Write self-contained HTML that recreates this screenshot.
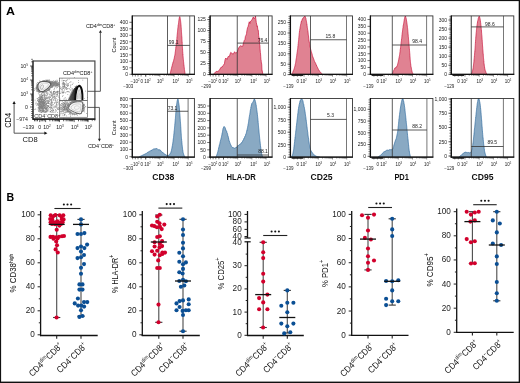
<!DOCTYPE html>
<html><head><meta charset="utf-8"><style>html,body{margin:0;padding:0;background:#fff;overflow:hidden}svg{display:block}text{font-family:"Liberation Sans",sans-serif}</style></head>
<body><svg width="520" height="383" viewBox="0 0 520 383" font-family="Liberation Sans, sans-serif">
<defs><filter id="gf" x="0" y="0" width="1" height="1"><feOffset dx="0" dy="0"/></filter></defs><g filter="url(#gf)"><rect x="0" y="0" width="520" height="383" fill="#fff"/>
<text transform="translate(6.0,14.6) scale(1.13,1)" font-size="11" font-weight="bold" fill="#000">A</text>
<text x="6.60" y="200.60" font-size="10.6" text-anchor="start" font-weight="bold" fill="#000" >B</text>
<path d="M170.00,74.30 L170.00,74.30 L170.08,73.97 L170.18,73.56 L170.30,73.10 L170.42,72.58 L170.56,72.12 L170.71,71.51 L170.87,70.74 L171.03,69.98 L171.20,69.44 L171.37,68.67 L171.54,68.27 L171.71,67.20 L171.88,66.65 L172.04,66.08 L172.20,65.70 L172.36,64.77 L172.50,64.03 L172.67,63.77 L172.83,63.05 L173.00,62.19 L173.16,62.16 L173.32,61.68 L173.48,61.01 L173.64,60.55 L173.80,59.54 L173.96,59.31 L174.11,58.86 L174.26,58.07 L174.41,57.25 L174.56,56.24 L174.70,55.75 L174.79,55.39 L174.87,55.12 L174.96,54.62 L175.05,53.67 L175.13,53.41 L175.22,52.33 L175.30,52.16 L175.38,51.34 L175.47,50.29 L175.55,50.22 L175.63,49.32 L175.71,49.02 L175.79,48.25 L175.87,47.07 L175.94,46.82 L176.02,46.48 L176.09,45.35 L176.16,44.79 L176.23,44.62 L176.30,43.47 L176.37,43.18 L176.44,42.35 L176.50,42.37 L176.58,41.55 L176.65,40.58 L176.72,39.62 L176.79,39.15 L176.85,38.64 L176.91,38.34 L176.97,37.04 L177.03,36.76 L177.09,36.26 L177.14,35.51 L177.20,35.11 L177.25,34.29 L177.31,34.02 L177.36,33.14 L177.42,32.53 L177.48,31.83 L177.54,31.36 L177.60,30.61 L177.67,30.10 L177.75,29.21 L177.82,28.46 L177.90,27.79 L177.98,27.47 L178.06,26.84 L178.13,26.05 L178.21,25.10 L178.29,25.00 L178.37,24.49 L178.44,23.93 L178.52,23.30 L178.59,22.79 L178.66,22.29 L178.73,21.49 L178.80,20.91 L178.94,20.17 L179.08,18.89 L179.21,18.48 L179.33,17.81 L179.45,17.29 L179.57,16.70 L179.70,16.86 L179.83,16.69 L179.96,16.94 L180.09,17.65 L180.22,18.63 L180.35,19.41 L180.48,20.24 L180.60,20.67 L180.65,21.55 L180.70,21.92 L180.75,22.54 L180.80,23.23 L180.85,23.29 L180.90,24.24 L180.95,24.33 L181.00,25.01 L181.05,26.09 L181.10,26.36 L181.15,27.41 L181.20,27.51 L181.25,28.24 L181.30,29.39 L181.35,29.59 L181.40,30.76 L181.44,31.56 L181.48,31.82 L181.51,32.51 L181.55,32.58 L181.59,33.68 L181.63,34.28 L181.67,34.89 L181.71,35.38 L181.75,36.02 L181.80,37.17 L181.84,37.08 L181.88,37.73 L181.92,39.15 L181.96,39.19 L182.00,39.80 L182.04,40.53 L182.08,41.64 L182.12,42.39 L182.15,42.28 L182.19,43.21 L182.23,43.55 L182.26,44.25 L182.30,44.78 L182.34,45.80 L182.38,46.23 L182.42,46.74 L182.46,47.62 L182.50,47.86 L182.53,48.51 L182.56,49.80 L182.60,49.75 L182.63,50.45 L182.67,51.32 L182.70,51.97 L182.74,52.60 L182.77,52.57 L182.81,53.54 L182.86,54.36 L182.90,54.23 L182.95,55.32 L183.00,56.08 L183.05,56.27 L183.11,56.82 L183.16,57.73 L183.23,58.24 L183.29,58.68 L183.35,59.57 L183.42,60.18 L183.49,60.97 L183.55,61.58 L183.62,62.08 L183.69,62.76 L183.76,63.78 L183.83,63.94 L183.89,64.80 L183.96,64.95 L184.02,66.11 L184.08,66.34 L184.14,66.64 L184.20,67.32 L184.30,68.12 L184.39,69.44 L184.49,69.81 L184.59,70.52 L184.68,71.25 L184.77,72.09 L184.85,72.53 L184.93,73.07 L185.00,73.54 L185.05,73.96 L185.10,74.30 L185.10,74.30 Z" fill="#e08292" stroke="none"/>
<path d="M170.00,74.30 L170.08,73.97 L170.18,73.56 L170.30,73.10 L170.42,72.58 L170.56,72.12 L170.71,71.51 L170.87,70.74 L171.03,69.98 L171.20,69.44 L171.37,68.67 L171.54,68.27 L171.71,67.20 L171.88,66.65 L172.04,66.08 L172.20,65.70 L172.36,64.77 L172.50,64.03 L172.67,63.77 L172.83,63.05 L173.00,62.19 L173.16,62.16 L173.32,61.68 L173.48,61.01 L173.64,60.55 L173.80,59.54 L173.96,59.31 L174.11,58.86 L174.26,58.07 L174.41,57.25 L174.56,56.24 L174.70,55.75 L174.79,55.39 L174.87,55.12 L174.96,54.62 L175.05,53.67 L175.13,53.41 L175.22,52.33 L175.30,52.16 L175.38,51.34 L175.47,50.29 L175.55,50.22 L175.63,49.32 L175.71,49.02 L175.79,48.25 L175.87,47.07 L175.94,46.82 L176.02,46.48 L176.09,45.35 L176.16,44.79 L176.23,44.62 L176.30,43.47 L176.37,43.18 L176.44,42.35 L176.50,42.37 L176.58,41.55 L176.65,40.58 L176.72,39.62 L176.79,39.15 L176.85,38.64 L176.91,38.34 L176.97,37.04 L177.03,36.76 L177.09,36.26 L177.14,35.51 L177.20,35.11 L177.25,34.29 L177.31,34.02 L177.36,33.14 L177.42,32.53 L177.48,31.83 L177.54,31.36 L177.60,30.61 L177.67,30.10 L177.75,29.21 L177.82,28.46 L177.90,27.79 L177.98,27.47 L178.06,26.84 L178.13,26.05 L178.21,25.10 L178.29,25.00 L178.37,24.49 L178.44,23.93 L178.52,23.30 L178.59,22.79 L178.66,22.29 L178.73,21.49 L178.80,20.91 L178.94,20.17 L179.08,18.89 L179.21,18.48 L179.33,17.81 L179.45,17.29 L179.57,16.70 L179.70,16.86 L179.83,16.69 L179.96,16.94 L180.09,17.65 L180.22,18.63 L180.35,19.41 L180.48,20.24 L180.60,20.67 L180.65,21.55 L180.70,21.92 L180.75,22.54 L180.80,23.23 L180.85,23.29 L180.90,24.24 L180.95,24.33 L181.00,25.01 L181.05,26.09 L181.10,26.36 L181.15,27.41 L181.20,27.51 L181.25,28.24 L181.30,29.39 L181.35,29.59 L181.40,30.76 L181.44,31.56 L181.48,31.82 L181.51,32.51 L181.55,32.58 L181.59,33.68 L181.63,34.28 L181.67,34.89 L181.71,35.38 L181.75,36.02 L181.80,37.17 L181.84,37.08 L181.88,37.73 L181.92,39.15 L181.96,39.19 L182.00,39.80 L182.04,40.53 L182.08,41.64 L182.12,42.39 L182.15,42.28 L182.19,43.21 L182.23,43.55 L182.26,44.25 L182.30,44.78 L182.34,45.80 L182.38,46.23 L182.42,46.74 L182.46,47.62 L182.50,47.86 L182.53,48.51 L182.56,49.80 L182.60,49.75 L182.63,50.45 L182.67,51.32 L182.70,51.97 L182.74,52.60 L182.77,52.57 L182.81,53.54 L182.86,54.36 L182.90,54.23 L182.95,55.32 L183.00,56.08 L183.05,56.27 L183.11,56.82 L183.16,57.73 L183.23,58.24 L183.29,58.68 L183.35,59.57 L183.42,60.18 L183.49,60.97 L183.55,61.58 L183.62,62.08 L183.69,62.76 L183.76,63.78 L183.83,63.94 L183.89,64.80 L183.96,64.95 L184.02,66.11 L184.08,66.34 L184.14,66.64 L184.20,67.32 L184.30,68.12 L184.39,69.44 L184.49,69.81 L184.59,70.52 L184.68,71.25 L184.77,72.09 L184.85,72.53 L184.93,73.07 L185.00,73.54 L185.05,73.96 L185.10,74.30" fill="none" stroke="#c8143c" stroke-width="0.7" stroke-linejoin="round"/>
<line x1="167.50" y1="15.90" x2="167.50" y2="74.30" stroke="#333" stroke-width="0.8" />
<line x1="189.75" y1="15.90" x2="189.75" y2="74.30" stroke="#555" stroke-width="0.8" />
<line x1="167.50" y1="45.40" x2="189.75" y2="45.40" stroke="#333" stroke-width="0.8" />
<text x="173.70" y="43.50" font-size="5.0" text-anchor="middle" fill="#222" >99.1</text>
<line x1="129.40" y1="74.30" x2="132.30" y2="74.30" stroke="#333" stroke-width="0.7" />
<text x="128.00" y="76.10" font-size="5.0" text-anchor="end" fill="#1a1a1a" >0</text>
<line x1="129.40" y1="67.80" x2="132.30" y2="67.80" stroke="#333" stroke-width="0.7" />
<text x="128.00" y="69.60" font-size="5.0" text-anchor="end" fill="#1a1a1a" >50</text>
<line x1="129.40" y1="61.30" x2="132.30" y2="61.30" stroke="#333" stroke-width="0.7" />
<text x="128.00" y="63.10" font-size="5.0" text-anchor="end" fill="#1a1a1a" >100</text>
<line x1="129.40" y1="54.80" x2="132.30" y2="54.80" stroke="#333" stroke-width="0.7" />
<text x="128.00" y="56.60" font-size="5.0" text-anchor="end" fill="#1a1a1a" >150</text>
<line x1="129.40" y1="48.30" x2="132.30" y2="48.30" stroke="#333" stroke-width="0.7" />
<text x="128.00" y="50.10" font-size="5.0" text-anchor="end" fill="#1a1a1a" >200</text>
<line x1="129.40" y1="41.80" x2="132.30" y2="41.80" stroke="#333" stroke-width="0.7" />
<text x="128.00" y="43.60" font-size="5.0" text-anchor="end" fill="#1a1a1a" >250</text>
<line x1="129.40" y1="35.30" x2="132.30" y2="35.30" stroke="#333" stroke-width="0.7" />
<text x="128.00" y="37.10" font-size="5.0" text-anchor="end" fill="#1a1a1a" >300</text>
<line x1="129.40" y1="28.80" x2="132.30" y2="28.80" stroke="#333" stroke-width="0.7" />
<text x="128.00" y="30.60" font-size="5.0" text-anchor="end" fill="#1a1a1a" >350</text>
<line x1="129.40" y1="22.30" x2="132.30" y2="22.30" stroke="#333" stroke-width="0.7" />
<text x="128.00" y="24.10" font-size="5.0" text-anchor="end" fill="#1a1a1a" >400</text>
<line x1="145.70" y1="74.30" x2="145.70" y2="76.70" stroke="#333" stroke-width="0.55" />
<line x1="149.97" y1="74.30" x2="149.97" y2="75.80" stroke="#333" stroke-width="0.55" />
<line x1="152.48" y1="74.30" x2="152.48" y2="75.80" stroke="#333" stroke-width="0.55" />
<line x1="154.25" y1="74.30" x2="154.25" y2="75.80" stroke="#333" stroke-width="0.55" />
<line x1="155.63" y1="74.30" x2="155.63" y2="75.80" stroke="#333" stroke-width="0.55" />
<line x1="156.75" y1="74.30" x2="156.75" y2="75.80" stroke="#333" stroke-width="0.55" />
<line x1="157.70" y1="74.30" x2="157.70" y2="75.80" stroke="#333" stroke-width="0.55" />
<line x1="158.52" y1="74.30" x2="158.52" y2="75.80" stroke="#333" stroke-width="0.55" />
<line x1="159.25" y1="74.30" x2="159.25" y2="75.80" stroke="#333" stroke-width="0.55" />
<line x1="159.90" y1="74.30" x2="159.90" y2="76.70" stroke="#333" stroke-width="0.55" />
<line x1="164.17" y1="74.30" x2="164.17" y2="75.80" stroke="#333" stroke-width="0.55" />
<line x1="166.68" y1="74.30" x2="166.68" y2="75.80" stroke="#333" stroke-width="0.55" />
<line x1="168.45" y1="74.30" x2="168.45" y2="75.80" stroke="#333" stroke-width="0.55" />
<line x1="169.83" y1="74.30" x2="169.83" y2="75.80" stroke="#333" stroke-width="0.55" />
<line x1="170.95" y1="74.30" x2="170.95" y2="75.80" stroke="#333" stroke-width="0.55" />
<line x1="171.90" y1="74.30" x2="171.90" y2="75.80" stroke="#333" stroke-width="0.55" />
<line x1="172.72" y1="74.30" x2="172.72" y2="75.80" stroke="#333" stroke-width="0.55" />
<line x1="173.45" y1="74.30" x2="173.45" y2="75.80" stroke="#333" stroke-width="0.55" />
<line x1="174.10" y1="74.30" x2="174.10" y2="76.70" stroke="#333" stroke-width="0.55" />
<line x1="178.37" y1="74.30" x2="178.37" y2="75.80" stroke="#333" stroke-width="0.55" />
<line x1="180.88" y1="74.30" x2="180.88" y2="75.80" stroke="#333" stroke-width="0.55" />
<line x1="182.65" y1="74.30" x2="182.65" y2="75.80" stroke="#333" stroke-width="0.55" />
<line x1="184.03" y1="74.30" x2="184.03" y2="75.80" stroke="#333" stroke-width="0.55" />
<line x1="185.15" y1="74.30" x2="185.15" y2="75.80" stroke="#333" stroke-width="0.55" />
<line x1="186.10" y1="74.30" x2="186.10" y2="75.80" stroke="#333" stroke-width="0.55" />
<line x1="186.92" y1="74.30" x2="186.92" y2="75.80" stroke="#333" stroke-width="0.55" />
<line x1="187.65" y1="74.30" x2="187.65" y2="75.80" stroke="#333" stroke-width="0.55" />
<line x1="188.30" y1="74.30" x2="188.30" y2="76.70" stroke="#333" stroke-width="0.55" />
<line x1="132.60" y1="74.30" x2="132.60" y2="76.50" stroke="#222" stroke-width="0.6" />
<line x1="135.30" y1="74.30" x2="135.30" y2="76.50" stroke="#222" stroke-width="0.6" />
<line x1="138.00" y1="74.30" x2="138.00" y2="76.50" stroke="#222" stroke-width="0.6" />
<line x1="141.10" y1="74.30" x2="141.10" y2="76.50" stroke="#222" stroke-width="0.6" />
<line x1="145.70" y1="74.30" x2="145.70" y2="76.50" stroke="#222" stroke-width="0.6" />
<text x="130.40" y="83.20" font-size="4.5" fill="#222">&#8722;10<tspan font-size="2.70" dy="-2.02">2</tspan></text>
<text x="140.60" y="83.20" font-size="4.5" fill="#222">0</text>
<text x="144.20" y="83.20" font-size="4.5" fill="#222">10<tspan font-size="2.70" dy="-2.02">2</tspan></text>
<text x="156.90" y="83.20" font-size="4.5" fill="#222">10<tspan font-size="2.70" dy="-2.02">3</tspan></text>
<text x="172.40" y="83.20" font-size="4.5" fill="#222">10<tspan font-size="2.70" dy="-2.02">4</tspan></text>
<text x="185.90" y="83.20" font-size="4.5" fill="#222">10<tspan font-size="2.70" dy="-2.02">5</tspan></text>
<text x="133.30" y="87.60" font-size="4.5" text-anchor="end" fill="#222" >&#8722;303</text>
<rect x="132.30" y="15.90" width="62.10" height="58.40" fill="none" stroke="#333" stroke-width="0.9"/>
<line x1="132.30" y1="15.45" x2="132.30" y2="74.90" stroke="#111" stroke-width="1.3" />
<line x1="131.70" y1="74.30" x2="194.85" y2="74.30" stroke="#111" stroke-width="1.3" />
<text transform="translate(116.20,45.10) rotate(-90)" font-size="5.6" text-anchor="middle" fill="#111">Count</text>
<path d="M213.30,74.30 L213.30,74.30 L214.47,73.34 L216.14,71.39 L217.80,71.46 L219.30,70.36 L220.80,67.50 L222.20,66.98 L222.97,65.56 L223.70,64.89 L224.41,63.87 L225.10,59.58 L225.80,58.01 L227.00,59.48 L228.20,56.41 L229.30,56.55 L230.71,52.39 L232.00,53.48 L233.30,54.19 L234.60,51.72 L235.89,53.39 L237.30,51.81 L238.99,47.20 L240.80,45.60 L241.74,46.36 L242.71,46.38 L243.62,42.46 L244.40,40.17 L244.98,39.48 L245.41,36.43 L245.79,35.66 L246.20,34.85 L246.55,33.57 L246.88,30.88 L247.22,29.18 L247.59,27.49 L248.00,26.94 L248.59,24.50 L249.24,21.75 L249.92,23.51 L250.60,21.13 L252.01,19.84 L253.30,16.94 L254.24,18.76 L255.00,17.84 L255.44,16.05 L255.84,18.87 L256.30,22.69 L256.63,24.01 L257.00,26.35 L257.38,25.85 L257.76,29.20 L258.10,30.48 L258.29,30.33 L258.48,32.86 L258.65,35.50 L258.83,36.88 L258.99,37.11 L259.16,39.10 L259.33,38.59 L259.50,41.17 L259.64,44.86 L259.78,44.88 L259.92,45.54 L260.06,48.71 L260.21,51.01 L260.35,52.58 L260.49,53.05 L260.63,54.93 L260.76,56.76 L260.90,59.31 L261.07,60.07 L261.24,61.33 L261.42,63.45 L261.59,63.29 L261.75,64.92 L261.91,69.01 L262.06,71.04 L262.20,70.83 L262.68,73.22 L263.00,74.30 L263.00,74.30 Z" fill="#e08292" stroke="none"/>
<path d="M213.30,74.30 L214.47,73.34 L216.14,71.39 L217.80,71.46 L219.30,70.36 L220.80,67.50 L222.20,66.98 L222.97,65.56 L223.70,64.89 L224.41,63.87 L225.10,59.58 L225.80,58.01 L227.00,59.48 L228.20,56.41 L229.30,56.55 L230.71,52.39 L232.00,53.48 L233.30,54.19 L234.60,51.72 L235.89,53.39 L237.30,51.81 L238.99,47.20 L240.80,45.60 L241.74,46.36 L242.71,46.38 L243.62,42.46 L244.40,40.17 L244.98,39.48 L245.41,36.43 L245.79,35.66 L246.20,34.85 L246.55,33.57 L246.88,30.88 L247.22,29.18 L247.59,27.49 L248.00,26.94 L248.59,24.50 L249.24,21.75 L249.92,23.51 L250.60,21.13 L252.01,19.84 L253.30,16.94 L254.24,18.76 L255.00,17.84 L255.44,16.05 L255.84,18.87 L256.30,22.69 L256.63,24.01 L257.00,26.35 L257.38,25.85 L257.76,29.20 L258.10,30.48 L258.29,30.33 L258.48,32.86 L258.65,35.50 L258.83,36.88 L258.99,37.11 L259.16,39.10 L259.33,38.59 L259.50,41.17 L259.64,44.86 L259.78,44.88 L259.92,45.54 L260.06,48.71 L260.21,51.01 L260.35,52.58 L260.49,53.05 L260.63,54.93 L260.76,56.76 L260.90,59.31 L261.07,60.07 L261.24,61.33 L261.42,63.45 L261.59,63.29 L261.75,64.92 L261.91,69.01 L262.06,71.04 L262.20,70.83 L262.68,73.22 L263.00,74.30" fill="none" stroke="#c8143c" stroke-width="0.7" stroke-linejoin="round"/>
<line x1="237.25" y1="15.90" x2="237.25" y2="74.30" stroke="#333" stroke-width="0.8" />
<line x1="268.50" y1="15.90" x2="268.50" y2="74.30" stroke="#555" stroke-width="0.8" />
<line x1="237.25" y1="43.10" x2="268.50" y2="43.10" stroke="#333" stroke-width="0.8" />
<text x="262.50" y="41.60" font-size="5.0" text-anchor="middle" fill="#222" >76.4</text>
<line x1="207.20" y1="74.60" x2="210.10" y2="74.60" stroke="#333" stroke-width="0.7" />
<text x="205.80" y="76.40" font-size="5.0" text-anchor="end" fill="#1a1a1a" >0</text>
<line x1="207.20" y1="63.60" x2="210.10" y2="63.60" stroke="#333" stroke-width="0.7" />
<text x="205.80" y="65.40" font-size="5.0" text-anchor="end" fill="#1a1a1a" >25</text>
<line x1="207.20" y1="52.60" x2="210.10" y2="52.60" stroke="#333" stroke-width="0.7" />
<text x="205.80" y="54.40" font-size="5.0" text-anchor="end" fill="#1a1a1a" >50</text>
<line x1="207.20" y1="41.60" x2="210.10" y2="41.60" stroke="#333" stroke-width="0.7" />
<text x="205.80" y="43.40" font-size="5.0" text-anchor="end" fill="#1a1a1a" >75</text>
<line x1="207.20" y1="30.60" x2="210.10" y2="30.60" stroke="#333" stroke-width="0.7" />
<text x="205.80" y="32.40" font-size="5.0" text-anchor="end" fill="#1a1a1a" >100</text>
<line x1="207.20" y1="19.60" x2="210.10" y2="19.60" stroke="#333" stroke-width="0.7" />
<text x="205.80" y="21.40" font-size="5.0" text-anchor="end" fill="#1a1a1a" >125</text>
<line x1="208.10" y1="74.60" x2="210.10" y2="74.60" stroke="#333" stroke-width="0.55" />
<line x1="208.10" y1="72.40" x2="210.10" y2="72.40" stroke="#333" stroke-width="0.55" />
<line x1="208.10" y1="70.20" x2="210.10" y2="70.20" stroke="#333" stroke-width="0.55" />
<line x1="208.10" y1="68.00" x2="210.10" y2="68.00" stroke="#333" stroke-width="0.55" />
<line x1="208.10" y1="65.80" x2="210.10" y2="65.80" stroke="#333" stroke-width="0.55" />
<line x1="208.10" y1="63.60" x2="210.10" y2="63.60" stroke="#333" stroke-width="0.55" />
<line x1="208.10" y1="61.40" x2="210.10" y2="61.40" stroke="#333" stroke-width="0.55" />
<line x1="208.10" y1="59.20" x2="210.10" y2="59.20" stroke="#333" stroke-width="0.55" />
<line x1="208.10" y1="57.00" x2="210.10" y2="57.00" stroke="#333" stroke-width="0.55" />
<line x1="208.10" y1="54.80" x2="210.10" y2="54.80" stroke="#333" stroke-width="0.55" />
<line x1="208.10" y1="52.60" x2="210.10" y2="52.60" stroke="#333" stroke-width="0.55" />
<line x1="208.10" y1="50.40" x2="210.10" y2="50.40" stroke="#333" stroke-width="0.55" />
<line x1="208.10" y1="48.20" x2="210.10" y2="48.20" stroke="#333" stroke-width="0.55" />
<line x1="208.10" y1="46.00" x2="210.10" y2="46.00" stroke="#333" stroke-width="0.55" />
<line x1="208.10" y1="43.80" x2="210.10" y2="43.80" stroke="#333" stroke-width="0.55" />
<line x1="208.10" y1="41.60" x2="210.10" y2="41.60" stroke="#333" stroke-width="0.55" />
<line x1="208.10" y1="39.40" x2="210.10" y2="39.40" stroke="#333" stroke-width="0.55" />
<line x1="208.10" y1="37.20" x2="210.10" y2="37.20" stroke="#333" stroke-width="0.55" />
<line x1="208.10" y1="35.00" x2="210.10" y2="35.00" stroke="#333" stroke-width="0.55" />
<line x1="208.10" y1="32.80" x2="210.10" y2="32.80" stroke="#333" stroke-width="0.55" />
<line x1="208.10" y1="30.60" x2="210.10" y2="30.60" stroke="#333" stroke-width="0.55" />
<line x1="208.10" y1="28.40" x2="210.10" y2="28.40" stroke="#333" stroke-width="0.55" />
<line x1="208.10" y1="26.20" x2="210.10" y2="26.20" stroke="#333" stroke-width="0.55" />
<line x1="208.10" y1="24.00" x2="210.10" y2="24.00" stroke="#333" stroke-width="0.55" />
<line x1="208.10" y1="21.80" x2="210.10" y2="21.80" stroke="#333" stroke-width="0.55" />
<line x1="208.10" y1="19.60" x2="210.10" y2="19.60" stroke="#333" stroke-width="0.55" />
<line x1="208.10" y1="17.40" x2="210.10" y2="17.40" stroke="#333" stroke-width="0.55" />
<line x1="223.50" y1="74.30" x2="223.50" y2="76.70" stroke="#333" stroke-width="0.55" />
<line x1="227.77" y1="74.30" x2="227.77" y2="75.80" stroke="#333" stroke-width="0.55" />
<line x1="230.28" y1="74.30" x2="230.28" y2="75.80" stroke="#333" stroke-width="0.55" />
<line x1="232.05" y1="74.30" x2="232.05" y2="75.80" stroke="#333" stroke-width="0.55" />
<line x1="233.43" y1="74.30" x2="233.43" y2="75.80" stroke="#333" stroke-width="0.55" />
<line x1="234.55" y1="74.30" x2="234.55" y2="75.80" stroke="#333" stroke-width="0.55" />
<line x1="235.50" y1="74.30" x2="235.50" y2="75.80" stroke="#333" stroke-width="0.55" />
<line x1="236.32" y1="74.30" x2="236.32" y2="75.80" stroke="#333" stroke-width="0.55" />
<line x1="237.05" y1="74.30" x2="237.05" y2="75.80" stroke="#333" stroke-width="0.55" />
<line x1="237.70" y1="74.30" x2="237.70" y2="76.70" stroke="#333" stroke-width="0.55" />
<line x1="241.97" y1="74.30" x2="241.97" y2="75.80" stroke="#333" stroke-width="0.55" />
<line x1="244.48" y1="74.30" x2="244.48" y2="75.80" stroke="#333" stroke-width="0.55" />
<line x1="246.25" y1="74.30" x2="246.25" y2="75.80" stroke="#333" stroke-width="0.55" />
<line x1="247.63" y1="74.30" x2="247.63" y2="75.80" stroke="#333" stroke-width="0.55" />
<line x1="248.75" y1="74.30" x2="248.75" y2="75.80" stroke="#333" stroke-width="0.55" />
<line x1="249.70" y1="74.30" x2="249.70" y2="75.80" stroke="#333" stroke-width="0.55" />
<line x1="250.52" y1="74.30" x2="250.52" y2="75.80" stroke="#333" stroke-width="0.55" />
<line x1="251.25" y1="74.30" x2="251.25" y2="75.80" stroke="#333" stroke-width="0.55" />
<line x1="251.90" y1="74.30" x2="251.90" y2="76.70" stroke="#333" stroke-width="0.55" />
<line x1="256.17" y1="74.30" x2="256.17" y2="75.80" stroke="#333" stroke-width="0.55" />
<line x1="258.68" y1="74.30" x2="258.68" y2="75.80" stroke="#333" stroke-width="0.55" />
<line x1="260.45" y1="74.30" x2="260.45" y2="75.80" stroke="#333" stroke-width="0.55" />
<line x1="261.83" y1="74.30" x2="261.83" y2="75.80" stroke="#333" stroke-width="0.55" />
<line x1="262.95" y1="74.30" x2="262.95" y2="75.80" stroke="#333" stroke-width="0.55" />
<line x1="263.90" y1="74.30" x2="263.90" y2="75.80" stroke="#333" stroke-width="0.55" />
<line x1="264.72" y1="74.30" x2="264.72" y2="75.80" stroke="#333" stroke-width="0.55" />
<line x1="265.45" y1="74.30" x2="265.45" y2="75.80" stroke="#333" stroke-width="0.55" />
<line x1="266.10" y1="74.30" x2="266.10" y2="76.70" stroke="#333" stroke-width="0.55" />
<line x1="210.40" y1="74.30" x2="210.40" y2="76.50" stroke="#222" stroke-width="0.6" />
<line x1="213.10" y1="74.30" x2="213.10" y2="76.50" stroke="#222" stroke-width="0.6" />
<line x1="215.80" y1="74.30" x2="215.80" y2="76.50" stroke="#222" stroke-width="0.6" />
<line x1="218.90" y1="74.30" x2="218.90" y2="76.50" stroke="#222" stroke-width="0.6" />
<line x1="223.50" y1="74.30" x2="223.50" y2="76.50" stroke="#222" stroke-width="0.6" />
<text x="208.20" y="83.20" font-size="4.5" fill="#222">&#8722;10<tspan font-size="2.70" dy="-2.02">2</tspan></text>
<text x="218.40" y="83.20" font-size="4.5" fill="#222">0</text>
<text x="222.00" y="83.20" font-size="4.5" fill="#222">10<tspan font-size="2.70" dy="-2.02">2</tspan></text>
<text x="234.70" y="83.20" font-size="4.5" fill="#222">10<tspan font-size="2.70" dy="-2.02">3</tspan></text>
<text x="250.20" y="83.20" font-size="4.5" fill="#222">10<tspan font-size="2.70" dy="-2.02">4</tspan></text>
<text x="263.70" y="83.20" font-size="4.5" fill="#222">10<tspan font-size="2.70" dy="-2.02">5</tspan></text>
<text x="211.10" y="87.60" font-size="4.5" text-anchor="end" fill="#222" >&#8722;299</text>
<rect x="210.10" y="15.90" width="62.00" height="58.40" fill="none" stroke="#333" stroke-width="0.9"/>
<line x1="210.10" y1="15.45" x2="210.10" y2="74.90" stroke="#111" stroke-width="1.3" />
<line x1="209.50" y1="74.30" x2="272.55" y2="74.30" stroke="#111" stroke-width="1.3" />
<path d="M291.90,74.30 L291.90,74.30 L292.02,73.98 L292.17,73.62 L292.34,73.22 L292.54,72.77 L292.75,72.41 L292.97,71.92 L293.21,71.03 L293.45,70.40 L293.70,70.16 L293.95,69.44 L294.20,68.70 L294.44,67.65 L294.67,67.09 L294.89,66.26 L295.10,65.36 L295.20,64.57 L295.30,64.31 L295.39,63.78 L295.49,63.53 L295.59,63.22 L295.69,62.63 L295.79,61.75 L295.88,61.09 L295.98,60.36 L296.07,59.58 L296.17,58.97 L296.26,58.70 L296.36,57.96 L296.45,57.38 L296.54,57.15 L296.64,56.22 L296.73,55.60 L296.82,54.70 L296.90,53.89 L296.99,53.49 L297.08,52.69 L297.16,52.36 L297.25,52.11 L297.33,51.23 L297.41,50.21 L297.49,50.17 L297.57,49.48 L297.65,48.84 L297.73,48.40 L297.80,47.71 L297.88,47.08 L297.96,46.08 L298.04,45.92 L298.12,45.25 L298.19,43.95 L298.26,43.76 L298.33,43.07 L298.39,42.21 L298.46,41.61 L298.52,40.92 L298.58,40.62 L298.65,39.63 L298.71,39.26 L298.77,38.24 L298.83,38.04 L298.88,37.43 L298.94,36.47 L299.00,35.95 L299.06,35.64 L299.12,34.90 L299.18,34.14 L299.24,33.37 L299.31,32.91 L299.37,32.68 L299.43,31.73 L299.50,31.83 L299.61,30.52 L299.72,30.27 L299.83,29.05 L299.94,28.85 L300.06,27.96 L300.17,27.14 L300.28,26.51 L300.39,26.00 L300.51,25.35 L300.62,24.56 L300.73,23.94 L300.85,23.66 L300.96,23.50 L301.07,22.78 L301.19,21.89 L301.30,22.06 L301.60,21.01 L301.90,20.41 L302.20,19.26 L302.50,19.24 L302.80,18.27 L303.10,18.32 L303.57,17.36 L304.06,16.74 L304.51,16.86 L304.90,16.09 L305.27,16.65 L305.54,17.55 L305.80,18.00 L305.92,18.43 L306.02,19.47 L306.12,19.65 L306.23,20.50 L306.34,20.65 L306.46,21.70 L306.60,22.44 L306.68,23.33 L306.76,23.38 L306.84,24.63 L306.93,24.47 L307.02,25.63 L307.12,25.69 L307.21,26.52 L307.31,27.62 L307.41,27.77 L307.51,28.47 L307.61,29.56 L307.70,30.01 L307.80,30.44 L307.90,31.89 L307.98,31.80 L308.06,32.31 L308.14,33.17 L308.21,34.02 L308.29,34.76 L308.37,34.90 L308.45,35.73 L308.53,36.14 L308.61,37.13 L308.69,38.04 L308.77,38.67 L308.86,39.45 L308.94,39.97 L309.03,40.69 L309.12,41.18 L309.21,41.59 L309.30,41.98 L309.41,42.98 L309.51,43.34 L309.62,43.79 L309.73,44.68 L309.84,45.63 L309.95,45.63 L310.07,46.59 L310.18,47.03 L310.30,47.70 L310.43,47.98 L310.55,49.21 L310.68,49.21 L310.82,50.06 L310.96,50.47 L311.10,50.71 L311.26,51.75 L311.43,52.02 L311.60,52.55 L311.78,53.13 L311.97,53.83 L312.15,54.36 L312.34,55.38 L312.54,55.85 L312.73,56.80 L312.93,57.32 L313.12,57.92 L313.32,57.85 L313.51,58.54 L313.70,58.90 L313.94,59.81 L314.18,60.45 L314.43,61.19 L314.67,61.69 L314.92,61.90 L315.17,62.58 L315.41,63.21 L315.66,63.33 L315.91,63.88 L316.15,64.70 L316.40,64.99 L316.70,66.12 L316.98,66.36 L317.27,66.87 L317.56,67.55 L317.85,68.19 L318.14,68.78 L318.45,69.56 L318.76,70.07 L319.10,70.51 L319.52,71.22 L320.00,71.63 L320.51,72.38 L321.02,72.78 L321.51,73.25 L321.95,73.67 L322.32,74.03 L322.60,74.30 L322.60,74.30 Z" fill="#e08292" stroke="none"/>
<path d="M291.90,74.30 L292.02,73.98 L292.17,73.62 L292.34,73.22 L292.54,72.77 L292.75,72.41 L292.97,71.92 L293.21,71.03 L293.45,70.40 L293.70,70.16 L293.95,69.44 L294.20,68.70 L294.44,67.65 L294.67,67.09 L294.89,66.26 L295.10,65.36 L295.20,64.57 L295.30,64.31 L295.39,63.78 L295.49,63.53 L295.59,63.22 L295.69,62.63 L295.79,61.75 L295.88,61.09 L295.98,60.36 L296.07,59.58 L296.17,58.97 L296.26,58.70 L296.36,57.96 L296.45,57.38 L296.54,57.15 L296.64,56.22 L296.73,55.60 L296.82,54.70 L296.90,53.89 L296.99,53.49 L297.08,52.69 L297.16,52.36 L297.25,52.11 L297.33,51.23 L297.41,50.21 L297.49,50.17 L297.57,49.48 L297.65,48.84 L297.73,48.40 L297.80,47.71 L297.88,47.08 L297.96,46.08 L298.04,45.92 L298.12,45.25 L298.19,43.95 L298.26,43.76 L298.33,43.07 L298.39,42.21 L298.46,41.61 L298.52,40.92 L298.58,40.62 L298.65,39.63 L298.71,39.26 L298.77,38.24 L298.83,38.04 L298.88,37.43 L298.94,36.47 L299.00,35.95 L299.06,35.64 L299.12,34.90 L299.18,34.14 L299.24,33.37 L299.31,32.91 L299.37,32.68 L299.43,31.73 L299.50,31.83 L299.61,30.52 L299.72,30.27 L299.83,29.05 L299.94,28.85 L300.06,27.96 L300.17,27.14 L300.28,26.51 L300.39,26.00 L300.51,25.35 L300.62,24.56 L300.73,23.94 L300.85,23.66 L300.96,23.50 L301.07,22.78 L301.19,21.89 L301.30,22.06 L301.60,21.01 L301.90,20.41 L302.20,19.26 L302.50,19.24 L302.80,18.27 L303.10,18.32 L303.57,17.36 L304.06,16.74 L304.51,16.86 L304.90,16.09 L305.27,16.65 L305.54,17.55 L305.80,18.00 L305.92,18.43 L306.02,19.47 L306.12,19.65 L306.23,20.50 L306.34,20.65 L306.46,21.70 L306.60,22.44 L306.68,23.33 L306.76,23.38 L306.84,24.63 L306.93,24.47 L307.02,25.63 L307.12,25.69 L307.21,26.52 L307.31,27.62 L307.41,27.77 L307.51,28.47 L307.61,29.56 L307.70,30.01 L307.80,30.44 L307.90,31.89 L307.98,31.80 L308.06,32.31 L308.14,33.17 L308.21,34.02 L308.29,34.76 L308.37,34.90 L308.45,35.73 L308.53,36.14 L308.61,37.13 L308.69,38.04 L308.77,38.67 L308.86,39.45 L308.94,39.97 L309.03,40.69 L309.12,41.18 L309.21,41.59 L309.30,41.98 L309.41,42.98 L309.51,43.34 L309.62,43.79 L309.73,44.68 L309.84,45.63 L309.95,45.63 L310.07,46.59 L310.18,47.03 L310.30,47.70 L310.43,47.98 L310.55,49.21 L310.68,49.21 L310.82,50.06 L310.96,50.47 L311.10,50.71 L311.26,51.75 L311.43,52.02 L311.60,52.55 L311.78,53.13 L311.97,53.83 L312.15,54.36 L312.34,55.38 L312.54,55.85 L312.73,56.80 L312.93,57.32 L313.12,57.92 L313.32,57.85 L313.51,58.54 L313.70,58.90 L313.94,59.81 L314.18,60.45 L314.43,61.19 L314.67,61.69 L314.92,61.90 L315.17,62.58 L315.41,63.21 L315.66,63.33 L315.91,63.88 L316.15,64.70 L316.40,64.99 L316.70,66.12 L316.98,66.36 L317.27,66.87 L317.56,67.55 L317.85,68.19 L318.14,68.78 L318.45,69.56 L318.76,70.07 L319.10,70.51 L319.52,71.22 L320.00,71.63 L320.51,72.38 L321.02,72.78 L321.51,73.25 L321.95,73.67 L322.32,74.03 L322.60,74.30" fill="none" stroke="#c8143c" stroke-width="0.7" stroke-linejoin="round"/>
<line x1="310.50" y1="15.90" x2="310.50" y2="74.30" stroke="#333" stroke-width="0.8" />
<line x1="346.50" y1="15.90" x2="346.50" y2="74.30" stroke="#555" stroke-width="0.8" />
<line x1="310.50" y1="39.75" x2="346.50" y2="39.75" stroke="#333" stroke-width="0.8" />
<text x="330.40" y="38.10" font-size="5.0" text-anchor="middle" fill="#222" >15.8</text>
<line x1="287.50" y1="74.60" x2="290.40" y2="74.60" stroke="#333" stroke-width="0.7" />
<text x="286.10" y="76.40" font-size="5.0" text-anchor="end" fill="#1a1a1a" >0</text>
<line x1="287.50" y1="64.20" x2="290.40" y2="64.20" stroke="#333" stroke-width="0.7" />
<text x="286.10" y="66.00" font-size="5.0" text-anchor="end" fill="#1a1a1a" >50</text>
<line x1="287.50" y1="53.80" x2="290.40" y2="53.80" stroke="#333" stroke-width="0.7" />
<text x="286.10" y="55.60" font-size="5.0" text-anchor="end" fill="#1a1a1a" >100</text>
<line x1="287.50" y1="43.40" x2="290.40" y2="43.40" stroke="#333" stroke-width="0.7" />
<text x="286.10" y="45.20" font-size="5.0" text-anchor="end" fill="#1a1a1a" >150</text>
<line x1="287.50" y1="33.00" x2="290.40" y2="33.00" stroke="#333" stroke-width="0.7" />
<text x="286.10" y="34.80" font-size="5.0" text-anchor="end" fill="#1a1a1a" >200</text>
<line x1="287.50" y1="22.60" x2="290.40" y2="22.60" stroke="#333" stroke-width="0.7" />
<text x="286.10" y="24.40" font-size="5.0" text-anchor="end" fill="#1a1a1a" >250</text>
<line x1="288.40" y1="74.60" x2="290.40" y2="74.60" stroke="#333" stroke-width="0.55" />
<line x1="288.40" y1="72.52" x2="290.40" y2="72.52" stroke="#333" stroke-width="0.55" />
<line x1="288.40" y1="70.44" x2="290.40" y2="70.44" stroke="#333" stroke-width="0.55" />
<line x1="288.40" y1="68.36" x2="290.40" y2="68.36" stroke="#333" stroke-width="0.55" />
<line x1="288.40" y1="66.28" x2="290.40" y2="66.28" stroke="#333" stroke-width="0.55" />
<line x1="288.40" y1="64.20" x2="290.40" y2="64.20" stroke="#333" stroke-width="0.55" />
<line x1="288.40" y1="62.12" x2="290.40" y2="62.12" stroke="#333" stroke-width="0.55" />
<line x1="288.40" y1="60.04" x2="290.40" y2="60.04" stroke="#333" stroke-width="0.55" />
<line x1="288.40" y1="57.96" x2="290.40" y2="57.96" stroke="#333" stroke-width="0.55" />
<line x1="288.40" y1="55.88" x2="290.40" y2="55.88" stroke="#333" stroke-width="0.55" />
<line x1="288.40" y1="53.80" x2="290.40" y2="53.80" stroke="#333" stroke-width="0.55" />
<line x1="288.40" y1="51.72" x2="290.40" y2="51.72" stroke="#333" stroke-width="0.55" />
<line x1="288.40" y1="49.64" x2="290.40" y2="49.64" stroke="#333" stroke-width="0.55" />
<line x1="288.40" y1="47.56" x2="290.40" y2="47.56" stroke="#333" stroke-width="0.55" />
<line x1="288.40" y1="45.48" x2="290.40" y2="45.48" stroke="#333" stroke-width="0.55" />
<line x1="288.40" y1="43.40" x2="290.40" y2="43.40" stroke="#333" stroke-width="0.55" />
<line x1="288.40" y1="41.32" x2="290.40" y2="41.32" stroke="#333" stroke-width="0.55" />
<line x1="288.40" y1="39.24" x2="290.40" y2="39.24" stroke="#333" stroke-width="0.55" />
<line x1="288.40" y1="37.16" x2="290.40" y2="37.16" stroke="#333" stroke-width="0.55" />
<line x1="288.40" y1="35.08" x2="290.40" y2="35.08" stroke="#333" stroke-width="0.55" />
<line x1="288.40" y1="33.00" x2="290.40" y2="33.00" stroke="#333" stroke-width="0.55" />
<line x1="288.40" y1="30.92" x2="290.40" y2="30.92" stroke="#333" stroke-width="0.55" />
<line x1="288.40" y1="28.84" x2="290.40" y2="28.84" stroke="#333" stroke-width="0.55" />
<line x1="288.40" y1="26.76" x2="290.40" y2="26.76" stroke="#333" stroke-width="0.55" />
<line x1="288.40" y1="24.68" x2="290.40" y2="24.68" stroke="#333" stroke-width="0.55" />
<line x1="288.40" y1="22.60" x2="290.40" y2="22.60" stroke="#333" stroke-width="0.55" />
<line x1="288.40" y1="20.52" x2="290.40" y2="20.52" stroke="#333" stroke-width="0.55" />
<line x1="288.40" y1="18.44" x2="290.40" y2="18.44" stroke="#333" stroke-width="0.55" />
<line x1="288.40" y1="16.36" x2="290.40" y2="16.36" stroke="#333" stroke-width="0.55" />
<line x1="304.10" y1="74.30" x2="304.10" y2="76.70" stroke="#333" stroke-width="0.55" />
<line x1="308.37" y1="74.30" x2="308.37" y2="75.80" stroke="#333" stroke-width="0.55" />
<line x1="310.88" y1="74.30" x2="310.88" y2="75.80" stroke="#333" stroke-width="0.55" />
<line x1="312.65" y1="74.30" x2="312.65" y2="75.80" stroke="#333" stroke-width="0.55" />
<line x1="314.03" y1="74.30" x2="314.03" y2="75.80" stroke="#333" stroke-width="0.55" />
<line x1="315.15" y1="74.30" x2="315.15" y2="75.80" stroke="#333" stroke-width="0.55" />
<line x1="316.10" y1="74.30" x2="316.10" y2="75.80" stroke="#333" stroke-width="0.55" />
<line x1="316.92" y1="74.30" x2="316.92" y2="75.80" stroke="#333" stroke-width="0.55" />
<line x1="317.65" y1="74.30" x2="317.65" y2="75.80" stroke="#333" stroke-width="0.55" />
<line x1="318.30" y1="74.30" x2="318.30" y2="76.70" stroke="#333" stroke-width="0.55" />
<line x1="322.57" y1="74.30" x2="322.57" y2="75.80" stroke="#333" stroke-width="0.55" />
<line x1="325.08" y1="74.30" x2="325.08" y2="75.80" stroke="#333" stroke-width="0.55" />
<line x1="326.85" y1="74.30" x2="326.85" y2="75.80" stroke="#333" stroke-width="0.55" />
<line x1="328.23" y1="74.30" x2="328.23" y2="75.80" stroke="#333" stroke-width="0.55" />
<line x1="329.35" y1="74.30" x2="329.35" y2="75.80" stroke="#333" stroke-width="0.55" />
<line x1="330.30" y1="74.30" x2="330.30" y2="75.80" stroke="#333" stroke-width="0.55" />
<line x1="331.12" y1="74.30" x2="331.12" y2="75.80" stroke="#333" stroke-width="0.55" />
<line x1="331.85" y1="74.30" x2="331.85" y2="75.80" stroke="#333" stroke-width="0.55" />
<line x1="332.50" y1="74.30" x2="332.50" y2="76.70" stroke="#333" stroke-width="0.55" />
<line x1="336.77" y1="74.30" x2="336.77" y2="75.80" stroke="#333" stroke-width="0.55" />
<line x1="339.28" y1="74.30" x2="339.28" y2="75.80" stroke="#333" stroke-width="0.55" />
<line x1="341.05" y1="74.30" x2="341.05" y2="75.80" stroke="#333" stroke-width="0.55" />
<line x1="342.43" y1="74.30" x2="342.43" y2="75.80" stroke="#333" stroke-width="0.55" />
<line x1="343.55" y1="74.30" x2="343.55" y2="75.80" stroke="#333" stroke-width="0.55" />
<line x1="344.50" y1="74.30" x2="344.50" y2="75.80" stroke="#333" stroke-width="0.55" />
<line x1="345.32" y1="74.30" x2="345.32" y2="75.80" stroke="#333" stroke-width="0.55" />
<line x1="346.05" y1="74.30" x2="346.05" y2="75.80" stroke="#333" stroke-width="0.55" />
<line x1="346.70" y1="74.30" x2="346.70" y2="76.70" stroke="#333" stroke-width="0.55" />
<rect x="291.60" y="74.30" width="11.6" height="1.6" fill="#111"/>
<line x1="293.90" y1="74.30" x2="293.90" y2="76.60" stroke="#222" stroke-width="0.6" />
<line x1="297.40" y1="74.30" x2="297.40" y2="76.60" stroke="#222" stroke-width="0.6" />
<line x1="300.90" y1="74.30" x2="300.90" y2="76.60" stroke="#222" stroke-width="0.6" />
<text x="296.40" y="83.20" font-size="4.5" fill="#222">0</text>
<text x="300.20" y="83.20" font-size="4.5" fill="#222">10<tspan font-size="2.70" dy="-2.02">2</tspan></text>
<text x="315.60" y="83.20" font-size="4.5" fill="#222">10<tspan font-size="2.70" dy="-2.02">3</tspan></text>
<text x="329.80" y="83.20" font-size="4.5" fill="#222">10<tspan font-size="2.70" dy="-2.02">4</tspan></text>
<text x="343.90" y="83.20" font-size="4.5" fill="#222">10<tspan font-size="2.70" dy="-2.02">5</tspan></text>
<text x="293.40" y="87.60" font-size="4.5" text-anchor="end" fill="#222" >&#8722;139</text>
<rect x="290.40" y="15.90" width="62.10" height="58.40" fill="none" stroke="#333" stroke-width="0.9"/>
<line x1="290.40" y1="15.45" x2="290.40" y2="74.90" stroke="#111" stroke-width="1.3" />
<line x1="289.80" y1="74.30" x2="352.95" y2="74.30" stroke="#111" stroke-width="1.3" />
<path d="M392.00,74.30 L392.00,74.30 L392.15,73.96 L392.35,73.52 L392.59,72.99 L392.85,72.40 L393.13,71.68 L393.43,71.14 L393.73,70.41 L394.03,69.92 L394.32,69.38 L394.60,68.48 L394.98,67.87 L395.38,68.13 L395.77,67.35 L396.17,66.99 L396.55,67.16 L396.93,66.14 L397.30,65.57 L397.44,64.87 L397.58,64.56 L397.71,63.69 L397.85,63.58 L397.98,63.24 L398.11,62.41 L398.25,62.02 L398.38,61.37 L398.51,60.27 L398.63,60.20 L398.76,59.42 L398.89,58.53 L399.01,57.65 L399.13,57.64 L399.25,56.65 L399.37,56.16 L399.49,55.59 L399.60,54.77 L399.69,54.39 L399.77,53.41 L399.86,53.16 L399.94,52.29 L400.02,52.09 L400.11,51.45 L400.18,50.21 L400.26,49.63 L400.34,49.07 L400.42,49.04 L400.49,47.99 L400.57,47.50 L400.64,46.60 L400.72,46.13 L400.79,45.39 L400.87,44.72 L400.94,44.26 L401.02,43.62 L401.09,43.24 L401.17,42.42 L401.25,41.99 L401.32,41.31 L401.40,40.79 L401.48,39.92 L401.56,38.88 L401.63,38.80 L401.71,38.25 L401.79,37.56 L401.86,36.64 L401.94,36.11 L402.01,35.06 L402.09,34.90 L402.17,34.05 L402.24,33.17 L402.32,32.36 L402.40,32.35 L402.47,31.83 L402.55,30.48 L402.63,30.44 L402.71,29.52 L402.79,28.71 L402.87,28.24 L402.95,28.05 L403.03,27.57 L403.12,26.37 L403.20,26.29 L403.32,25.07 L403.45,24.82 L403.58,23.70 L403.71,23.33 L403.84,22.60 L403.98,21.42 L404.11,21.05 L404.25,19.76 L404.39,18.88 L404.52,18.66 L404.66,17.63 L404.79,17.25 L404.92,17.00 L405.05,16.83 L405.18,16.24 L405.30,16.03 L405.45,16.71 L405.60,16.44 L405.74,17.27 L405.89,17.66 L406.03,17.80 L406.17,18.51 L406.31,19.29 L406.45,20.18 L406.59,20.97 L406.72,21.81 L406.85,22.75 L406.98,23.89 L407.10,24.41 L407.17,24.84 L407.24,25.59 L407.30,25.74 L407.37,26.34 L407.43,27.46 L407.50,27.68 L407.56,28.30 L407.62,28.49 L407.69,29.44 L407.75,30.21 L407.81,30.40 L407.87,31.53 L407.93,32.20 L407.99,32.40 L408.04,33.52 L408.10,34.05 L408.16,34.88 L408.22,35.28 L408.27,36.22 L408.33,36.89 L408.39,36.96 L408.44,37.63 L408.50,38.74 L408.56,39.59 L408.61,39.65 L408.67,40.44 L408.72,41.19 L408.78,41.61 L408.83,42.28 L408.89,42.88 L408.94,43.57 L409.00,44.40 L409.05,44.80 L409.10,45.50 L409.16,46.45 L409.21,46.49 L409.26,47.55 L409.31,48.31 L409.36,48.58 L409.41,49.12 L409.46,50.19 L409.51,50.33 L409.56,50.87 L409.61,51.64 L409.65,52.41 L409.70,52.48 L409.76,53.38 L409.82,54.10 L409.87,55.20 L409.92,55.57 L409.97,56.57 L410.02,56.68 L410.07,57.46 L410.11,58.34 L410.16,59.16 L410.21,59.42 L410.26,59.84 L410.31,60.35 L410.36,61.27 L410.42,61.57 L410.47,62.63 L410.53,63.22 L410.60,63.25 L410.69,64.04 L410.79,65.18 L410.89,65.75 L411.00,66.58 L411.11,66.89 L411.22,67.37 L411.33,68.14 L411.45,69.14 L411.56,69.36 L411.67,69.98 L411.79,70.54 L411.89,71.03 L412.00,71.47 L412.29,72.44 L412.59,73.13 L412.88,73.63 L413.12,74.00 L413.30,74.30 L413.30,74.30 Z" fill="#e08292" stroke="none"/>
<path d="M392.00,74.30 L392.15,73.96 L392.35,73.52 L392.59,72.99 L392.85,72.40 L393.13,71.68 L393.43,71.14 L393.73,70.41 L394.03,69.92 L394.32,69.38 L394.60,68.48 L394.98,67.87 L395.38,68.13 L395.77,67.35 L396.17,66.99 L396.55,67.16 L396.93,66.14 L397.30,65.57 L397.44,64.87 L397.58,64.56 L397.71,63.69 L397.85,63.58 L397.98,63.24 L398.11,62.41 L398.25,62.02 L398.38,61.37 L398.51,60.27 L398.63,60.20 L398.76,59.42 L398.89,58.53 L399.01,57.65 L399.13,57.64 L399.25,56.65 L399.37,56.16 L399.49,55.59 L399.60,54.77 L399.69,54.39 L399.77,53.41 L399.86,53.16 L399.94,52.29 L400.02,52.09 L400.11,51.45 L400.18,50.21 L400.26,49.63 L400.34,49.07 L400.42,49.04 L400.49,47.99 L400.57,47.50 L400.64,46.60 L400.72,46.13 L400.79,45.39 L400.87,44.72 L400.94,44.26 L401.02,43.62 L401.09,43.24 L401.17,42.42 L401.25,41.99 L401.32,41.31 L401.40,40.79 L401.48,39.92 L401.56,38.88 L401.63,38.80 L401.71,38.25 L401.79,37.56 L401.86,36.64 L401.94,36.11 L402.01,35.06 L402.09,34.90 L402.17,34.05 L402.24,33.17 L402.32,32.36 L402.40,32.35 L402.47,31.83 L402.55,30.48 L402.63,30.44 L402.71,29.52 L402.79,28.71 L402.87,28.24 L402.95,28.05 L403.03,27.57 L403.12,26.37 L403.20,26.29 L403.32,25.07 L403.45,24.82 L403.58,23.70 L403.71,23.33 L403.84,22.60 L403.98,21.42 L404.11,21.05 L404.25,19.76 L404.39,18.88 L404.52,18.66 L404.66,17.63 L404.79,17.25 L404.92,17.00 L405.05,16.83 L405.18,16.24 L405.30,16.03 L405.45,16.71 L405.60,16.44 L405.74,17.27 L405.89,17.66 L406.03,17.80 L406.17,18.51 L406.31,19.29 L406.45,20.18 L406.59,20.97 L406.72,21.81 L406.85,22.75 L406.98,23.89 L407.10,24.41 L407.17,24.84 L407.24,25.59 L407.30,25.74 L407.37,26.34 L407.43,27.46 L407.50,27.68 L407.56,28.30 L407.62,28.49 L407.69,29.44 L407.75,30.21 L407.81,30.40 L407.87,31.53 L407.93,32.20 L407.99,32.40 L408.04,33.52 L408.10,34.05 L408.16,34.88 L408.22,35.28 L408.27,36.22 L408.33,36.89 L408.39,36.96 L408.44,37.63 L408.50,38.74 L408.56,39.59 L408.61,39.65 L408.67,40.44 L408.72,41.19 L408.78,41.61 L408.83,42.28 L408.89,42.88 L408.94,43.57 L409.00,44.40 L409.05,44.80 L409.10,45.50 L409.16,46.45 L409.21,46.49 L409.26,47.55 L409.31,48.31 L409.36,48.58 L409.41,49.12 L409.46,50.19 L409.51,50.33 L409.56,50.87 L409.61,51.64 L409.65,52.41 L409.70,52.48 L409.76,53.38 L409.82,54.10 L409.87,55.20 L409.92,55.57 L409.97,56.57 L410.02,56.68 L410.07,57.46 L410.11,58.34 L410.16,59.16 L410.21,59.42 L410.26,59.84 L410.31,60.35 L410.36,61.27 L410.42,61.57 L410.47,62.63 L410.53,63.22 L410.60,63.25 L410.69,64.04 L410.79,65.18 L410.89,65.75 L411.00,66.58 L411.11,66.89 L411.22,67.37 L411.33,68.14 L411.45,69.14 L411.56,69.36 L411.67,69.98 L411.79,70.54 L411.89,71.03 L412.00,71.47 L412.29,72.44 L412.59,73.13 L412.88,73.63 L413.12,74.00 L413.30,74.30" fill="none" stroke="#c8143c" stroke-width="0.7" stroke-linejoin="round"/>
<line x1="392.30" y1="15.90" x2="392.30" y2="74.30" stroke="#333" stroke-width="0.8" />
<line x1="426.60" y1="15.90" x2="426.60" y2="74.30" stroke="#555" stroke-width="0.8" />
<line x1="392.30" y1="45.00" x2="426.60" y2="45.00" stroke="#333" stroke-width="0.8" />
<text x="417.20" y="42.90" font-size="5.0" text-anchor="middle" fill="#222" >98.4</text>
<line x1="367.50" y1="74.30" x2="370.40" y2="74.30" stroke="#333" stroke-width="0.7" />
<text x="366.10" y="76.10" font-size="5.0" text-anchor="end" fill="#1a1a1a" >0</text>
<line x1="367.50" y1="67.45" x2="370.40" y2="67.45" stroke="#333" stroke-width="0.7" />
<text x="366.10" y="69.25" font-size="5.0" text-anchor="end" fill="#1a1a1a" >50</text>
<line x1="367.50" y1="60.60" x2="370.40" y2="60.60" stroke="#333" stroke-width="0.7" />
<text x="366.10" y="62.40" font-size="5.0" text-anchor="end" fill="#1a1a1a" >100</text>
<line x1="367.50" y1="53.75" x2="370.40" y2="53.75" stroke="#333" stroke-width="0.7" />
<text x="366.10" y="55.55" font-size="5.0" text-anchor="end" fill="#1a1a1a" >150</text>
<line x1="367.50" y1="46.90" x2="370.40" y2="46.90" stroke="#333" stroke-width="0.7" />
<text x="366.10" y="48.70" font-size="5.0" text-anchor="end" fill="#1a1a1a" >200</text>
<line x1="367.50" y1="40.05" x2="370.40" y2="40.05" stroke="#333" stroke-width="0.7" />
<text x="366.10" y="41.85" font-size="5.0" text-anchor="end" fill="#1a1a1a" >250</text>
<line x1="367.50" y1="33.20" x2="370.40" y2="33.20" stroke="#333" stroke-width="0.7" />
<text x="366.10" y="35.00" font-size="5.0" text-anchor="end" fill="#1a1a1a" >300</text>
<line x1="367.50" y1="26.35" x2="370.40" y2="26.35" stroke="#333" stroke-width="0.7" />
<text x="366.10" y="28.15" font-size="5.0" text-anchor="end" fill="#1a1a1a" >350</text>
<line x1="367.50" y1="19.50" x2="370.40" y2="19.50" stroke="#333" stroke-width="0.7" />
<text x="366.10" y="21.30" font-size="5.0" text-anchor="end" fill="#1a1a1a" >400</text>
<line x1="384.10" y1="74.30" x2="384.10" y2="76.70" stroke="#333" stroke-width="0.55" />
<line x1="388.37" y1="74.30" x2="388.37" y2="75.80" stroke="#333" stroke-width="0.55" />
<line x1="390.88" y1="74.30" x2="390.88" y2="75.80" stroke="#333" stroke-width="0.55" />
<line x1="392.65" y1="74.30" x2="392.65" y2="75.80" stroke="#333" stroke-width="0.55" />
<line x1="394.03" y1="74.30" x2="394.03" y2="75.80" stroke="#333" stroke-width="0.55" />
<line x1="395.15" y1="74.30" x2="395.15" y2="75.80" stroke="#333" stroke-width="0.55" />
<line x1="396.10" y1="74.30" x2="396.10" y2="75.80" stroke="#333" stroke-width="0.55" />
<line x1="396.92" y1="74.30" x2="396.92" y2="75.80" stroke="#333" stroke-width="0.55" />
<line x1="397.65" y1="74.30" x2="397.65" y2="75.80" stroke="#333" stroke-width="0.55" />
<line x1="398.30" y1="74.30" x2="398.30" y2="76.70" stroke="#333" stroke-width="0.55" />
<line x1="402.57" y1="74.30" x2="402.57" y2="75.80" stroke="#333" stroke-width="0.55" />
<line x1="405.08" y1="74.30" x2="405.08" y2="75.80" stroke="#333" stroke-width="0.55" />
<line x1="406.85" y1="74.30" x2="406.85" y2="75.80" stroke="#333" stroke-width="0.55" />
<line x1="408.23" y1="74.30" x2="408.23" y2="75.80" stroke="#333" stroke-width="0.55" />
<line x1="409.35" y1="74.30" x2="409.35" y2="75.80" stroke="#333" stroke-width="0.55" />
<line x1="410.30" y1="74.30" x2="410.30" y2="75.80" stroke="#333" stroke-width="0.55" />
<line x1="411.12" y1="74.30" x2="411.12" y2="75.80" stroke="#333" stroke-width="0.55" />
<line x1="411.85" y1="74.30" x2="411.85" y2="75.80" stroke="#333" stroke-width="0.55" />
<line x1="412.50" y1="74.30" x2="412.50" y2="76.70" stroke="#333" stroke-width="0.55" />
<line x1="416.77" y1="74.30" x2="416.77" y2="75.80" stroke="#333" stroke-width="0.55" />
<line x1="419.28" y1="74.30" x2="419.28" y2="75.80" stroke="#333" stroke-width="0.55" />
<line x1="421.05" y1="74.30" x2="421.05" y2="75.80" stroke="#333" stroke-width="0.55" />
<line x1="422.43" y1="74.30" x2="422.43" y2="75.80" stroke="#333" stroke-width="0.55" />
<line x1="423.55" y1="74.30" x2="423.55" y2="75.80" stroke="#333" stroke-width="0.55" />
<line x1="424.50" y1="74.30" x2="424.50" y2="75.80" stroke="#333" stroke-width="0.55" />
<line x1="425.32" y1="74.30" x2="425.32" y2="75.80" stroke="#333" stroke-width="0.55" />
<line x1="426.05" y1="74.30" x2="426.05" y2="75.80" stroke="#333" stroke-width="0.55" />
<line x1="426.70" y1="74.30" x2="426.70" y2="76.70" stroke="#333" stroke-width="0.55" />
<rect x="371.60" y="74.30" width="11.6" height="1.6" fill="#111"/>
<line x1="373.90" y1="74.30" x2="373.90" y2="76.60" stroke="#222" stroke-width="0.6" />
<line x1="377.40" y1="74.30" x2="377.40" y2="76.60" stroke="#222" stroke-width="0.6" />
<line x1="380.90" y1="74.30" x2="380.90" y2="76.60" stroke="#222" stroke-width="0.6" />
<text x="376.40" y="83.20" font-size="4.5" fill="#222">0</text>
<text x="380.20" y="83.20" font-size="4.5" fill="#222">10<tspan font-size="2.70" dy="-2.02">2</tspan></text>
<text x="395.60" y="83.20" font-size="4.5" fill="#222">10<tspan font-size="2.70" dy="-2.02">3</tspan></text>
<text x="409.80" y="83.20" font-size="4.5" fill="#222">10<tspan font-size="2.70" dy="-2.02">4</tspan></text>
<text x="423.90" y="83.20" font-size="4.5" fill="#222">10<tspan font-size="2.70" dy="-2.02">5</tspan></text>
<text x="373.40" y="87.60" font-size="4.5" text-anchor="end" fill="#222" >&#8722;139</text>
<rect x="370.40" y="15.90" width="62.50" height="58.40" fill="none" stroke="#333" stroke-width="0.9"/>
<line x1="370.40" y1="15.45" x2="370.40" y2="74.90" stroke="#111" stroke-width="1.3" />
<line x1="369.80" y1="74.30" x2="433.35" y2="74.30" stroke="#111" stroke-width="1.3" />
<path d="M471.20,74.30 L471.20,74.30 L471.32,73.99 L471.48,73.65 L471.67,73.26 L471.88,72.81 L472.11,72.19 L472.34,71.47 L472.57,70.79 L472.79,69.70 L473.00,68.48 L473.07,68.29 L473.14,68.25 L473.20,67.68 L473.27,67.15 L473.34,66.18 L473.41,65.89 L473.48,65.11 L473.54,64.45 L473.61,63.79 L473.68,63.26 L473.75,63.20 L473.81,62.48 L473.88,61.81 L473.95,61.14 L474.01,59.99 L474.08,59.40 L474.15,58.98 L474.21,58.38 L474.27,57.79 L474.34,57.13 L474.40,55.81 L474.46,55.54 L474.52,54.92 L474.58,54.12 L474.64,53.20 L474.70,52.78 L474.75,51.89 L474.80,51.97 L474.85,51.31 L474.90,50.44 L474.95,49.62 L474.99,49.49 L475.04,48.59 L475.08,48.20 L475.13,47.53 L475.17,46.62 L475.22,45.90 L475.26,45.41 L475.30,44.63 L475.35,43.77 L475.39,43.25 L475.43,43.02 L475.48,41.77 L475.52,41.14 L475.56,40.98 L475.60,40.08 L475.65,39.67 L475.69,39.02 L475.73,38.32 L475.77,38.26 L475.82,37.04 L475.86,36.65 L475.91,35.93 L475.95,35.73 L476.00,34.92 L476.07,34.24 L476.13,33.82 L476.20,32.75 L476.27,32.23 L476.33,31.81 L476.40,30.48 L476.47,29.77 L476.53,29.25 L476.60,29.03 L476.67,28.28 L476.74,27.36 L476.81,26.83 L476.88,26.12 L476.95,25.77 L477.02,24.88 L477.09,24.86 L477.17,24.50 L477.24,24.03 L477.32,23.36 L477.40,23.07 L477.57,21.38 L477.74,20.68 L477.92,20.34 L478.11,19.36 L478.30,18.31 L478.49,18.07 L478.68,17.27 L478.86,17.01 L479.03,16.33 L479.20,16.15 L479.36,16.45 L479.51,16.47 L479.66,17.08 L479.80,18.09 L479.94,18.25 L480.07,18.74 L480.21,19.60 L480.34,20.58 L480.47,21.99 L480.60,22.59 L480.66,23.01 L480.73,23.35 L480.79,24.56 L480.85,24.64 L480.91,25.01 L480.97,25.45 L481.03,26.02 L481.09,26.70 L481.15,27.71 L481.21,27.91 L481.26,28.45 L481.32,29.46 L481.38,29.92 L481.44,31.20 L481.50,31.18 L481.56,32.21 L481.62,33.11 L481.68,33.55 L481.74,34.74 L481.80,35.08 L481.84,35.42 L481.89,36.10 L481.93,36.36 L481.97,37.24 L482.02,37.68 L482.06,38.79 L482.10,39.35 L482.15,39.69 L482.19,39.94 L482.24,40.75 L482.28,41.38 L482.33,41.99 L482.37,42.65 L482.42,43.81 L482.46,43.88 L482.50,44.45 L482.55,45.80 L482.60,46.16 L482.64,47.14 L482.69,47.31 L482.73,48.35 L482.78,48.78 L482.82,49.51 L482.87,50.09 L482.91,50.49 L482.96,50.76 L483.01,51.44 L483.05,52.54 L483.10,53.12 L483.16,53.83 L483.22,54.06 L483.27,55.01 L483.33,55.82 L483.39,56.38 L483.45,57.20 L483.51,57.66 L483.56,58.43 L483.62,59.13 L483.68,59.45 L483.74,60.63 L483.80,61.30 L483.86,61.22 L483.92,62.56 L483.98,63.15 L484.04,63.51 L484.10,63.58 L484.17,64.82 L484.23,64.75 L484.30,65.94 L484.36,66.20 L484.43,66.19 L484.50,66.73 L484.67,68.08 L484.85,68.90 L485.04,69.79 L485.23,70.57 L485.43,70.85 L485.63,71.36 L485.81,72.18 L485.99,72.51 L486.15,72.92 L486.30,73.30 L486.86,74.19 L487.20,74.30 L487.20,74.30 Z" fill="#e08292" stroke="none"/>
<path d="M471.20,74.30 L471.32,73.99 L471.48,73.65 L471.67,73.26 L471.88,72.81 L472.11,72.19 L472.34,71.47 L472.57,70.79 L472.79,69.70 L473.00,68.48 L473.07,68.29 L473.14,68.25 L473.20,67.68 L473.27,67.15 L473.34,66.18 L473.41,65.89 L473.48,65.11 L473.54,64.45 L473.61,63.79 L473.68,63.26 L473.75,63.20 L473.81,62.48 L473.88,61.81 L473.95,61.14 L474.01,59.99 L474.08,59.40 L474.15,58.98 L474.21,58.38 L474.27,57.79 L474.34,57.13 L474.40,55.81 L474.46,55.54 L474.52,54.92 L474.58,54.12 L474.64,53.20 L474.70,52.78 L474.75,51.89 L474.80,51.97 L474.85,51.31 L474.90,50.44 L474.95,49.62 L474.99,49.49 L475.04,48.59 L475.08,48.20 L475.13,47.53 L475.17,46.62 L475.22,45.90 L475.26,45.41 L475.30,44.63 L475.35,43.77 L475.39,43.25 L475.43,43.02 L475.48,41.77 L475.52,41.14 L475.56,40.98 L475.60,40.08 L475.65,39.67 L475.69,39.02 L475.73,38.32 L475.77,38.26 L475.82,37.04 L475.86,36.65 L475.91,35.93 L475.95,35.73 L476.00,34.92 L476.07,34.24 L476.13,33.82 L476.20,32.75 L476.27,32.23 L476.33,31.81 L476.40,30.48 L476.47,29.77 L476.53,29.25 L476.60,29.03 L476.67,28.28 L476.74,27.36 L476.81,26.83 L476.88,26.12 L476.95,25.77 L477.02,24.88 L477.09,24.86 L477.17,24.50 L477.24,24.03 L477.32,23.36 L477.40,23.07 L477.57,21.38 L477.74,20.68 L477.92,20.34 L478.11,19.36 L478.30,18.31 L478.49,18.07 L478.68,17.27 L478.86,17.01 L479.03,16.33 L479.20,16.15 L479.36,16.45 L479.51,16.47 L479.66,17.08 L479.80,18.09 L479.94,18.25 L480.07,18.74 L480.21,19.60 L480.34,20.58 L480.47,21.99 L480.60,22.59 L480.66,23.01 L480.73,23.35 L480.79,24.56 L480.85,24.64 L480.91,25.01 L480.97,25.45 L481.03,26.02 L481.09,26.70 L481.15,27.71 L481.21,27.91 L481.26,28.45 L481.32,29.46 L481.38,29.92 L481.44,31.20 L481.50,31.18 L481.56,32.21 L481.62,33.11 L481.68,33.55 L481.74,34.74 L481.80,35.08 L481.84,35.42 L481.89,36.10 L481.93,36.36 L481.97,37.24 L482.02,37.68 L482.06,38.79 L482.10,39.35 L482.15,39.69 L482.19,39.94 L482.24,40.75 L482.28,41.38 L482.33,41.99 L482.37,42.65 L482.42,43.81 L482.46,43.88 L482.50,44.45 L482.55,45.80 L482.60,46.16 L482.64,47.14 L482.69,47.31 L482.73,48.35 L482.78,48.78 L482.82,49.51 L482.87,50.09 L482.91,50.49 L482.96,50.76 L483.01,51.44 L483.05,52.54 L483.10,53.12 L483.16,53.83 L483.22,54.06 L483.27,55.01 L483.33,55.82 L483.39,56.38 L483.45,57.20 L483.51,57.66 L483.56,58.43 L483.62,59.13 L483.68,59.45 L483.74,60.63 L483.80,61.30 L483.86,61.22 L483.92,62.56 L483.98,63.15 L484.04,63.51 L484.10,63.58 L484.17,64.82 L484.23,64.75 L484.30,65.94 L484.36,66.20 L484.43,66.19 L484.50,66.73 L484.67,68.08 L484.85,68.90 L485.04,69.79 L485.23,70.57 L485.43,70.85 L485.63,71.36 L485.81,72.18 L485.99,72.51 L486.15,72.92 L486.30,73.30 L486.86,74.19 L487.20,74.30" fill="none" stroke="#c8143c" stroke-width="0.7" stroke-linejoin="round"/>
<line x1="471.25" y1="15.90" x2="471.25" y2="74.30" stroke="#333" stroke-width="0.8" />
<line x1="503.50" y1="15.90" x2="503.50" y2="74.30" stroke="#555" stroke-width="0.8" />
<line x1="471.25" y1="26.90" x2="503.50" y2="26.90" stroke="#333" stroke-width="0.8" />
<text x="489.90" y="25.60" font-size="5.0" text-anchor="middle" fill="#222" >98.6</text>
<line x1="448.40" y1="74.30" x2="451.30" y2="74.30" stroke="#333" stroke-width="0.7" />
<text x="447.00" y="76.10" font-size="5.0" text-anchor="end" fill="#1a1a1a" >0</text>
<line x1="448.40" y1="65.25" x2="451.30" y2="65.25" stroke="#333" stroke-width="0.7" />
<text x="447.00" y="67.05" font-size="5.0" text-anchor="end" fill="#1a1a1a" >50</text>
<line x1="448.40" y1="56.20" x2="451.30" y2="56.20" stroke="#333" stroke-width="0.7" />
<text x="447.00" y="58.00" font-size="5.0" text-anchor="end" fill="#1a1a1a" >100</text>
<line x1="448.40" y1="47.15" x2="451.30" y2="47.15" stroke="#333" stroke-width="0.7" />
<text x="447.00" y="48.95" font-size="5.0" text-anchor="end" fill="#1a1a1a" >150</text>
<line x1="448.40" y1="38.10" x2="451.30" y2="38.10" stroke="#333" stroke-width="0.7" />
<text x="447.00" y="39.90" font-size="5.0" text-anchor="end" fill="#1a1a1a" >200</text>
<line x1="448.40" y1="29.05" x2="451.30" y2="29.05" stroke="#333" stroke-width="0.7" />
<text x="447.00" y="30.85" font-size="5.0" text-anchor="end" fill="#1a1a1a" >250</text>
<line x1="448.40" y1="20.00" x2="451.30" y2="20.00" stroke="#333" stroke-width="0.7" />
<text x="447.00" y="21.80" font-size="5.0" text-anchor="end" fill="#1a1a1a" >300</text>
<line x1="449.30" y1="74.30" x2="451.30" y2="74.30" stroke="#333" stroke-width="0.55" />
<line x1="449.30" y1="72.49" x2="451.30" y2="72.49" stroke="#333" stroke-width="0.55" />
<line x1="449.30" y1="70.68" x2="451.30" y2="70.68" stroke="#333" stroke-width="0.55" />
<line x1="449.30" y1="68.87" x2="451.30" y2="68.87" stroke="#333" stroke-width="0.55" />
<line x1="449.30" y1="67.06" x2="451.30" y2="67.06" stroke="#333" stroke-width="0.55" />
<line x1="449.30" y1="65.25" x2="451.30" y2="65.25" stroke="#333" stroke-width="0.55" />
<line x1="449.30" y1="63.44" x2="451.30" y2="63.44" stroke="#333" stroke-width="0.55" />
<line x1="449.30" y1="61.63" x2="451.30" y2="61.63" stroke="#333" stroke-width="0.55" />
<line x1="449.30" y1="59.82" x2="451.30" y2="59.82" stroke="#333" stroke-width="0.55" />
<line x1="449.30" y1="58.01" x2="451.30" y2="58.01" stroke="#333" stroke-width="0.55" />
<line x1="449.30" y1="56.20" x2="451.30" y2="56.20" stroke="#333" stroke-width="0.55" />
<line x1="449.30" y1="54.39" x2="451.30" y2="54.39" stroke="#333" stroke-width="0.55" />
<line x1="449.30" y1="52.58" x2="451.30" y2="52.58" stroke="#333" stroke-width="0.55" />
<line x1="449.30" y1="50.77" x2="451.30" y2="50.77" stroke="#333" stroke-width="0.55" />
<line x1="449.30" y1="48.96" x2="451.30" y2="48.96" stroke="#333" stroke-width="0.55" />
<line x1="449.30" y1="47.15" x2="451.30" y2="47.15" stroke="#333" stroke-width="0.55" />
<line x1="449.30" y1="45.34" x2="451.30" y2="45.34" stroke="#333" stroke-width="0.55" />
<line x1="449.30" y1="43.53" x2="451.30" y2="43.53" stroke="#333" stroke-width="0.55" />
<line x1="449.30" y1="41.72" x2="451.30" y2="41.72" stroke="#333" stroke-width="0.55" />
<line x1="449.30" y1="39.91" x2="451.30" y2="39.91" stroke="#333" stroke-width="0.55" />
<line x1="449.30" y1="38.10" x2="451.30" y2="38.10" stroke="#333" stroke-width="0.55" />
<line x1="449.30" y1="36.29" x2="451.30" y2="36.29" stroke="#333" stroke-width="0.55" />
<line x1="449.30" y1="34.48" x2="451.30" y2="34.48" stroke="#333" stroke-width="0.55" />
<line x1="449.30" y1="32.67" x2="451.30" y2="32.67" stroke="#333" stroke-width="0.55" />
<line x1="449.30" y1="30.86" x2="451.30" y2="30.86" stroke="#333" stroke-width="0.55" />
<line x1="449.30" y1="29.05" x2="451.30" y2="29.05" stroke="#333" stroke-width="0.55" />
<line x1="449.30" y1="27.24" x2="451.30" y2="27.24" stroke="#333" stroke-width="0.55" />
<line x1="449.30" y1="25.43" x2="451.30" y2="25.43" stroke="#333" stroke-width="0.55" />
<line x1="449.30" y1="23.62" x2="451.30" y2="23.62" stroke="#333" stroke-width="0.55" />
<line x1="449.30" y1="21.81" x2="451.30" y2="21.81" stroke="#333" stroke-width="0.55" />
<line x1="449.30" y1="20.00" x2="451.30" y2="20.00" stroke="#333" stroke-width="0.55" />
<line x1="449.30" y1="18.19" x2="451.30" y2="18.19" stroke="#333" stroke-width="0.55" />
<line x1="449.30" y1="16.38" x2="451.30" y2="16.38" stroke="#333" stroke-width="0.55" />
<line x1="465.00" y1="74.30" x2="465.00" y2="76.70" stroke="#333" stroke-width="0.55" />
<line x1="469.27" y1="74.30" x2="469.27" y2="75.80" stroke="#333" stroke-width="0.55" />
<line x1="471.78" y1="74.30" x2="471.78" y2="75.80" stroke="#333" stroke-width="0.55" />
<line x1="473.55" y1="74.30" x2="473.55" y2="75.80" stroke="#333" stroke-width="0.55" />
<line x1="474.93" y1="74.30" x2="474.93" y2="75.80" stroke="#333" stroke-width="0.55" />
<line x1="476.05" y1="74.30" x2="476.05" y2="75.80" stroke="#333" stroke-width="0.55" />
<line x1="477.00" y1="74.30" x2="477.00" y2="75.80" stroke="#333" stroke-width="0.55" />
<line x1="477.82" y1="74.30" x2="477.82" y2="75.80" stroke="#333" stroke-width="0.55" />
<line x1="478.55" y1="74.30" x2="478.55" y2="75.80" stroke="#333" stroke-width="0.55" />
<line x1="479.20" y1="74.30" x2="479.20" y2="76.70" stroke="#333" stroke-width="0.55" />
<line x1="483.47" y1="74.30" x2="483.47" y2="75.80" stroke="#333" stroke-width="0.55" />
<line x1="485.98" y1="74.30" x2="485.98" y2="75.80" stroke="#333" stroke-width="0.55" />
<line x1="487.75" y1="74.30" x2="487.75" y2="75.80" stroke="#333" stroke-width="0.55" />
<line x1="489.13" y1="74.30" x2="489.13" y2="75.80" stroke="#333" stroke-width="0.55" />
<line x1="490.25" y1="74.30" x2="490.25" y2="75.80" stroke="#333" stroke-width="0.55" />
<line x1="491.20" y1="74.30" x2="491.20" y2="75.80" stroke="#333" stroke-width="0.55" />
<line x1="492.02" y1="74.30" x2="492.02" y2="75.80" stroke="#333" stroke-width="0.55" />
<line x1="492.75" y1="74.30" x2="492.75" y2="75.80" stroke="#333" stroke-width="0.55" />
<line x1="493.40" y1="74.30" x2="493.40" y2="76.70" stroke="#333" stroke-width="0.55" />
<line x1="497.67" y1="74.30" x2="497.67" y2="75.80" stroke="#333" stroke-width="0.55" />
<line x1="500.18" y1="74.30" x2="500.18" y2="75.80" stroke="#333" stroke-width="0.55" />
<line x1="501.95" y1="74.30" x2="501.95" y2="75.80" stroke="#333" stroke-width="0.55" />
<line x1="503.33" y1="74.30" x2="503.33" y2="75.80" stroke="#333" stroke-width="0.55" />
<line x1="504.45" y1="74.30" x2="504.45" y2="75.80" stroke="#333" stroke-width="0.55" />
<line x1="505.40" y1="74.30" x2="505.40" y2="75.80" stroke="#333" stroke-width="0.55" />
<line x1="506.22" y1="74.30" x2="506.22" y2="75.80" stroke="#333" stroke-width="0.55" />
<line x1="506.95" y1="74.30" x2="506.95" y2="75.80" stroke="#333" stroke-width="0.55" />
<line x1="507.60" y1="74.30" x2="507.60" y2="76.70" stroke="#333" stroke-width="0.55" />
<rect x="452.50" y="74.30" width="11.6" height="1.6" fill="#111"/>
<line x1="454.80" y1="74.30" x2="454.80" y2="76.60" stroke="#222" stroke-width="0.6" />
<line x1="458.30" y1="74.30" x2="458.30" y2="76.60" stroke="#222" stroke-width="0.6" />
<line x1="461.80" y1="74.30" x2="461.80" y2="76.60" stroke="#222" stroke-width="0.6" />
<text x="457.30" y="83.20" font-size="4.5" fill="#222">0</text>
<text x="461.10" y="83.20" font-size="4.5" fill="#222">10<tspan font-size="2.70" dy="-2.02">2</tspan></text>
<text x="476.50" y="83.20" font-size="4.5" fill="#222">10<tspan font-size="2.70" dy="-2.02">3</tspan></text>
<text x="490.70" y="83.20" font-size="4.5" fill="#222">10<tspan font-size="2.70" dy="-2.02">4</tspan></text>
<text x="504.80" y="83.20" font-size="4.5" fill="#222">10<tspan font-size="2.70" dy="-2.02">5</tspan></text>
<text x="454.30" y="87.60" font-size="4.5" text-anchor="end" fill="#222" >&#8722;129</text>
<rect x="451.30" y="15.90" width="62.50" height="58.40" fill="none" stroke="#333" stroke-width="0.9"/>
<line x1="451.30" y1="15.45" x2="451.30" y2="74.90" stroke="#111" stroke-width="1.3" />
<line x1="450.70" y1="74.30" x2="514.25" y2="74.30" stroke="#111" stroke-width="1.3" />
<path d="M138.70,157.10 L138.70,157.10 L139.08,156.92 L139.60,156.66 L140.22,156.36 L140.90,156.04 L141.57,155.71 L142.20,155.40 L142.80,155.11 L143.40,154.84 L144.00,154.50 L144.60,154.26 L145.20,153.79 L145.80,153.75 L146.39,153.43 L146.97,153.00 L147.55,152.36 L148.13,152.22 L148.71,151.73 L149.30,151.31 L149.91,151.51 L150.53,151.18 L151.16,150.06 L151.77,150.37 L152.36,149.85 L152.90,149.41 L153.62,148.99 L154.26,149.03 L154.87,148.66 L155.50,148.75 L156.17,148.75 L156.85,148.44 L157.53,149.15 L158.20,149.59 L158.72,149.84 L159.24,149.86 L159.76,149.76 L160.28,150.11 L160.80,150.61 L161.33,151.67 L161.87,151.66 L162.42,152.20 L162.96,152.99 L163.50,153.10 L164.05,153.64 L164.62,154.00 L165.18,154.25 L165.72,154.76 L166.20,155.10 L166.87,155.29 L167.44,155.41 L168.00,155.40 L168.57,155.33 L169.13,155.11 L169.70,154.38 L169.92,154.04 L170.14,153.73 L170.37,153.11 L170.59,152.85 L170.82,152.50 L171.05,151.75 L171.27,150.91 L171.50,150.28 L171.61,149.27 L171.71,149.13 L171.82,148.49 L171.92,148.16 L172.03,147.24 L172.14,147.22 L172.24,146.11 L172.35,145.57 L172.45,145.47 L172.56,144.94 L172.66,143.87 L172.77,143.16 L172.88,142.31 L172.98,141.60 L173.09,141.11 L173.19,139.96 L173.30,139.10 L173.36,138.86 L173.43,138.11 L173.49,137.96 L173.55,137.54 L173.62,136.93 L173.68,136.11 L173.75,135.40 L173.81,134.86 L173.88,133.89 L173.94,133.82 L174.01,132.88 L174.07,132.22 L174.14,131.38 L174.21,131.01 L174.27,130.46 L174.33,129.65 L174.40,129.37 L174.46,128.55 L174.52,127.55 L174.59,127.12 L174.65,126.78 L174.71,125.82 L174.77,125.25 L174.83,124.20 L174.88,123.92 L174.94,123.30 L174.99,122.66 L175.05,122.10 L175.10,121.67 L175.16,120.94 L175.23,120.21 L175.28,119.26 L175.34,118.79 L175.40,118.54 L175.45,117.42 L175.50,116.45 L175.55,115.76 L175.60,115.53 L175.65,114.50 L175.70,113.89 L175.75,113.27 L175.80,112.93 L175.84,112.75 L175.89,111.74 L175.94,111.13 L175.99,110.54 L176.04,110.02 L176.09,109.43 L176.14,109.11 L176.19,108.72 L176.24,108.05 L176.30,107.34 L176.40,106.65 L176.50,105.99 L176.61,104.52 L176.72,103.74 L176.82,103.24 L176.93,102.52 L177.04,101.77 L177.15,101.08 L177.26,100.71 L177.37,99.95 L177.48,99.84 L177.59,99.70 L177.70,99.15 L177.83,99.49 L177.96,99.53 L178.08,99.97 L178.21,99.72 L178.34,100.96 L178.47,101.49 L178.60,102.40 L178.73,103.24 L178.85,103.58 L178.98,104.84 L179.10,105.41 L179.15,106.22 L179.20,106.95 L179.26,106.85 L179.31,107.49 L179.36,107.80 L179.41,108.44 L179.46,109.02 L179.51,109.51 L179.56,110.83 L179.61,111.35 L179.66,111.64 L179.71,112.50 L179.76,113.10 L179.81,113.61 L179.86,114.19 L179.91,115.05 L179.96,115.63 L180.01,116.07 L180.06,116.83 L180.11,117.71 L180.16,118.38 L180.21,118.72 L180.26,119.71 L180.30,120.59 L180.35,121.25 L180.40,121.72 L180.44,121.84 L180.49,122.72 L180.53,123.06 L180.57,123.65 L180.61,124.43 L180.65,125.22 L180.69,126.09 L180.73,126.62 L180.77,126.99 L180.81,127.96 L180.85,128.46 L180.89,129.11 L180.93,129.56 L180.97,130.35 L181.01,130.91 L181.05,131.87 L181.09,132.31 L181.13,132.92 L181.18,133.57 L181.22,134.20 L181.26,134.98 L181.30,135.61 L181.34,136.28 L181.38,136.55 L181.43,137.44 L181.47,138.15 L181.51,138.72 L181.56,139.05 L181.60,139.05 L181.67,140.43 L181.73,141.16 L181.80,141.24 L181.87,142.21 L181.93,142.92 L182.00,143.96 L182.07,144.54 L182.14,144.95 L182.21,145.54 L182.28,146.17 L182.35,146.73 L182.42,147.90 L182.49,148.61 L182.57,148.61 L182.64,149.58 L182.71,150.27 L182.78,150.17 L182.86,150.96 L182.93,151.32 L183.00,152.14 L183.22,153.10 L183.44,153.55 L183.68,154.37 L183.91,155.14 L184.13,155.51 L184.33,155.92 L184.50,156.30 L184.94,156.98 L185.20,157.10 L185.20,157.10 Z" fill="#89a9c3" stroke="none"/>
<path d="M138.70,157.10 L139.08,156.92 L139.60,156.66 L140.22,156.36 L140.90,156.04 L141.57,155.71 L142.20,155.40 L142.80,155.11 L143.40,154.84 L144.00,154.50 L144.60,154.26 L145.20,153.79 L145.80,153.75 L146.39,153.43 L146.97,153.00 L147.55,152.36 L148.13,152.22 L148.71,151.73 L149.30,151.31 L149.91,151.51 L150.53,151.18 L151.16,150.06 L151.77,150.37 L152.36,149.85 L152.90,149.41 L153.62,148.99 L154.26,149.03 L154.87,148.66 L155.50,148.75 L156.17,148.75 L156.85,148.44 L157.53,149.15 L158.20,149.59 L158.72,149.84 L159.24,149.86 L159.76,149.76 L160.28,150.11 L160.80,150.61 L161.33,151.67 L161.87,151.66 L162.42,152.20 L162.96,152.99 L163.50,153.10 L164.05,153.64 L164.62,154.00 L165.18,154.25 L165.72,154.76 L166.20,155.10 L166.87,155.29 L167.44,155.41 L168.00,155.40 L168.57,155.33 L169.13,155.11 L169.70,154.38 L169.92,154.04 L170.14,153.73 L170.37,153.11 L170.59,152.85 L170.82,152.50 L171.05,151.75 L171.27,150.91 L171.50,150.28 L171.61,149.27 L171.71,149.13 L171.82,148.49 L171.92,148.16 L172.03,147.24 L172.14,147.22 L172.24,146.11 L172.35,145.57 L172.45,145.47 L172.56,144.94 L172.66,143.87 L172.77,143.16 L172.88,142.31 L172.98,141.60 L173.09,141.11 L173.19,139.96 L173.30,139.10 L173.36,138.86 L173.43,138.11 L173.49,137.96 L173.55,137.54 L173.62,136.93 L173.68,136.11 L173.75,135.40 L173.81,134.86 L173.88,133.89 L173.94,133.82 L174.01,132.88 L174.07,132.22 L174.14,131.38 L174.21,131.01 L174.27,130.46 L174.33,129.65 L174.40,129.37 L174.46,128.55 L174.52,127.55 L174.59,127.12 L174.65,126.78 L174.71,125.82 L174.77,125.25 L174.83,124.20 L174.88,123.92 L174.94,123.30 L174.99,122.66 L175.05,122.10 L175.10,121.67 L175.16,120.94 L175.23,120.21 L175.28,119.26 L175.34,118.79 L175.40,118.54 L175.45,117.42 L175.50,116.45 L175.55,115.76 L175.60,115.53 L175.65,114.50 L175.70,113.89 L175.75,113.27 L175.80,112.93 L175.84,112.75 L175.89,111.74 L175.94,111.13 L175.99,110.54 L176.04,110.02 L176.09,109.43 L176.14,109.11 L176.19,108.72 L176.24,108.05 L176.30,107.34 L176.40,106.65 L176.50,105.99 L176.61,104.52 L176.72,103.74 L176.82,103.24 L176.93,102.52 L177.04,101.77 L177.15,101.08 L177.26,100.71 L177.37,99.95 L177.48,99.84 L177.59,99.70 L177.70,99.15 L177.83,99.49 L177.96,99.53 L178.08,99.97 L178.21,99.72 L178.34,100.96 L178.47,101.49 L178.60,102.40 L178.73,103.24 L178.85,103.58 L178.98,104.84 L179.10,105.41 L179.15,106.22 L179.20,106.95 L179.26,106.85 L179.31,107.49 L179.36,107.80 L179.41,108.44 L179.46,109.02 L179.51,109.51 L179.56,110.83 L179.61,111.35 L179.66,111.64 L179.71,112.50 L179.76,113.10 L179.81,113.61 L179.86,114.19 L179.91,115.05 L179.96,115.63 L180.01,116.07 L180.06,116.83 L180.11,117.71 L180.16,118.38 L180.21,118.72 L180.26,119.71 L180.30,120.59 L180.35,121.25 L180.40,121.72 L180.44,121.84 L180.49,122.72 L180.53,123.06 L180.57,123.65 L180.61,124.43 L180.65,125.22 L180.69,126.09 L180.73,126.62 L180.77,126.99 L180.81,127.96 L180.85,128.46 L180.89,129.11 L180.93,129.56 L180.97,130.35 L181.01,130.91 L181.05,131.87 L181.09,132.31 L181.13,132.92 L181.18,133.57 L181.22,134.20 L181.26,134.98 L181.30,135.61 L181.34,136.28 L181.38,136.55 L181.43,137.44 L181.47,138.15 L181.51,138.72 L181.56,139.05 L181.60,139.05 L181.67,140.43 L181.73,141.16 L181.80,141.24 L181.87,142.21 L181.93,142.92 L182.00,143.96 L182.07,144.54 L182.14,144.95 L182.21,145.54 L182.28,146.17 L182.35,146.73 L182.42,147.90 L182.49,148.61 L182.57,148.61 L182.64,149.58 L182.71,150.27 L182.78,150.17 L182.86,150.96 L182.93,151.32 L183.00,152.14 L183.22,153.10 L183.44,153.55 L183.68,154.37 L183.91,155.14 L184.13,155.51 L184.33,155.92 L184.50,156.30 L184.94,156.98 L185.20,157.10" fill="none" stroke="#2f6a9e" stroke-width="0.7" stroke-linejoin="round"/>
<line x1="167.50" y1="98.50" x2="167.50" y2="157.10" stroke="#333" stroke-width="0.8" />
<line x1="188.10" y1="98.50" x2="188.10" y2="157.10" stroke="#555" stroke-width="0.8" />
<line x1="167.50" y1="111.25" x2="188.10" y2="111.25" stroke="#333" stroke-width="0.8" />
<text x="172.50" y="110.40" font-size="5.0" text-anchor="middle" fill="#222" >73.1</text>
<line x1="129.40" y1="156.70" x2="132.30" y2="156.70" stroke="#333" stroke-width="0.7" />
<text x="128.00" y="158.50" font-size="5.0" text-anchor="end" fill="#1a1a1a" >0</text>
<line x1="129.40" y1="149.45" x2="132.30" y2="149.45" stroke="#333" stroke-width="0.7" />
<text x="128.00" y="151.25" font-size="5.0" text-anchor="end" fill="#1a1a1a" >100</text>
<line x1="129.40" y1="142.20" x2="132.30" y2="142.20" stroke="#333" stroke-width="0.7" />
<text x="128.00" y="144.00" font-size="5.0" text-anchor="end" fill="#1a1a1a" >200</text>
<line x1="129.40" y1="134.95" x2="132.30" y2="134.95" stroke="#333" stroke-width="0.7" />
<text x="128.00" y="136.75" font-size="5.0" text-anchor="end" fill="#1a1a1a" >300</text>
<line x1="129.40" y1="127.70" x2="132.30" y2="127.70" stroke="#333" stroke-width="0.7" />
<text x="128.00" y="129.50" font-size="5.0" text-anchor="end" fill="#1a1a1a" >400</text>
<line x1="129.40" y1="120.45" x2="132.30" y2="120.45" stroke="#333" stroke-width="0.7" />
<text x="128.00" y="122.25" font-size="5.0" text-anchor="end" fill="#1a1a1a" >500</text>
<line x1="129.40" y1="113.20" x2="132.30" y2="113.20" stroke="#333" stroke-width="0.7" />
<text x="128.00" y="115.00" font-size="5.0" text-anchor="end" fill="#1a1a1a" >600</text>
<line x1="129.40" y1="105.95" x2="132.30" y2="105.95" stroke="#333" stroke-width="0.7" />
<text x="128.00" y="107.75" font-size="5.0" text-anchor="end" fill="#1a1a1a" >700</text>
<line x1="129.40" y1="98.70" x2="132.30" y2="98.70" stroke="#333" stroke-width="0.7" />
<text x="128.00" y="100.50" font-size="5.0" text-anchor="end" fill="#1a1a1a" >800</text>
<line x1="145.70" y1="157.10" x2="145.70" y2="159.50" stroke="#333" stroke-width="0.55" />
<line x1="149.97" y1="157.10" x2="149.97" y2="158.60" stroke="#333" stroke-width="0.55" />
<line x1="152.48" y1="157.10" x2="152.48" y2="158.60" stroke="#333" stroke-width="0.55" />
<line x1="154.25" y1="157.10" x2="154.25" y2="158.60" stroke="#333" stroke-width="0.55" />
<line x1="155.63" y1="157.10" x2="155.63" y2="158.60" stroke="#333" stroke-width="0.55" />
<line x1="156.75" y1="157.10" x2="156.75" y2="158.60" stroke="#333" stroke-width="0.55" />
<line x1="157.70" y1="157.10" x2="157.70" y2="158.60" stroke="#333" stroke-width="0.55" />
<line x1="158.52" y1="157.10" x2="158.52" y2="158.60" stroke="#333" stroke-width="0.55" />
<line x1="159.25" y1="157.10" x2="159.25" y2="158.60" stroke="#333" stroke-width="0.55" />
<line x1="159.90" y1="157.10" x2="159.90" y2="159.50" stroke="#333" stroke-width="0.55" />
<line x1="164.17" y1="157.10" x2="164.17" y2="158.60" stroke="#333" stroke-width="0.55" />
<line x1="166.68" y1="157.10" x2="166.68" y2="158.60" stroke="#333" stroke-width="0.55" />
<line x1="168.45" y1="157.10" x2="168.45" y2="158.60" stroke="#333" stroke-width="0.55" />
<line x1="169.83" y1="157.10" x2="169.83" y2="158.60" stroke="#333" stroke-width="0.55" />
<line x1="170.95" y1="157.10" x2="170.95" y2="158.60" stroke="#333" stroke-width="0.55" />
<line x1="171.90" y1="157.10" x2="171.90" y2="158.60" stroke="#333" stroke-width="0.55" />
<line x1="172.72" y1="157.10" x2="172.72" y2="158.60" stroke="#333" stroke-width="0.55" />
<line x1="173.45" y1="157.10" x2="173.45" y2="158.60" stroke="#333" stroke-width="0.55" />
<line x1="174.10" y1="157.10" x2="174.10" y2="159.50" stroke="#333" stroke-width="0.55" />
<line x1="178.37" y1="157.10" x2="178.37" y2="158.60" stroke="#333" stroke-width="0.55" />
<line x1="180.88" y1="157.10" x2="180.88" y2="158.60" stroke="#333" stroke-width="0.55" />
<line x1="182.65" y1="157.10" x2="182.65" y2="158.60" stroke="#333" stroke-width="0.55" />
<line x1="184.03" y1="157.10" x2="184.03" y2="158.60" stroke="#333" stroke-width="0.55" />
<line x1="185.15" y1="157.10" x2="185.15" y2="158.60" stroke="#333" stroke-width="0.55" />
<line x1="186.10" y1="157.10" x2="186.10" y2="158.60" stroke="#333" stroke-width="0.55" />
<line x1="186.92" y1="157.10" x2="186.92" y2="158.60" stroke="#333" stroke-width="0.55" />
<line x1="187.65" y1="157.10" x2="187.65" y2="158.60" stroke="#333" stroke-width="0.55" />
<line x1="188.30" y1="157.10" x2="188.30" y2="159.50" stroke="#333" stroke-width="0.55" />
<line x1="132.60" y1="157.10" x2="132.60" y2="159.30" stroke="#222" stroke-width="0.6" />
<line x1="135.30" y1="157.10" x2="135.30" y2="159.30" stroke="#222" stroke-width="0.6" />
<line x1="138.00" y1="157.10" x2="138.00" y2="159.30" stroke="#222" stroke-width="0.6" />
<line x1="141.10" y1="157.10" x2="141.10" y2="159.30" stroke="#222" stroke-width="0.6" />
<line x1="145.70" y1="157.10" x2="145.70" y2="159.30" stroke="#222" stroke-width="0.6" />
<text x="130.40" y="166.00" font-size="4.5" fill="#222">&#8722;10<tspan font-size="2.70" dy="-2.02">2</tspan></text>
<text x="140.60" y="166.00" font-size="4.5" fill="#222">0</text>
<text x="144.20" y="166.00" font-size="4.5" fill="#222">10<tspan font-size="2.70" dy="-2.02">2</tspan></text>
<text x="156.90" y="166.00" font-size="4.5" fill="#222">10<tspan font-size="2.70" dy="-2.02">3</tspan></text>
<text x="172.40" y="166.00" font-size="4.5" fill="#222">10<tspan font-size="2.70" dy="-2.02">4</tspan></text>
<text x="185.90" y="166.00" font-size="4.5" fill="#222">10<tspan font-size="2.70" dy="-2.02">5</tspan></text>
<text x="133.30" y="170.40" font-size="4.5" text-anchor="end" fill="#222" >&#8722;303</text>
<rect x="132.30" y="98.50" width="62.10" height="58.60" fill="none" stroke="#333" stroke-width="0.9"/>
<line x1="132.30" y1="98.05" x2="132.30" y2="157.70" stroke="#111" stroke-width="1.3" />
<line x1="131.70" y1="157.10" x2="194.85" y2="157.10" stroke="#111" stroke-width="1.3" />
<text transform="translate(116.20,127.80) rotate(-90)" font-size="5.6" text-anchor="middle" fill="#111">Count</text>
<path d="M216.00,157.10 L216.00,157.10 L216.12,156.75 L216.28,156.31 L216.47,155.79 L216.68,155.21 L216.91,154.55 L217.14,153.92 L217.37,153.42 L217.59,152.48 L217.80,151.81 L217.94,151.34 L218.09,150.47 L218.23,150.16 L218.37,149.67 L218.51,149.20 L218.65,148.04 L218.79,147.59 L218.93,146.81 L219.07,146.76 L219.21,146.06 L219.36,144.93 L219.50,145.09 L219.65,144.49 L219.79,143.66 L219.94,143.06 L220.09,142.13 L220.24,141.44 L220.39,141.29 L220.54,140.33 L220.70,139.85 L220.85,139.30 L221.00,138.51 L221.15,138.23 L221.30,137.55 L221.42,137.32 L221.54,136.47 L221.67,135.94 L221.80,135.18 L221.92,134.64 L222.05,133.81 L222.17,132.99 L222.30,132.90 L222.42,132.25 L222.54,131.50 L222.66,130.80 L222.78,129.93 L222.89,129.34 L223.00,128.93 L223.10,128.36 L223.44,127.79 L223.72,126.83 L223.99,126.88 L224.30,126.51 L224.58,127.22 L224.87,127.64 L225.17,127.65 L225.48,128.59 L225.80,129.93 L226.00,130.05 L226.21,130.94 L226.42,130.98 L226.63,131.25 L226.85,132.26 L227.06,132.98 L227.28,133.22 L227.50,133.77 L227.65,134.48 L227.79,135.54 L227.94,135.96 L228.09,136.07 L228.24,136.81 L228.39,137.34 L228.54,137.95 L228.70,139.17 L228.85,139.30 L229.00,140.19 L229.15,140.65 L229.30,140.95 L229.56,142.18 L229.81,142.43 L230.07,143.51 L230.33,143.71 L230.59,144.53 L230.84,144.89 L231.10,145.42 L231.53,146.71 L231.95,147.16 L232.39,147.21 L232.90,148.01 L233.49,147.71 L234.14,147.99 L234.82,148.35 L235.50,148.01 L236.04,147.27 L236.58,147.53 L237.12,146.37 L237.66,145.87 L238.20,145.82 L238.72,145.11 L239.24,144.81 L239.76,144.34 L240.28,143.99 L240.80,143.87 L241.13,143.18 L241.47,143.01 L241.81,142.32 L242.14,141.84 L242.48,141.66 L242.82,140.67 L243.16,140.11 L243.50,139.69 L243.75,138.66 L244.00,138.13 L244.26,138.21 L244.52,137.61 L244.78,136.60 L245.03,135.99 L245.28,135.85 L245.53,135.42 L245.76,134.22 L245.99,134.20 L246.20,133.51 L246.37,132.73 L246.53,132.03 L246.68,131.22 L246.82,130.59 L246.96,130.75 L247.10,129.57 L247.23,129.34 L247.36,128.36 L247.48,128.18 L247.61,127.34 L247.74,126.43 L247.87,125.65 L248.00,125.38 L248.10,124.33 L248.19,123.91 L248.29,123.61 L248.38,123.27 L248.48,122.49 L248.57,121.62 L248.66,121.52 L248.76,120.34 L248.85,119.57 L248.94,119.15 L249.04,118.67 L249.13,117.74 L249.22,117.22 L249.32,116.76 L249.41,116.31 L249.51,115.37 L249.60,114.96 L249.70,114.81 L249.81,114.24 L249.92,113.32 L250.03,112.69 L250.14,111.93 L250.26,110.90 L250.37,110.15 L250.48,109.47 L250.59,109.53 L250.71,108.73 L250.82,108.32 L250.93,106.96 L251.05,106.88 L251.16,106.21 L251.27,105.90 L251.39,105.09 L251.50,105.20 L251.81,103.49 L252.12,103.14 L252.44,102.73 L252.74,102.40 L253.03,101.84 L253.30,101.36 L253.64,100.60 L253.93,99.84 L254.20,98.81 L254.50,99.05 L254.66,99.46 L254.83,99.80 L255.01,99.93 L255.18,100.83 L255.36,101.58 L255.54,102.14 L255.72,103.06 L255.90,103.81 L255.99,104.44 L256.07,104.97 L256.16,105.08 L256.25,106.08 L256.34,106.94 L256.43,107.45 L256.53,107.95 L256.62,108.32 L256.71,109.25 L256.80,109.79 L256.89,110.35 L256.98,111.34 L257.07,111.42 L257.15,112.64 L257.24,112.76 L257.32,113.90 L257.40,114.48 L257.47,114.87 L257.53,115.83 L257.60,116.27 L257.66,116.97 L257.72,117.83 L257.78,117.92 L257.84,118.35 L257.90,119.21 L257.96,120.14 L258.02,120.40 L258.08,121.01 L258.13,122.24 L258.19,122.68 L258.25,123.15 L258.31,124.15 L258.36,124.34 L258.42,125.24 L258.48,125.50 L258.54,126.32 L258.60,127.24 L258.66,127.95 L258.72,128.55 L258.78,128.77 L258.84,129.55 L258.89,129.96 L258.95,130.44 L259.01,131.34 L259.07,132.24 L259.12,132.87 L259.18,133.38 L259.24,134.19 L259.30,134.27 L259.36,134.80 L259.42,135.64 L259.48,136.12 L259.54,136.69 L259.60,137.47 L259.67,138.26 L259.73,138.78 L259.80,139.25 L259.87,140.30 L259.94,141.06 L260.01,141.29 L260.08,141.65 L260.16,142.29 L260.23,143.64 L260.31,143.66 L260.38,144.87 L260.46,145.43 L260.54,145.89 L260.62,146.94 L260.69,146.97 L260.77,147.69 L260.85,148.57 L260.93,148.82 L261.00,150.04 L261.08,150.11 L261.15,150.56 L261.23,150.99 L261.30,151.89 L261.47,152.70 L261.64,153.62 L261.83,154.35 L262.01,155.02 L262.18,155.50 L262.34,155.99 L262.48,156.41 L262.61,156.78 L262.70,157.10 L262.70,157.10 Z" fill="#89a9c3" stroke="none"/>
<path d="M216.00,157.10 L216.12,156.75 L216.28,156.31 L216.47,155.79 L216.68,155.21 L216.91,154.55 L217.14,153.92 L217.37,153.42 L217.59,152.48 L217.80,151.81 L217.94,151.34 L218.09,150.47 L218.23,150.16 L218.37,149.67 L218.51,149.20 L218.65,148.04 L218.79,147.59 L218.93,146.81 L219.07,146.76 L219.21,146.06 L219.36,144.93 L219.50,145.09 L219.65,144.49 L219.79,143.66 L219.94,143.06 L220.09,142.13 L220.24,141.44 L220.39,141.29 L220.54,140.33 L220.70,139.85 L220.85,139.30 L221.00,138.51 L221.15,138.23 L221.30,137.55 L221.42,137.32 L221.54,136.47 L221.67,135.94 L221.80,135.18 L221.92,134.64 L222.05,133.81 L222.17,132.99 L222.30,132.90 L222.42,132.25 L222.54,131.50 L222.66,130.80 L222.78,129.93 L222.89,129.34 L223.00,128.93 L223.10,128.36 L223.44,127.79 L223.72,126.83 L223.99,126.88 L224.30,126.51 L224.58,127.22 L224.87,127.64 L225.17,127.65 L225.48,128.59 L225.80,129.93 L226.00,130.05 L226.21,130.94 L226.42,130.98 L226.63,131.25 L226.85,132.26 L227.06,132.98 L227.28,133.22 L227.50,133.77 L227.65,134.48 L227.79,135.54 L227.94,135.96 L228.09,136.07 L228.24,136.81 L228.39,137.34 L228.54,137.95 L228.70,139.17 L228.85,139.30 L229.00,140.19 L229.15,140.65 L229.30,140.95 L229.56,142.18 L229.81,142.43 L230.07,143.51 L230.33,143.71 L230.59,144.53 L230.84,144.89 L231.10,145.42 L231.53,146.71 L231.95,147.16 L232.39,147.21 L232.90,148.01 L233.49,147.71 L234.14,147.99 L234.82,148.35 L235.50,148.01 L236.04,147.27 L236.58,147.53 L237.12,146.37 L237.66,145.87 L238.20,145.82 L238.72,145.11 L239.24,144.81 L239.76,144.34 L240.28,143.99 L240.80,143.87 L241.13,143.18 L241.47,143.01 L241.81,142.32 L242.14,141.84 L242.48,141.66 L242.82,140.67 L243.16,140.11 L243.50,139.69 L243.75,138.66 L244.00,138.13 L244.26,138.21 L244.52,137.61 L244.78,136.60 L245.03,135.99 L245.28,135.85 L245.53,135.42 L245.76,134.22 L245.99,134.20 L246.20,133.51 L246.37,132.73 L246.53,132.03 L246.68,131.22 L246.82,130.59 L246.96,130.75 L247.10,129.57 L247.23,129.34 L247.36,128.36 L247.48,128.18 L247.61,127.34 L247.74,126.43 L247.87,125.65 L248.00,125.38 L248.10,124.33 L248.19,123.91 L248.29,123.61 L248.38,123.27 L248.48,122.49 L248.57,121.62 L248.66,121.52 L248.76,120.34 L248.85,119.57 L248.94,119.15 L249.04,118.67 L249.13,117.74 L249.22,117.22 L249.32,116.76 L249.41,116.31 L249.51,115.37 L249.60,114.96 L249.70,114.81 L249.81,114.24 L249.92,113.32 L250.03,112.69 L250.14,111.93 L250.26,110.90 L250.37,110.15 L250.48,109.47 L250.59,109.53 L250.71,108.73 L250.82,108.32 L250.93,106.96 L251.05,106.88 L251.16,106.21 L251.27,105.90 L251.39,105.09 L251.50,105.20 L251.81,103.49 L252.12,103.14 L252.44,102.73 L252.74,102.40 L253.03,101.84 L253.30,101.36 L253.64,100.60 L253.93,99.84 L254.20,98.81 L254.50,99.05 L254.66,99.46 L254.83,99.80 L255.01,99.93 L255.18,100.83 L255.36,101.58 L255.54,102.14 L255.72,103.06 L255.90,103.81 L255.99,104.44 L256.07,104.97 L256.16,105.08 L256.25,106.08 L256.34,106.94 L256.43,107.45 L256.53,107.95 L256.62,108.32 L256.71,109.25 L256.80,109.79 L256.89,110.35 L256.98,111.34 L257.07,111.42 L257.15,112.64 L257.24,112.76 L257.32,113.90 L257.40,114.48 L257.47,114.87 L257.53,115.83 L257.60,116.27 L257.66,116.97 L257.72,117.83 L257.78,117.92 L257.84,118.35 L257.90,119.21 L257.96,120.14 L258.02,120.40 L258.08,121.01 L258.13,122.24 L258.19,122.68 L258.25,123.15 L258.31,124.15 L258.36,124.34 L258.42,125.24 L258.48,125.50 L258.54,126.32 L258.60,127.24 L258.66,127.95 L258.72,128.55 L258.78,128.77 L258.84,129.55 L258.89,129.96 L258.95,130.44 L259.01,131.34 L259.07,132.24 L259.12,132.87 L259.18,133.38 L259.24,134.19 L259.30,134.27 L259.36,134.80 L259.42,135.64 L259.48,136.12 L259.54,136.69 L259.60,137.47 L259.67,138.26 L259.73,138.78 L259.80,139.25 L259.87,140.30 L259.94,141.06 L260.01,141.29 L260.08,141.65 L260.16,142.29 L260.23,143.64 L260.31,143.66 L260.38,144.87 L260.46,145.43 L260.54,145.89 L260.62,146.94 L260.69,146.97 L260.77,147.69 L260.85,148.57 L260.93,148.82 L261.00,150.04 L261.08,150.11 L261.15,150.56 L261.23,150.99 L261.30,151.89 L261.47,152.70 L261.64,153.62 L261.83,154.35 L262.01,155.02 L262.18,155.50 L262.34,155.99 L262.48,156.41 L262.61,156.78 L262.70,157.10" fill="none" stroke="#2f6a9e" stroke-width="0.7" stroke-linejoin="round"/>
<line x1="237.25" y1="98.50" x2="237.25" y2="157.10" stroke="#333" stroke-width="0.8" />
<line x1="268.50" y1="98.50" x2="268.50" y2="157.10" stroke="#555" stroke-width="0.8" />
<line x1="237.25" y1="155.00" x2="268.50" y2="155.00" stroke="#333" stroke-width="0.8" />
<text x="263.00" y="153.10" font-size="5.0" text-anchor="middle" fill="#222" >88.1</text>
<line x1="207.20" y1="157.10" x2="210.10" y2="157.10" stroke="#333" stroke-width="0.7" />
<text x="205.80" y="158.90" font-size="5.0" text-anchor="end" fill="#1a1a1a" >0</text>
<line x1="207.20" y1="149.80" x2="210.10" y2="149.80" stroke="#333" stroke-width="0.7" />
<text x="205.80" y="151.60" font-size="5.0" text-anchor="end" fill="#1a1a1a" >50</text>
<line x1="207.20" y1="142.50" x2="210.10" y2="142.50" stroke="#333" stroke-width="0.7" />
<text x="205.80" y="144.30" font-size="5.0" text-anchor="end" fill="#1a1a1a" >100</text>
<line x1="207.20" y1="135.20" x2="210.10" y2="135.20" stroke="#333" stroke-width="0.7" />
<text x="205.80" y="137.00" font-size="5.0" text-anchor="end" fill="#1a1a1a" >150</text>
<line x1="207.20" y1="127.90" x2="210.10" y2="127.90" stroke="#333" stroke-width="0.7" />
<text x="205.80" y="129.70" font-size="5.0" text-anchor="end" fill="#1a1a1a" >200</text>
<line x1="207.20" y1="120.60" x2="210.10" y2="120.60" stroke="#333" stroke-width="0.7" />
<text x="205.80" y="122.40" font-size="5.0" text-anchor="end" fill="#1a1a1a" >250</text>
<line x1="207.20" y1="113.30" x2="210.10" y2="113.30" stroke="#333" stroke-width="0.7" />
<text x="205.80" y="115.10" font-size="5.0" text-anchor="end" fill="#1a1a1a" >300</text>
<line x1="207.20" y1="106.00" x2="210.10" y2="106.00" stroke="#333" stroke-width="0.7" />
<text x="205.80" y="107.80" font-size="5.0" text-anchor="end" fill="#1a1a1a" >350</text>
<line x1="223.50" y1="157.10" x2="223.50" y2="159.50" stroke="#333" stroke-width="0.55" />
<line x1="227.77" y1="157.10" x2="227.77" y2="158.60" stroke="#333" stroke-width="0.55" />
<line x1="230.28" y1="157.10" x2="230.28" y2="158.60" stroke="#333" stroke-width="0.55" />
<line x1="232.05" y1="157.10" x2="232.05" y2="158.60" stroke="#333" stroke-width="0.55" />
<line x1="233.43" y1="157.10" x2="233.43" y2="158.60" stroke="#333" stroke-width="0.55" />
<line x1="234.55" y1="157.10" x2="234.55" y2="158.60" stroke="#333" stroke-width="0.55" />
<line x1="235.50" y1="157.10" x2="235.50" y2="158.60" stroke="#333" stroke-width="0.55" />
<line x1="236.32" y1="157.10" x2="236.32" y2="158.60" stroke="#333" stroke-width="0.55" />
<line x1="237.05" y1="157.10" x2="237.05" y2="158.60" stroke="#333" stroke-width="0.55" />
<line x1="237.70" y1="157.10" x2="237.70" y2="159.50" stroke="#333" stroke-width="0.55" />
<line x1="241.97" y1="157.10" x2="241.97" y2="158.60" stroke="#333" stroke-width="0.55" />
<line x1="244.48" y1="157.10" x2="244.48" y2="158.60" stroke="#333" stroke-width="0.55" />
<line x1="246.25" y1="157.10" x2="246.25" y2="158.60" stroke="#333" stroke-width="0.55" />
<line x1="247.63" y1="157.10" x2="247.63" y2="158.60" stroke="#333" stroke-width="0.55" />
<line x1="248.75" y1="157.10" x2="248.75" y2="158.60" stroke="#333" stroke-width="0.55" />
<line x1="249.70" y1="157.10" x2="249.70" y2="158.60" stroke="#333" stroke-width="0.55" />
<line x1="250.52" y1="157.10" x2="250.52" y2="158.60" stroke="#333" stroke-width="0.55" />
<line x1="251.25" y1="157.10" x2="251.25" y2="158.60" stroke="#333" stroke-width="0.55" />
<line x1="251.90" y1="157.10" x2="251.90" y2="159.50" stroke="#333" stroke-width="0.55" />
<line x1="256.17" y1="157.10" x2="256.17" y2="158.60" stroke="#333" stroke-width="0.55" />
<line x1="258.68" y1="157.10" x2="258.68" y2="158.60" stroke="#333" stroke-width="0.55" />
<line x1="260.45" y1="157.10" x2="260.45" y2="158.60" stroke="#333" stroke-width="0.55" />
<line x1="261.83" y1="157.10" x2="261.83" y2="158.60" stroke="#333" stroke-width="0.55" />
<line x1="262.95" y1="157.10" x2="262.95" y2="158.60" stroke="#333" stroke-width="0.55" />
<line x1="263.90" y1="157.10" x2="263.90" y2="158.60" stroke="#333" stroke-width="0.55" />
<line x1="264.72" y1="157.10" x2="264.72" y2="158.60" stroke="#333" stroke-width="0.55" />
<line x1="265.45" y1="157.10" x2="265.45" y2="158.60" stroke="#333" stroke-width="0.55" />
<line x1="266.10" y1="157.10" x2="266.10" y2="159.50" stroke="#333" stroke-width="0.55" />
<line x1="210.40" y1="157.10" x2="210.40" y2="159.30" stroke="#222" stroke-width="0.6" />
<line x1="213.10" y1="157.10" x2="213.10" y2="159.30" stroke="#222" stroke-width="0.6" />
<line x1="215.80" y1="157.10" x2="215.80" y2="159.30" stroke="#222" stroke-width="0.6" />
<line x1="218.90" y1="157.10" x2="218.90" y2="159.30" stroke="#222" stroke-width="0.6" />
<line x1="223.50" y1="157.10" x2="223.50" y2="159.30" stroke="#222" stroke-width="0.6" />
<text x="208.20" y="166.00" font-size="4.5" fill="#222">&#8722;10<tspan font-size="2.70" dy="-2.02">2</tspan></text>
<text x="218.40" y="166.00" font-size="4.5" fill="#222">0</text>
<text x="222.00" y="166.00" font-size="4.5" fill="#222">10<tspan font-size="2.70" dy="-2.02">2</tspan></text>
<text x="234.70" y="166.00" font-size="4.5" fill="#222">10<tspan font-size="2.70" dy="-2.02">3</tspan></text>
<text x="250.20" y="166.00" font-size="4.5" fill="#222">10<tspan font-size="2.70" dy="-2.02">4</tspan></text>
<text x="263.70" y="166.00" font-size="4.5" fill="#222">10<tspan font-size="2.70" dy="-2.02">5</tspan></text>
<text x="211.10" y="170.40" font-size="4.5" text-anchor="end" fill="#222" >&#8722;299</text>
<rect x="210.10" y="98.50" width="62.00" height="58.60" fill="none" stroke="#333" stroke-width="0.9"/>
<line x1="210.10" y1="98.05" x2="210.10" y2="157.70" stroke="#111" stroke-width="1.3" />
<line x1="209.50" y1="157.10" x2="272.55" y2="157.10" stroke="#111" stroke-width="1.3" />
<path d="M291.60,157.10 L291.60,157.10 L291.71,156.79 L291.86,156.45 L292.04,156.06 L292.23,155.60 L292.44,155.05 L292.66,154.48 L292.88,153.75 L293.10,152.60 L293.30,151.45 L293.38,151.27 L293.45,150.71 L293.53,150.65 L293.61,150.03 L293.68,149.42 L293.76,148.82 L293.84,148.32 L293.92,147.31 L294.00,146.92 L294.08,146.07 L294.15,146.02 L294.23,144.69 L294.31,144.63 L294.39,143.36 L294.47,143.17 L294.55,142.21 L294.63,141.58 L294.71,141.25 L294.79,139.90 L294.86,139.26 L294.94,139.26 L295.02,138.27 L295.10,137.27 L295.17,137.41 L295.24,136.78 L295.31,135.51 L295.38,135.16 L295.45,134.32 L295.52,133.84 L295.58,133.47 L295.65,132.48 L295.72,132.28 L295.79,131.14 L295.86,130.60 L295.93,130.49 L296.00,129.52 L296.07,128.90 L296.14,128.41 L296.21,127.69 L296.28,126.98 L296.35,126.07 L296.42,126.01 L296.48,125.58 L296.55,124.97 L296.62,124.11 L296.69,123.26 L296.76,122.67 L296.83,122.34 L296.90,121.74 L296.98,120.63 L297.06,120.06 L297.14,119.50 L297.21,118.94 L297.29,118.51 L297.37,117.59 L297.45,116.54 L297.53,116.51 L297.61,115.53 L297.69,114.94 L297.77,114.05 L297.85,113.56 L297.92,112.90 L298.00,112.58 L298.08,111.43 L298.16,111.18 L298.24,110.30 L298.32,110.14 L298.39,109.06 L298.47,108.71 L298.55,108.25 L298.62,107.98 L298.70,107.04 L298.85,106.51 L298.99,105.51 L299.14,104.82 L299.29,104.28 L299.44,104.02 L299.58,103.03 L299.73,102.86 L299.87,101.72 L300.01,101.85 L300.14,100.96 L300.27,100.42 L300.40,100.50 L300.86,99.57 L301.27,98.42 L301.70,98.71 L301.97,99.37 L302.23,99.45 L302.51,99.98 L302.79,100.63 L303.10,101.73 L303.21,102.62 L303.32,103.36 L303.44,103.86 L303.55,103.98 L303.67,104.13 L303.80,104.94 L303.92,105.90 L304.04,106.55 L304.17,107.03 L304.29,107.35 L304.42,108.25 L304.54,108.89 L304.66,109.70 L304.78,110.10 L304.90,111.36 L304.99,111.85 L305.07,111.82 L305.16,112.49 L305.24,113.53 L305.33,113.63 L305.41,114.76 L305.50,115.02 L305.58,115.78 L305.67,116.41 L305.75,116.64 L305.83,117.33 L305.92,117.95 L306.00,118.93 L306.09,119.59 L306.17,119.80 L306.26,121.06 L306.34,121.35 L306.43,121.86 L306.51,122.68 L306.60,123.78 L306.68,124.03 L306.75,124.68 L306.83,125.53 L306.91,126.18 L306.98,126.64 L307.06,127.00 L307.14,127.77 L307.22,128.66 L307.30,129.22 L307.38,129.70 L307.45,130.16 L307.53,130.82 L307.61,131.76 L307.69,132.26 L307.77,132.46 L307.85,133.65 L307.93,134.42 L308.01,134.95 L308.09,135.63 L308.16,136.24 L308.24,136.51 L308.32,137.28 L308.40,137.50 L308.50,137.97 L308.60,138.85 L308.69,139.50 L308.78,140.66 L308.87,141.13 L308.97,141.66 L309.06,142.36 L309.15,142.59 L309.24,143.53 L309.34,144.27 L309.43,144.61 L309.53,145.06 L309.63,145.74 L309.74,146.21 L309.85,147.02 L309.96,147.08 L310.08,147.52 L310.20,148.15 L310.46,149.30 L310.72,150.10 L311.00,150.69 L311.29,151.51 L311.60,151.62 L311.91,151.92 L312.23,152.69 L312.56,153.13 L312.90,153.45 L313.36,154.20 L313.84,154.56 L314.34,154.97 L314.85,155.41 L315.37,155.74 L315.89,156.04 L316.40,156.30 L317.04,156.55 L317.73,156.74 L318.42,156.87 L319.06,156.96 L319.61,157.03 L320.00,157.10 L320.00,157.10 Z" fill="#89a9c3" stroke="none"/>
<path d="M291.60,157.10 L291.71,156.79 L291.86,156.45 L292.04,156.06 L292.23,155.60 L292.44,155.05 L292.66,154.48 L292.88,153.75 L293.10,152.60 L293.30,151.45 L293.38,151.27 L293.45,150.71 L293.53,150.65 L293.61,150.03 L293.68,149.42 L293.76,148.82 L293.84,148.32 L293.92,147.31 L294.00,146.92 L294.08,146.07 L294.15,146.02 L294.23,144.69 L294.31,144.63 L294.39,143.36 L294.47,143.17 L294.55,142.21 L294.63,141.58 L294.71,141.25 L294.79,139.90 L294.86,139.26 L294.94,139.26 L295.02,138.27 L295.10,137.27 L295.17,137.41 L295.24,136.78 L295.31,135.51 L295.38,135.16 L295.45,134.32 L295.52,133.84 L295.58,133.47 L295.65,132.48 L295.72,132.28 L295.79,131.14 L295.86,130.60 L295.93,130.49 L296.00,129.52 L296.07,128.90 L296.14,128.41 L296.21,127.69 L296.28,126.98 L296.35,126.07 L296.42,126.01 L296.48,125.58 L296.55,124.97 L296.62,124.11 L296.69,123.26 L296.76,122.67 L296.83,122.34 L296.90,121.74 L296.98,120.63 L297.06,120.06 L297.14,119.50 L297.21,118.94 L297.29,118.51 L297.37,117.59 L297.45,116.54 L297.53,116.51 L297.61,115.53 L297.69,114.94 L297.77,114.05 L297.85,113.56 L297.92,112.90 L298.00,112.58 L298.08,111.43 L298.16,111.18 L298.24,110.30 L298.32,110.14 L298.39,109.06 L298.47,108.71 L298.55,108.25 L298.62,107.98 L298.70,107.04 L298.85,106.51 L298.99,105.51 L299.14,104.82 L299.29,104.28 L299.44,104.02 L299.58,103.03 L299.73,102.86 L299.87,101.72 L300.01,101.85 L300.14,100.96 L300.27,100.42 L300.40,100.50 L300.86,99.57 L301.27,98.42 L301.70,98.71 L301.97,99.37 L302.23,99.45 L302.51,99.98 L302.79,100.63 L303.10,101.73 L303.21,102.62 L303.32,103.36 L303.44,103.86 L303.55,103.98 L303.67,104.13 L303.80,104.94 L303.92,105.90 L304.04,106.55 L304.17,107.03 L304.29,107.35 L304.42,108.25 L304.54,108.89 L304.66,109.70 L304.78,110.10 L304.90,111.36 L304.99,111.85 L305.07,111.82 L305.16,112.49 L305.24,113.53 L305.33,113.63 L305.41,114.76 L305.50,115.02 L305.58,115.78 L305.67,116.41 L305.75,116.64 L305.83,117.33 L305.92,117.95 L306.00,118.93 L306.09,119.59 L306.17,119.80 L306.26,121.06 L306.34,121.35 L306.43,121.86 L306.51,122.68 L306.60,123.78 L306.68,124.03 L306.75,124.68 L306.83,125.53 L306.91,126.18 L306.98,126.64 L307.06,127.00 L307.14,127.77 L307.22,128.66 L307.30,129.22 L307.38,129.70 L307.45,130.16 L307.53,130.82 L307.61,131.76 L307.69,132.26 L307.77,132.46 L307.85,133.65 L307.93,134.42 L308.01,134.95 L308.09,135.63 L308.16,136.24 L308.24,136.51 L308.32,137.28 L308.40,137.50 L308.50,137.97 L308.60,138.85 L308.69,139.50 L308.78,140.66 L308.87,141.13 L308.97,141.66 L309.06,142.36 L309.15,142.59 L309.24,143.53 L309.34,144.27 L309.43,144.61 L309.53,145.06 L309.63,145.74 L309.74,146.21 L309.85,147.02 L309.96,147.08 L310.08,147.52 L310.20,148.15 L310.46,149.30 L310.72,150.10 L311.00,150.69 L311.29,151.51 L311.60,151.62 L311.91,151.92 L312.23,152.69 L312.56,153.13 L312.90,153.45 L313.36,154.20 L313.84,154.56 L314.34,154.97 L314.85,155.41 L315.37,155.74 L315.89,156.04 L316.40,156.30 L317.04,156.55 L317.73,156.74 L318.42,156.87 L319.06,156.96 L319.61,157.03 L320.00,157.10" fill="none" stroke="#2f6a9e" stroke-width="0.7" stroke-linejoin="round"/>
<line x1="310.50" y1="98.50" x2="310.50" y2="157.10" stroke="#333" stroke-width="0.8" />
<line x1="346.50" y1="98.50" x2="346.50" y2="157.10" stroke="#555" stroke-width="0.8" />
<line x1="310.50" y1="119.40" x2="346.50" y2="119.40" stroke="#333" stroke-width="0.8" />
<text x="330.60" y="117.20" font-size="5.0" text-anchor="middle" fill="#222" >5.3</text>
<line x1="287.50" y1="157.20" x2="290.40" y2="157.20" stroke="#333" stroke-width="0.7" />
<text x="286.10" y="159.00" font-size="5.0" text-anchor="end" fill="#1a1a1a" >0</text>
<line x1="287.50" y1="144.70" x2="290.40" y2="144.70" stroke="#333" stroke-width="0.7" />
<text x="286.10" y="146.50" font-size="5.0" text-anchor="end" fill="#1a1a1a" >250</text>
<line x1="287.50" y1="132.20" x2="290.40" y2="132.20" stroke="#333" stroke-width="0.7" />
<text x="286.10" y="134.00" font-size="5.0" text-anchor="end" fill="#1a1a1a" >500</text>
<line x1="287.50" y1="119.70" x2="290.40" y2="119.70" stroke="#333" stroke-width="0.7" />
<text x="286.10" y="121.50" font-size="5.0" text-anchor="end" fill="#1a1a1a" >750</text>
<line x1="287.50" y1="107.20" x2="290.40" y2="107.20" stroke="#333" stroke-width="0.7" />
<text x="286.10" y="109.00" font-size="5.0" text-anchor="end" fill="#1a1a1a" >1,000</text>
<line x1="288.40" y1="157.20" x2="290.40" y2="157.20" stroke="#333" stroke-width="0.55" />
<line x1="288.40" y1="154.70" x2="290.40" y2="154.70" stroke="#333" stroke-width="0.55" />
<line x1="288.40" y1="152.20" x2="290.40" y2="152.20" stroke="#333" stroke-width="0.55" />
<line x1="288.40" y1="149.70" x2="290.40" y2="149.70" stroke="#333" stroke-width="0.55" />
<line x1="288.40" y1="147.20" x2="290.40" y2="147.20" stroke="#333" stroke-width="0.55" />
<line x1="288.40" y1="144.70" x2="290.40" y2="144.70" stroke="#333" stroke-width="0.55" />
<line x1="288.40" y1="142.20" x2="290.40" y2="142.20" stroke="#333" stroke-width="0.55" />
<line x1="288.40" y1="139.70" x2="290.40" y2="139.70" stroke="#333" stroke-width="0.55" />
<line x1="288.40" y1="137.20" x2="290.40" y2="137.20" stroke="#333" stroke-width="0.55" />
<line x1="288.40" y1="134.70" x2="290.40" y2="134.70" stroke="#333" stroke-width="0.55" />
<line x1="288.40" y1="132.20" x2="290.40" y2="132.20" stroke="#333" stroke-width="0.55" />
<line x1="288.40" y1="129.70" x2="290.40" y2="129.70" stroke="#333" stroke-width="0.55" />
<line x1="288.40" y1="127.20" x2="290.40" y2="127.20" stroke="#333" stroke-width="0.55" />
<line x1="288.40" y1="124.70" x2="290.40" y2="124.70" stroke="#333" stroke-width="0.55" />
<line x1="288.40" y1="122.20" x2="290.40" y2="122.20" stroke="#333" stroke-width="0.55" />
<line x1="288.40" y1="119.70" x2="290.40" y2="119.70" stroke="#333" stroke-width="0.55" />
<line x1="288.40" y1="117.20" x2="290.40" y2="117.20" stroke="#333" stroke-width="0.55" />
<line x1="288.40" y1="114.70" x2="290.40" y2="114.70" stroke="#333" stroke-width="0.55" />
<line x1="288.40" y1="112.20" x2="290.40" y2="112.20" stroke="#333" stroke-width="0.55" />
<line x1="288.40" y1="109.70" x2="290.40" y2="109.70" stroke="#333" stroke-width="0.55" />
<line x1="288.40" y1="107.20" x2="290.40" y2="107.20" stroke="#333" stroke-width="0.55" />
<line x1="288.40" y1="104.70" x2="290.40" y2="104.70" stroke="#333" stroke-width="0.55" />
<line x1="288.40" y1="102.20" x2="290.40" y2="102.20" stroke="#333" stroke-width="0.55" />
<line x1="288.40" y1="99.70" x2="290.40" y2="99.70" stroke="#333" stroke-width="0.55" />
<line x1="304.10" y1="157.10" x2="304.10" y2="159.50" stroke="#333" stroke-width="0.55" />
<line x1="308.37" y1="157.10" x2="308.37" y2="158.60" stroke="#333" stroke-width="0.55" />
<line x1="310.88" y1="157.10" x2="310.88" y2="158.60" stroke="#333" stroke-width="0.55" />
<line x1="312.65" y1="157.10" x2="312.65" y2="158.60" stroke="#333" stroke-width="0.55" />
<line x1="314.03" y1="157.10" x2="314.03" y2="158.60" stroke="#333" stroke-width="0.55" />
<line x1="315.15" y1="157.10" x2="315.15" y2="158.60" stroke="#333" stroke-width="0.55" />
<line x1="316.10" y1="157.10" x2="316.10" y2="158.60" stroke="#333" stroke-width="0.55" />
<line x1="316.92" y1="157.10" x2="316.92" y2="158.60" stroke="#333" stroke-width="0.55" />
<line x1="317.65" y1="157.10" x2="317.65" y2="158.60" stroke="#333" stroke-width="0.55" />
<line x1="318.30" y1="157.10" x2="318.30" y2="159.50" stroke="#333" stroke-width="0.55" />
<line x1="322.57" y1="157.10" x2="322.57" y2="158.60" stroke="#333" stroke-width="0.55" />
<line x1="325.08" y1="157.10" x2="325.08" y2="158.60" stroke="#333" stroke-width="0.55" />
<line x1="326.85" y1="157.10" x2="326.85" y2="158.60" stroke="#333" stroke-width="0.55" />
<line x1="328.23" y1="157.10" x2="328.23" y2="158.60" stroke="#333" stroke-width="0.55" />
<line x1="329.35" y1="157.10" x2="329.35" y2="158.60" stroke="#333" stroke-width="0.55" />
<line x1="330.30" y1="157.10" x2="330.30" y2="158.60" stroke="#333" stroke-width="0.55" />
<line x1="331.12" y1="157.10" x2="331.12" y2="158.60" stroke="#333" stroke-width="0.55" />
<line x1="331.85" y1="157.10" x2="331.85" y2="158.60" stroke="#333" stroke-width="0.55" />
<line x1="332.50" y1="157.10" x2="332.50" y2="159.50" stroke="#333" stroke-width="0.55" />
<line x1="336.77" y1="157.10" x2="336.77" y2="158.60" stroke="#333" stroke-width="0.55" />
<line x1="339.28" y1="157.10" x2="339.28" y2="158.60" stroke="#333" stroke-width="0.55" />
<line x1="341.05" y1="157.10" x2="341.05" y2="158.60" stroke="#333" stroke-width="0.55" />
<line x1="342.43" y1="157.10" x2="342.43" y2="158.60" stroke="#333" stroke-width="0.55" />
<line x1="343.55" y1="157.10" x2="343.55" y2="158.60" stroke="#333" stroke-width="0.55" />
<line x1="344.50" y1="157.10" x2="344.50" y2="158.60" stroke="#333" stroke-width="0.55" />
<line x1="345.32" y1="157.10" x2="345.32" y2="158.60" stroke="#333" stroke-width="0.55" />
<line x1="346.05" y1="157.10" x2="346.05" y2="158.60" stroke="#333" stroke-width="0.55" />
<line x1="346.70" y1="157.10" x2="346.70" y2="159.50" stroke="#333" stroke-width="0.55" />
<rect x="291.60" y="157.10" width="11.6" height="1.6" fill="#111"/>
<line x1="293.90" y1="157.10" x2="293.90" y2="159.40" stroke="#222" stroke-width="0.6" />
<line x1="297.40" y1="157.10" x2="297.40" y2="159.40" stroke="#222" stroke-width="0.6" />
<line x1="300.90" y1="157.10" x2="300.90" y2="159.40" stroke="#222" stroke-width="0.6" />
<text x="296.40" y="166.00" font-size="4.5" fill="#222">0</text>
<text x="300.20" y="166.00" font-size="4.5" fill="#222">10<tspan font-size="2.70" dy="-2.02">2</tspan></text>
<text x="315.60" y="166.00" font-size="4.5" fill="#222">10<tspan font-size="2.70" dy="-2.02">3</tspan></text>
<text x="329.80" y="166.00" font-size="4.5" fill="#222">10<tspan font-size="2.70" dy="-2.02">4</tspan></text>
<text x="343.90" y="166.00" font-size="4.5" fill="#222">10<tspan font-size="2.70" dy="-2.02">5</tspan></text>
<text x="293.40" y="170.40" font-size="4.5" text-anchor="end" fill="#222" >&#8722;139</text>
<rect x="290.40" y="98.50" width="62.10" height="58.60" fill="none" stroke="#333" stroke-width="0.9"/>
<line x1="290.40" y1="98.05" x2="290.40" y2="157.70" stroke="#111" stroke-width="1.3" />
<line x1="289.80" y1="157.10" x2="352.95" y2="157.10" stroke="#111" stroke-width="1.3" />
<path d="M377.80,157.10 L377.80,157.10 L378.15,156.88 L378.65,156.59 L379.23,156.23 L379.83,155.83 L380.40,155.40 L380.84,154.93 L381.29,154.60 L381.74,154.13 L382.20,153.73 L382.65,152.94 L383.10,152.54 L383.64,152.04 L384.18,151.68 L384.73,151.69 L385.27,150.90 L385.80,150.93 L386.45,150.37 L387.10,150.19 L387.75,150.11 L388.40,150.27 L389.09,150.00 L389.80,149.49 L390.49,149.66 L391.10,149.42 L391.77,149.76 L392.34,149.35 L392.90,148.54 L393.09,148.14 L393.28,147.56 L393.47,147.15 L393.66,146.40 L393.84,145.32 L394.03,145.12 L394.22,144.16 L394.41,143.72 L394.60,142.95 L394.80,142.26 L395.00,141.64 L395.21,141.14 L395.42,140.49 L395.62,139.77 L395.83,139.75 L396.02,139.14 L396.22,138.66 L396.40,137.75 L396.53,137.13 L396.66,136.78 L396.78,135.78 L396.90,135.70 L397.02,134.99 L397.13,134.24 L397.24,133.69 L397.36,133.34 L397.47,132.49 L397.58,131.98 L397.69,131.37 L397.80,130.42 L397.87,129.70 L397.93,129.47 L398.00,128.72 L398.06,128.15 L398.12,127.53 L398.18,127.06 L398.25,126.21 L398.31,126.04 L398.37,125.64 L398.43,124.54 L398.49,124.15 L398.56,123.66 L398.62,122.29 L398.68,121.70 L398.75,121.57 L398.82,120.94 L398.88,120.12 L398.95,119.09 L399.03,118.66 L399.10,118.39 L399.18,117.78 L399.25,117.08 L399.33,115.95 L399.41,115.81 L399.49,114.77 L399.58,114.38 L399.66,113.25 L399.75,113.25 L399.83,112.29 L399.92,111.73 L400.01,110.67 L400.09,110.35 L400.18,109.69 L400.27,109.08 L400.36,108.29 L400.45,108.00 L400.54,107.13 L400.62,106.55 L400.71,105.93 L400.80,105.85 L400.96,104.51 L401.12,103.72 L401.28,102.73 L401.45,102.36 L401.61,101.51 L401.78,100.79 L401.94,99.77 L402.11,99.57 L402.27,99.11 L402.44,98.66 L402.60,98.50 L402.76,99.37 L402.93,98.88 L403.09,99.37 L403.25,99.80 L403.42,100.64 L403.58,100.89 L403.75,101.96 L403.91,102.71 L404.07,103.99 L404.24,104.29 L404.40,105.57 L404.47,106.15 L404.54,107.00 L404.61,107.13 L404.68,107.61 L404.75,108.29 L404.82,108.55 L404.88,108.90 L404.95,109.86 L405.02,110.78 L405.09,111.26 L405.16,111.49 L405.23,112.47 L405.30,113.24 L405.37,113.42 L405.44,114.34 L405.51,114.82 L405.58,115.39 L405.65,116.10 L405.72,116.70 L405.78,117.50 L405.85,117.92 L405.92,118.88 L405.99,119.30 L406.06,120.50 L406.13,121.03 L406.20,121.20 L406.26,122.41 L406.33,122.54 L406.39,123.37 L406.45,124.05 L406.52,124.49 L406.58,125.08 L406.64,125.83 L406.71,126.23 L406.77,127.45 L406.84,127.50 L406.90,128.71 L406.96,128.88 L407.03,129.59 L407.09,130.31 L407.16,130.67 L407.22,131.39 L407.28,132.21 L407.35,132.91 L407.41,133.89 L407.47,134.60 L407.53,134.46 L407.59,135.46 L407.65,135.74 L407.71,136.87 L407.77,137.06 L407.83,138.09 L407.89,138.37 L407.94,138.57 L408.00,139.00 L408.08,139.95 L408.16,141.19 L408.23,141.34 L408.31,142.32 L408.38,142.94 L408.46,143.62 L408.53,144.66 L408.60,144.86 L408.67,145.92 L408.74,146.51 L408.81,147.35 L408.87,147.63 L408.94,148.54 L409.01,148.72 L409.07,149.38 L409.14,149.96 L409.20,150.65 L409.27,151.19 L409.33,151.05 L409.40,151.54 L409.55,152.75 L409.70,153.70 L409.86,154.30 L410.01,154.88 L410.16,155.50 L410.30,155.99 L410.42,156.41 L410.52,156.78 L410.60,157.10 L410.60,157.10 Z" fill="#89a9c3" stroke="none"/>
<path d="M377.80,157.10 L378.15,156.88 L378.65,156.59 L379.23,156.23 L379.83,155.83 L380.40,155.40 L380.84,154.93 L381.29,154.60 L381.74,154.13 L382.20,153.73 L382.65,152.94 L383.10,152.54 L383.64,152.04 L384.18,151.68 L384.73,151.69 L385.27,150.90 L385.80,150.93 L386.45,150.37 L387.10,150.19 L387.75,150.11 L388.40,150.27 L389.09,150.00 L389.80,149.49 L390.49,149.66 L391.10,149.42 L391.77,149.76 L392.34,149.35 L392.90,148.54 L393.09,148.14 L393.28,147.56 L393.47,147.15 L393.66,146.40 L393.84,145.32 L394.03,145.12 L394.22,144.16 L394.41,143.72 L394.60,142.95 L394.80,142.26 L395.00,141.64 L395.21,141.14 L395.42,140.49 L395.62,139.77 L395.83,139.75 L396.02,139.14 L396.22,138.66 L396.40,137.75 L396.53,137.13 L396.66,136.78 L396.78,135.78 L396.90,135.70 L397.02,134.99 L397.13,134.24 L397.24,133.69 L397.36,133.34 L397.47,132.49 L397.58,131.98 L397.69,131.37 L397.80,130.42 L397.87,129.70 L397.93,129.47 L398.00,128.72 L398.06,128.15 L398.12,127.53 L398.18,127.06 L398.25,126.21 L398.31,126.04 L398.37,125.64 L398.43,124.54 L398.49,124.15 L398.56,123.66 L398.62,122.29 L398.68,121.70 L398.75,121.57 L398.82,120.94 L398.88,120.12 L398.95,119.09 L399.03,118.66 L399.10,118.39 L399.18,117.78 L399.25,117.08 L399.33,115.95 L399.41,115.81 L399.49,114.77 L399.58,114.38 L399.66,113.25 L399.75,113.25 L399.83,112.29 L399.92,111.73 L400.01,110.67 L400.09,110.35 L400.18,109.69 L400.27,109.08 L400.36,108.29 L400.45,108.00 L400.54,107.13 L400.62,106.55 L400.71,105.93 L400.80,105.85 L400.96,104.51 L401.12,103.72 L401.28,102.73 L401.45,102.36 L401.61,101.51 L401.78,100.79 L401.94,99.77 L402.11,99.57 L402.27,99.11 L402.44,98.66 L402.60,98.50 L402.76,99.37 L402.93,98.88 L403.09,99.37 L403.25,99.80 L403.42,100.64 L403.58,100.89 L403.75,101.96 L403.91,102.71 L404.07,103.99 L404.24,104.29 L404.40,105.57 L404.47,106.15 L404.54,107.00 L404.61,107.13 L404.68,107.61 L404.75,108.29 L404.82,108.55 L404.88,108.90 L404.95,109.86 L405.02,110.78 L405.09,111.26 L405.16,111.49 L405.23,112.47 L405.30,113.24 L405.37,113.42 L405.44,114.34 L405.51,114.82 L405.58,115.39 L405.65,116.10 L405.72,116.70 L405.78,117.50 L405.85,117.92 L405.92,118.88 L405.99,119.30 L406.06,120.50 L406.13,121.03 L406.20,121.20 L406.26,122.41 L406.33,122.54 L406.39,123.37 L406.45,124.05 L406.52,124.49 L406.58,125.08 L406.64,125.83 L406.71,126.23 L406.77,127.45 L406.84,127.50 L406.90,128.71 L406.96,128.88 L407.03,129.59 L407.09,130.31 L407.16,130.67 L407.22,131.39 L407.28,132.21 L407.35,132.91 L407.41,133.89 L407.47,134.60 L407.53,134.46 L407.59,135.46 L407.65,135.74 L407.71,136.87 L407.77,137.06 L407.83,138.09 L407.89,138.37 L407.94,138.57 L408.00,139.00 L408.08,139.95 L408.16,141.19 L408.23,141.34 L408.31,142.32 L408.38,142.94 L408.46,143.62 L408.53,144.66 L408.60,144.86 L408.67,145.92 L408.74,146.51 L408.81,147.35 L408.87,147.63 L408.94,148.54 L409.01,148.72 L409.07,149.38 L409.14,149.96 L409.20,150.65 L409.27,151.19 L409.33,151.05 L409.40,151.54 L409.55,152.75 L409.70,153.70 L409.86,154.30 L410.01,154.88 L410.16,155.50 L410.30,155.99 L410.42,156.41 L410.52,156.78 L410.60,157.10" fill="none" stroke="#2f6a9e" stroke-width="0.7" stroke-linejoin="round"/>
<line x1="392.30" y1="98.50" x2="392.30" y2="157.10" stroke="#333" stroke-width="0.8" />
<line x1="426.90" y1="98.50" x2="426.90" y2="157.10" stroke="#555" stroke-width="0.8" />
<line x1="392.30" y1="130.00" x2="426.90" y2="130.00" stroke="#333" stroke-width="0.8" />
<text x="417.20" y="127.90" font-size="5.0" text-anchor="middle" fill="#222" >88.2</text>
<line x1="367.50" y1="156.30" x2="370.40" y2="156.30" stroke="#333" stroke-width="0.7" />
<text x="366.10" y="158.10" font-size="5.0" text-anchor="end" fill="#1a1a1a" >0</text>
<line x1="367.50" y1="144.55" x2="370.40" y2="144.55" stroke="#333" stroke-width="0.7" />
<text x="366.10" y="146.35" font-size="5.0" text-anchor="end" fill="#1a1a1a" >250</text>
<line x1="367.50" y1="132.80" x2="370.40" y2="132.80" stroke="#333" stroke-width="0.7" />
<text x="366.10" y="134.60" font-size="5.0" text-anchor="end" fill="#1a1a1a" >500</text>
<line x1="367.50" y1="121.05" x2="370.40" y2="121.05" stroke="#333" stroke-width="0.7" />
<text x="366.10" y="122.85" font-size="5.0" text-anchor="end" fill="#1a1a1a" >750</text>
<line x1="367.50" y1="109.30" x2="370.40" y2="109.30" stroke="#333" stroke-width="0.7" />
<text x="366.10" y="111.10" font-size="5.0" text-anchor="end" fill="#1a1a1a" >1,000</text>
<line x1="368.40" y1="156.30" x2="370.40" y2="156.30" stroke="#333" stroke-width="0.55" />
<line x1="368.40" y1="153.95" x2="370.40" y2="153.95" stroke="#333" stroke-width="0.55" />
<line x1="368.40" y1="151.60" x2="370.40" y2="151.60" stroke="#333" stroke-width="0.55" />
<line x1="368.40" y1="149.25" x2="370.40" y2="149.25" stroke="#333" stroke-width="0.55" />
<line x1="368.40" y1="146.90" x2="370.40" y2="146.90" stroke="#333" stroke-width="0.55" />
<line x1="368.40" y1="144.55" x2="370.40" y2="144.55" stroke="#333" stroke-width="0.55" />
<line x1="368.40" y1="142.20" x2="370.40" y2="142.20" stroke="#333" stroke-width="0.55" />
<line x1="368.40" y1="139.85" x2="370.40" y2="139.85" stroke="#333" stroke-width="0.55" />
<line x1="368.40" y1="137.50" x2="370.40" y2="137.50" stroke="#333" stroke-width="0.55" />
<line x1="368.40" y1="135.15" x2="370.40" y2="135.15" stroke="#333" stroke-width="0.55" />
<line x1="368.40" y1="132.80" x2="370.40" y2="132.80" stroke="#333" stroke-width="0.55" />
<line x1="368.40" y1="130.45" x2="370.40" y2="130.45" stroke="#333" stroke-width="0.55" />
<line x1="368.40" y1="128.10" x2="370.40" y2="128.10" stroke="#333" stroke-width="0.55" />
<line x1="368.40" y1="125.75" x2="370.40" y2="125.75" stroke="#333" stroke-width="0.55" />
<line x1="368.40" y1="123.40" x2="370.40" y2="123.40" stroke="#333" stroke-width="0.55" />
<line x1="368.40" y1="121.05" x2="370.40" y2="121.05" stroke="#333" stroke-width="0.55" />
<line x1="368.40" y1="118.70" x2="370.40" y2="118.70" stroke="#333" stroke-width="0.55" />
<line x1="368.40" y1="116.35" x2="370.40" y2="116.35" stroke="#333" stroke-width="0.55" />
<line x1="368.40" y1="114.00" x2="370.40" y2="114.00" stroke="#333" stroke-width="0.55" />
<line x1="368.40" y1="111.65" x2="370.40" y2="111.65" stroke="#333" stroke-width="0.55" />
<line x1="368.40" y1="109.30" x2="370.40" y2="109.30" stroke="#333" stroke-width="0.55" />
<line x1="368.40" y1="106.95" x2="370.40" y2="106.95" stroke="#333" stroke-width="0.55" />
<line x1="368.40" y1="104.60" x2="370.40" y2="104.60" stroke="#333" stroke-width="0.55" />
<line x1="368.40" y1="102.25" x2="370.40" y2="102.25" stroke="#333" stroke-width="0.55" />
<line x1="368.40" y1="99.90" x2="370.40" y2="99.90" stroke="#333" stroke-width="0.55" />
<line x1="384.10" y1="157.10" x2="384.10" y2="159.50" stroke="#333" stroke-width="0.55" />
<line x1="388.37" y1="157.10" x2="388.37" y2="158.60" stroke="#333" stroke-width="0.55" />
<line x1="390.88" y1="157.10" x2="390.88" y2="158.60" stroke="#333" stroke-width="0.55" />
<line x1="392.65" y1="157.10" x2="392.65" y2="158.60" stroke="#333" stroke-width="0.55" />
<line x1="394.03" y1="157.10" x2="394.03" y2="158.60" stroke="#333" stroke-width="0.55" />
<line x1="395.15" y1="157.10" x2="395.15" y2="158.60" stroke="#333" stroke-width="0.55" />
<line x1="396.10" y1="157.10" x2="396.10" y2="158.60" stroke="#333" stroke-width="0.55" />
<line x1="396.92" y1="157.10" x2="396.92" y2="158.60" stroke="#333" stroke-width="0.55" />
<line x1="397.65" y1="157.10" x2="397.65" y2="158.60" stroke="#333" stroke-width="0.55" />
<line x1="398.30" y1="157.10" x2="398.30" y2="159.50" stroke="#333" stroke-width="0.55" />
<line x1="402.57" y1="157.10" x2="402.57" y2="158.60" stroke="#333" stroke-width="0.55" />
<line x1="405.08" y1="157.10" x2="405.08" y2="158.60" stroke="#333" stroke-width="0.55" />
<line x1="406.85" y1="157.10" x2="406.85" y2="158.60" stroke="#333" stroke-width="0.55" />
<line x1="408.23" y1="157.10" x2="408.23" y2="158.60" stroke="#333" stroke-width="0.55" />
<line x1="409.35" y1="157.10" x2="409.35" y2="158.60" stroke="#333" stroke-width="0.55" />
<line x1="410.30" y1="157.10" x2="410.30" y2="158.60" stroke="#333" stroke-width="0.55" />
<line x1="411.12" y1="157.10" x2="411.12" y2="158.60" stroke="#333" stroke-width="0.55" />
<line x1="411.85" y1="157.10" x2="411.85" y2="158.60" stroke="#333" stroke-width="0.55" />
<line x1="412.50" y1="157.10" x2="412.50" y2="159.50" stroke="#333" stroke-width="0.55" />
<line x1="416.77" y1="157.10" x2="416.77" y2="158.60" stroke="#333" stroke-width="0.55" />
<line x1="419.28" y1="157.10" x2="419.28" y2="158.60" stroke="#333" stroke-width="0.55" />
<line x1="421.05" y1="157.10" x2="421.05" y2="158.60" stroke="#333" stroke-width="0.55" />
<line x1="422.43" y1="157.10" x2="422.43" y2="158.60" stroke="#333" stroke-width="0.55" />
<line x1="423.55" y1="157.10" x2="423.55" y2="158.60" stroke="#333" stroke-width="0.55" />
<line x1="424.50" y1="157.10" x2="424.50" y2="158.60" stroke="#333" stroke-width="0.55" />
<line x1="425.32" y1="157.10" x2="425.32" y2="158.60" stroke="#333" stroke-width="0.55" />
<line x1="426.05" y1="157.10" x2="426.05" y2="158.60" stroke="#333" stroke-width="0.55" />
<line x1="426.70" y1="157.10" x2="426.70" y2="159.50" stroke="#333" stroke-width="0.55" />
<rect x="371.60" y="157.10" width="11.6" height="1.6" fill="#111"/>
<line x1="373.90" y1="157.10" x2="373.90" y2="159.40" stroke="#222" stroke-width="0.6" />
<line x1="377.40" y1="157.10" x2="377.40" y2="159.40" stroke="#222" stroke-width="0.6" />
<line x1="380.90" y1="157.10" x2="380.90" y2="159.40" stroke="#222" stroke-width="0.6" />
<text x="376.40" y="166.00" font-size="4.5" fill="#222">0</text>
<text x="380.20" y="166.00" font-size="4.5" fill="#222">10<tspan font-size="2.70" dy="-2.02">2</tspan></text>
<text x="395.60" y="166.00" font-size="4.5" fill="#222">10<tspan font-size="2.70" dy="-2.02">3</tspan></text>
<text x="409.80" y="166.00" font-size="4.5" fill="#222">10<tspan font-size="2.70" dy="-2.02">4</tspan></text>
<text x="423.90" y="166.00" font-size="4.5" fill="#222">10<tspan font-size="2.70" dy="-2.02">5</tspan></text>
<text x="373.40" y="170.40" font-size="4.5" text-anchor="end" fill="#222" >&#8722;139</text>
<rect x="370.40" y="98.50" width="62.50" height="58.60" fill="none" stroke="#333" stroke-width="0.9"/>
<line x1="370.40" y1="98.05" x2="370.40" y2="157.70" stroke="#111" stroke-width="1.3" />
<line x1="369.80" y1="157.10" x2="433.35" y2="157.10" stroke="#111" stroke-width="1.3" />
<path d="M458.80,157.10 L458.80,157.10 L459.15,156.82 L459.65,156.42 L460.23,155.96 L460.83,155.47 L461.40,154.89 L461.95,154.59 L462.52,154.07 L463.08,153.71 L463.62,152.92 L464.10,152.56 L464.74,152.51 L465.27,152.33 L465.90,152.07 L466.49,152.41 L467.14,152.41 L467.82,152.81 L468.50,152.48 L469.19,152.60 L469.90,153.07 L470.59,152.54 L471.20,151.63 L471.35,151.68 L471.49,151.17 L471.62,150.36 L471.75,150.22 L471.87,149.82 L471.99,148.88 L472.11,148.71 L472.22,147.68 L472.33,147.22 L472.44,146.35 L472.55,145.75 L472.66,145.64 L472.77,144.42 L472.88,144.11 L473.00,142.85 L473.07,142.50 L473.13,142.20 L473.20,141.52 L473.27,140.51 L473.34,140.33 L473.40,139.78 L473.47,138.82 L473.54,138.14 L473.60,138.15 L473.67,137.23 L473.74,136.33 L473.80,135.89 L473.87,135.06 L473.93,134.86 L474.00,133.97 L474.07,132.99 L474.13,132.91 L474.19,131.67 L474.26,131.17 L474.32,130.32 L474.39,130.25 L474.45,129.11 L474.51,128.82 L474.58,127.86 L474.64,127.57 L474.70,127.15 L474.77,126.37 L474.84,125.65 L474.91,125.02 L474.98,124.32 L475.04,123.79 L475.11,122.74 L475.18,122.39 L475.25,121.55 L475.32,121.41 L475.38,120.82 L475.45,119.49 L475.51,118.92 L475.58,118.74 L475.64,118.02 L475.71,116.96 L475.77,116.91 L475.84,116.50 L475.90,115.50 L475.96,114.87 L476.02,114.48 L476.08,114.22 L476.14,113.14 L476.20,112.64 L476.28,111.81 L476.36,111.43 L476.44,110.59 L476.52,109.72 L476.59,109.14 L476.67,108.19 L476.74,107.77 L476.81,107.67 L476.88,106.75 L476.96,105.91 L477.03,105.86 L477.10,104.85 L477.17,104.24 L477.25,103.56 L477.32,103.17 L477.40,102.76 L477.58,101.79 L477.76,101.36 L477.94,100.04 L478.13,99.32 L478.32,99.08 L478.51,99.01 L478.70,98.43 L478.85,98.93 L479.01,98.88 L479.17,99.43 L479.33,99.98 L479.49,100.88 L479.64,101.45 L479.80,102.07 L479.95,103.22 L480.10,103.79 L480.16,104.26 L480.23,105.20 L480.29,105.36 L480.35,106.06 L480.41,106.23 L480.47,107.26 L480.53,107.59 L480.58,107.89 L480.64,109.04 L480.70,109.29 L480.76,109.83 L480.82,110.42 L480.87,110.96 L480.93,111.72 L480.99,112.81 L481.05,113.07 L481.11,113.89 L481.17,114.77 L481.24,115.59 L481.30,116.20 L481.35,117.06 L481.39,117.18 L481.44,117.83 L481.48,118.45 L481.53,118.80 L481.57,119.47 L481.62,120.02 L481.67,121.10 L481.72,121.26 L481.76,122.31 L481.81,122.60 L481.86,123.58 L481.91,124.24 L481.96,124.64 L482.01,125.76 L482.05,126.19 L482.10,126.77 L482.15,127.01 L482.20,127.94 L482.25,128.48 L482.30,129.28 L482.35,130.28 L482.40,130.85 L482.45,130.83 L482.50,131.93 L482.55,132.73 L482.60,133.00 L482.65,133.22 L482.70,134.39 L482.76,134.74 L482.83,135.88 L482.89,136.49 L482.96,137.15 L483.02,137.92 L483.09,137.92 L483.16,139.18 L483.23,139.47 L483.29,140.00 L483.36,140.85 L483.43,141.67 L483.50,141.85 L483.56,142.83 L483.63,143.72 L483.70,144.09 L483.76,144.71 L483.83,145.09 L483.89,146.19 L483.96,146.15 L484.02,147.01 L484.08,147.48 L484.14,147.45 L484.20,148.70 L484.33,149.05 L484.46,150.50 L484.58,151.20 L484.70,151.83 L484.82,152.36 L484.93,152.60 L485.05,153.13 L485.16,153.55 L485.28,154.24 L485.40,154.34 L485.73,155.46 L486.07,156.19 L486.38,156.72 L486.60,157.10 L486.60,157.10 Z" fill="#89a9c3" stroke="none"/>
<path d="M458.80,157.10 L459.15,156.82 L459.65,156.42 L460.23,155.96 L460.83,155.47 L461.40,154.89 L461.95,154.59 L462.52,154.07 L463.08,153.71 L463.62,152.92 L464.10,152.56 L464.74,152.51 L465.27,152.33 L465.90,152.07 L466.49,152.41 L467.14,152.41 L467.82,152.81 L468.50,152.48 L469.19,152.60 L469.90,153.07 L470.59,152.54 L471.20,151.63 L471.35,151.68 L471.49,151.17 L471.62,150.36 L471.75,150.22 L471.87,149.82 L471.99,148.88 L472.11,148.71 L472.22,147.68 L472.33,147.22 L472.44,146.35 L472.55,145.75 L472.66,145.64 L472.77,144.42 L472.88,144.11 L473.00,142.85 L473.07,142.50 L473.13,142.20 L473.20,141.52 L473.27,140.51 L473.34,140.33 L473.40,139.78 L473.47,138.82 L473.54,138.14 L473.60,138.15 L473.67,137.23 L473.74,136.33 L473.80,135.89 L473.87,135.06 L473.93,134.86 L474.00,133.97 L474.07,132.99 L474.13,132.91 L474.19,131.67 L474.26,131.17 L474.32,130.32 L474.39,130.25 L474.45,129.11 L474.51,128.82 L474.58,127.86 L474.64,127.57 L474.70,127.15 L474.77,126.37 L474.84,125.65 L474.91,125.02 L474.98,124.32 L475.04,123.79 L475.11,122.74 L475.18,122.39 L475.25,121.55 L475.32,121.41 L475.38,120.82 L475.45,119.49 L475.51,118.92 L475.58,118.74 L475.64,118.02 L475.71,116.96 L475.77,116.91 L475.84,116.50 L475.90,115.50 L475.96,114.87 L476.02,114.48 L476.08,114.22 L476.14,113.14 L476.20,112.64 L476.28,111.81 L476.36,111.43 L476.44,110.59 L476.52,109.72 L476.59,109.14 L476.67,108.19 L476.74,107.77 L476.81,107.67 L476.88,106.75 L476.96,105.91 L477.03,105.86 L477.10,104.85 L477.17,104.24 L477.25,103.56 L477.32,103.17 L477.40,102.76 L477.58,101.79 L477.76,101.36 L477.94,100.04 L478.13,99.32 L478.32,99.08 L478.51,99.01 L478.70,98.43 L478.85,98.93 L479.01,98.88 L479.17,99.43 L479.33,99.98 L479.49,100.88 L479.64,101.45 L479.80,102.07 L479.95,103.22 L480.10,103.79 L480.16,104.26 L480.23,105.20 L480.29,105.36 L480.35,106.06 L480.41,106.23 L480.47,107.26 L480.53,107.59 L480.58,107.89 L480.64,109.04 L480.70,109.29 L480.76,109.83 L480.82,110.42 L480.87,110.96 L480.93,111.72 L480.99,112.81 L481.05,113.07 L481.11,113.89 L481.17,114.77 L481.24,115.59 L481.30,116.20 L481.35,117.06 L481.39,117.18 L481.44,117.83 L481.48,118.45 L481.53,118.80 L481.57,119.47 L481.62,120.02 L481.67,121.10 L481.72,121.26 L481.76,122.31 L481.81,122.60 L481.86,123.58 L481.91,124.24 L481.96,124.64 L482.01,125.76 L482.05,126.19 L482.10,126.77 L482.15,127.01 L482.20,127.94 L482.25,128.48 L482.30,129.28 L482.35,130.28 L482.40,130.85 L482.45,130.83 L482.50,131.93 L482.55,132.73 L482.60,133.00 L482.65,133.22 L482.70,134.39 L482.76,134.74 L482.83,135.88 L482.89,136.49 L482.96,137.15 L483.02,137.92 L483.09,137.92 L483.16,139.18 L483.23,139.47 L483.29,140.00 L483.36,140.85 L483.43,141.67 L483.50,141.85 L483.56,142.83 L483.63,143.72 L483.70,144.09 L483.76,144.71 L483.83,145.09 L483.89,146.19 L483.96,146.15 L484.02,147.01 L484.08,147.48 L484.14,147.45 L484.20,148.70 L484.33,149.05 L484.46,150.50 L484.58,151.20 L484.70,151.83 L484.82,152.36 L484.93,152.60 L485.05,153.13 L485.16,153.55 L485.28,154.24 L485.40,154.34 L485.73,155.46 L486.07,156.19 L486.38,156.72 L486.60,157.10" fill="none" stroke="#2f6a9e" stroke-width="0.7" stroke-linejoin="round"/>
<line x1="471.25" y1="98.50" x2="471.25" y2="157.10" stroke="#333" stroke-width="0.8" />
<line x1="503.40" y1="98.50" x2="503.40" y2="157.10" stroke="#555" stroke-width="0.8" />
<line x1="471.25" y1="146.50" x2="503.40" y2="146.50" stroke="#333" stroke-width="0.8" />
<text x="492.30" y="143.50" font-size="5.0" text-anchor="middle" fill="#222" >89.5</text>
<line x1="448.40" y1="156.00" x2="451.30" y2="156.00" stroke="#333" stroke-width="0.7" />
<text x="447.00" y="157.80" font-size="5.0" text-anchor="end" fill="#1a1a1a" >0</text>
<line x1="448.40" y1="141.75" x2="451.30" y2="141.75" stroke="#333" stroke-width="0.7" />
<text x="447.00" y="143.55" font-size="5.0" text-anchor="end" fill="#1a1a1a" >250</text>
<line x1="448.40" y1="127.50" x2="451.30" y2="127.50" stroke="#333" stroke-width="0.7" />
<text x="447.00" y="129.30" font-size="5.0" text-anchor="end" fill="#1a1a1a" >500</text>
<line x1="448.40" y1="113.25" x2="451.30" y2="113.25" stroke="#333" stroke-width="0.7" />
<text x="447.00" y="115.05" font-size="5.0" text-anchor="end" fill="#1a1a1a" >750</text>
<line x1="448.40" y1="99.00" x2="451.30" y2="99.00" stroke="#333" stroke-width="0.7" />
<text x="447.00" y="100.80" font-size="5.0" text-anchor="end" fill="#1a1a1a" >1,000</text>
<line x1="449.30" y1="156.00" x2="451.30" y2="156.00" stroke="#333" stroke-width="0.55" />
<line x1="449.30" y1="153.15" x2="451.30" y2="153.15" stroke="#333" stroke-width="0.55" />
<line x1="449.30" y1="150.30" x2="451.30" y2="150.30" stroke="#333" stroke-width="0.55" />
<line x1="449.30" y1="147.45" x2="451.30" y2="147.45" stroke="#333" stroke-width="0.55" />
<line x1="449.30" y1="144.60" x2="451.30" y2="144.60" stroke="#333" stroke-width="0.55" />
<line x1="449.30" y1="141.75" x2="451.30" y2="141.75" stroke="#333" stroke-width="0.55" />
<line x1="449.30" y1="138.90" x2="451.30" y2="138.90" stroke="#333" stroke-width="0.55" />
<line x1="449.30" y1="136.05" x2="451.30" y2="136.05" stroke="#333" stroke-width="0.55" />
<line x1="449.30" y1="133.20" x2="451.30" y2="133.20" stroke="#333" stroke-width="0.55" />
<line x1="449.30" y1="130.35" x2="451.30" y2="130.35" stroke="#333" stroke-width="0.55" />
<line x1="449.30" y1="127.50" x2="451.30" y2="127.50" stroke="#333" stroke-width="0.55" />
<line x1="449.30" y1="124.65" x2="451.30" y2="124.65" stroke="#333" stroke-width="0.55" />
<line x1="449.30" y1="121.80" x2="451.30" y2="121.80" stroke="#333" stroke-width="0.55" />
<line x1="449.30" y1="118.95" x2="451.30" y2="118.95" stroke="#333" stroke-width="0.55" />
<line x1="449.30" y1="116.10" x2="451.30" y2="116.10" stroke="#333" stroke-width="0.55" />
<line x1="449.30" y1="113.25" x2="451.30" y2="113.25" stroke="#333" stroke-width="0.55" />
<line x1="449.30" y1="110.40" x2="451.30" y2="110.40" stroke="#333" stroke-width="0.55" />
<line x1="449.30" y1="107.55" x2="451.30" y2="107.55" stroke="#333" stroke-width="0.55" />
<line x1="449.30" y1="104.70" x2="451.30" y2="104.70" stroke="#333" stroke-width="0.55" />
<line x1="449.30" y1="101.85" x2="451.30" y2="101.85" stroke="#333" stroke-width="0.55" />
<line x1="449.30" y1="99.00" x2="451.30" y2="99.00" stroke="#333" stroke-width="0.55" />
<line x1="465.00" y1="157.10" x2="465.00" y2="159.50" stroke="#333" stroke-width="0.55" />
<line x1="469.27" y1="157.10" x2="469.27" y2="158.60" stroke="#333" stroke-width="0.55" />
<line x1="471.78" y1="157.10" x2="471.78" y2="158.60" stroke="#333" stroke-width="0.55" />
<line x1="473.55" y1="157.10" x2="473.55" y2="158.60" stroke="#333" stroke-width="0.55" />
<line x1="474.93" y1="157.10" x2="474.93" y2="158.60" stroke="#333" stroke-width="0.55" />
<line x1="476.05" y1="157.10" x2="476.05" y2="158.60" stroke="#333" stroke-width="0.55" />
<line x1="477.00" y1="157.10" x2="477.00" y2="158.60" stroke="#333" stroke-width="0.55" />
<line x1="477.82" y1="157.10" x2="477.82" y2="158.60" stroke="#333" stroke-width="0.55" />
<line x1="478.55" y1="157.10" x2="478.55" y2="158.60" stroke="#333" stroke-width="0.55" />
<line x1="479.20" y1="157.10" x2="479.20" y2="159.50" stroke="#333" stroke-width="0.55" />
<line x1="483.47" y1="157.10" x2="483.47" y2="158.60" stroke="#333" stroke-width="0.55" />
<line x1="485.98" y1="157.10" x2="485.98" y2="158.60" stroke="#333" stroke-width="0.55" />
<line x1="487.75" y1="157.10" x2="487.75" y2="158.60" stroke="#333" stroke-width="0.55" />
<line x1="489.13" y1="157.10" x2="489.13" y2="158.60" stroke="#333" stroke-width="0.55" />
<line x1="490.25" y1="157.10" x2="490.25" y2="158.60" stroke="#333" stroke-width="0.55" />
<line x1="491.20" y1="157.10" x2="491.20" y2="158.60" stroke="#333" stroke-width="0.55" />
<line x1="492.02" y1="157.10" x2="492.02" y2="158.60" stroke="#333" stroke-width="0.55" />
<line x1="492.75" y1="157.10" x2="492.75" y2="158.60" stroke="#333" stroke-width="0.55" />
<line x1="493.40" y1="157.10" x2="493.40" y2="159.50" stroke="#333" stroke-width="0.55" />
<line x1="497.67" y1="157.10" x2="497.67" y2="158.60" stroke="#333" stroke-width="0.55" />
<line x1="500.18" y1="157.10" x2="500.18" y2="158.60" stroke="#333" stroke-width="0.55" />
<line x1="501.95" y1="157.10" x2="501.95" y2="158.60" stroke="#333" stroke-width="0.55" />
<line x1="503.33" y1="157.10" x2="503.33" y2="158.60" stroke="#333" stroke-width="0.55" />
<line x1="504.45" y1="157.10" x2="504.45" y2="158.60" stroke="#333" stroke-width="0.55" />
<line x1="505.40" y1="157.10" x2="505.40" y2="158.60" stroke="#333" stroke-width="0.55" />
<line x1="506.22" y1="157.10" x2="506.22" y2="158.60" stroke="#333" stroke-width="0.55" />
<line x1="506.95" y1="157.10" x2="506.95" y2="158.60" stroke="#333" stroke-width="0.55" />
<line x1="507.60" y1="157.10" x2="507.60" y2="159.50" stroke="#333" stroke-width="0.55" />
<rect x="452.50" y="157.10" width="11.6" height="1.6" fill="#111"/>
<line x1="454.80" y1="157.10" x2="454.80" y2="159.40" stroke="#222" stroke-width="0.6" />
<line x1="458.30" y1="157.10" x2="458.30" y2="159.40" stroke="#222" stroke-width="0.6" />
<line x1="461.80" y1="157.10" x2="461.80" y2="159.40" stroke="#222" stroke-width="0.6" />
<text x="457.30" y="166.00" font-size="4.5" fill="#222">0</text>
<text x="461.10" y="166.00" font-size="4.5" fill="#222">10<tspan font-size="2.70" dy="-2.02">2</tspan></text>
<text x="476.50" y="166.00" font-size="4.5" fill="#222">10<tspan font-size="2.70" dy="-2.02">3</tspan></text>
<text x="490.70" y="166.00" font-size="4.5" fill="#222">10<tspan font-size="2.70" dy="-2.02">4</tspan></text>
<text x="504.80" y="166.00" font-size="4.5" fill="#222">10<tspan font-size="2.70" dy="-2.02">5</tspan></text>
<text x="454.30" y="170.40" font-size="4.5" text-anchor="end" fill="#222" >&#8722;129</text>
<rect x="451.30" y="98.50" width="62.50" height="58.60" fill="none" stroke="#333" stroke-width="0.9"/>
<line x1="451.30" y1="98.05" x2="451.30" y2="157.70" stroke="#111" stroke-width="1.3" />
<line x1="450.70" y1="157.10" x2="514.25" y2="157.10" stroke="#111" stroke-width="1.3" />
<text transform="translate(163.35,180.0) scale(1.0,1)" font-size="8.6" text-anchor="middle" font-weight="bold" fill="#111">CD38</text>
<text transform="translate(241.10,180.0) scale(0.89,1)" font-size="8.6" text-anchor="middle" font-weight="bold" fill="#111">HLA-DR</text>
<text transform="translate(321.45,180.0) scale(1.0,1)" font-size="8.6" text-anchor="middle" font-weight="bold" fill="#111">CD25</text>
<text transform="translate(401.65,180.0) scale(0.87,1)" font-size="8.6" text-anchor="middle" font-weight="bold" fill="#111">PD1</text>
<text transform="translate(482.55,180.0) scale(1.0,1)" font-size="8.6" text-anchor="middle" font-weight="bold" fill="#111">CD95</text>
<defs><filter id="bl" x="-5%" y="-5%" width="110%" height="110%"><feGaussianBlur stdDeviation="0.3"/></filter></defs>
<path d="M37.7,84.5h0.75v0.75h-0.75zM46.8,89.8h0.75v0.75h-0.75zM41.1,81.6h0.75v0.75h-0.75zM52.0,85.7h0.75v0.75h-0.75zM38.6,91.0h0.75v0.75h-0.75zM37.3,88.8h0.75v0.75h-0.75zM50.9,83.8h0.75v0.75h-0.75zM35.9,87.9h0.75v0.75h-0.75zM47.5,90.4h0.75v0.75h-0.75zM51.2,83.0h0.75v0.75h-0.75zM44.3,80.9h0.75v0.75h-0.75zM49.6,88.1h0.75v0.75h-0.75zM49.7,82.0h0.75v0.75h-0.75zM50.5,86.1h0.75v0.75h-0.75zM46.4,79.9h0.75v0.75h-0.75zM40.8,81.6h0.75v0.75h-0.75zM36.3,88.1h0.75v0.75h-0.75zM37.0,87.4h0.75v0.75h-0.75zM45.5,79.9h0.75v0.75h-0.75zM36.1,86.7h0.75v0.75h-0.75zM39.9,82.5h0.75v0.75h-0.75zM44.1,90.9h0.75v0.75h-0.75zM50.4,85.5h0.75v0.75h-0.75zM44.6,91.0h0.75v0.75h-0.75zM37.7,84.6h0.75v0.75h-0.75zM47.6,89.7h0.75v0.75h-0.75zM45.2,91.3h0.75v0.75h-0.75zM37.2,85.5h0.75v0.75h-0.75zM48.6,88.4h0.75v0.75h-0.75zM40.2,91.4h0.75v0.75h-0.75zM50.8,82.6h0.75v0.75h-0.75zM39.0,82.9h0.75v0.75h-0.75zM45.8,80.9h0.75v0.75h-0.75zM51.1,83.9h0.75v0.75h-0.75zM43.0,91.1h0.75v0.75h-0.75zM49.7,81.5h0.75v0.75h-0.75zM47.3,80.7h0.75v0.75h-0.75zM39.2,91.8h0.75v0.75h-0.75zM48.8,80.9h0.75v0.75h-0.75zM45.9,90.3h0.75v0.75h-0.75zM37.1,87.1h0.75v0.75h-0.75zM48.6,80.3h0.75v0.75h-0.75zM39.4,91.3h0.75v0.75h-0.75zM34.2,89.9h0.75v0.75h-0.75zM50.6,85.9h0.75v0.75h-0.75zM37.9,85.0h0.75v0.75h-0.75zM43.7,81.0h0.75v0.75h-0.75zM40.3,91.1h0.75v0.75h-0.75zM52.5,82.0h0.75v0.75h-0.75zM46.7,80.6h0.75v0.75h-0.75zM50.6,83.4h0.75v0.75h-0.75zM35.8,88.2h0.75v0.75h-0.75zM45.1,90.7h0.75v0.75h-0.75zM38.4,90.5h0.75v0.75h-0.75zM36.7,91.0h0.75v0.75h-0.75zM45.3,90.8h0.75v0.75h-0.75zM36.6,89.2h0.75v0.75h-0.75zM47.7,79.6h0.75v0.75h-0.75zM43.7,91.5h0.75v0.75h-0.75zM49.8,88.1h0.75v0.75h-0.75zM42.1,80.6h0.75v0.75h-0.75zM36.8,88.1h0.75v0.75h-0.75zM50.3,83.2h0.75v0.75h-0.75zM48.9,81.5h0.75v0.75h-0.75zM47.4,80.8h0.75v0.75h-0.75zM51.2,84.7h0.75v0.75h-0.75zM47.3,80.8h0.75v0.75h-0.75zM37.5,89.3h0.75v0.75h-0.75zM50.5,85.2h0.75v0.75h-0.75zM51.0,87.3h0.75v0.75h-0.75zM37.2,89.9h0.75v0.75h-0.75zM47.0,80.9h0.75v0.75h-0.75zM38.8,90.7h0.75v0.75h-0.75zM40.7,81.6h0.75v0.75h-0.75zM48.2,89.7h0.75v0.75h-0.75zM36.3,83.6h0.75v0.75h-0.75zM38.3,90.6h0.75v0.75h-0.75zM46.7,89.8h0.75v0.75h-0.75zM41.9,91.5h0.75v0.75h-0.75zM47.0,89.8h0.75v0.75h-0.75zM50.9,85.2h0.75v0.75h-0.75zM48.4,81.0h0.75v0.75h-0.75zM46.7,80.5h0.75v0.75h-0.75zM38.9,83.6h0.75v0.75h-0.75zM47.8,90.3h0.75v0.75h-0.75zM35.7,87.0h0.75v0.75h-0.75zM37.5,89.7h0.75v0.75h-0.75zM48.9,89.6h0.75v0.75h-0.75zM51.0,86.1h0.75v0.75h-0.75zM37.6,89.9h0.75v0.75h-0.75zM40.6,81.5h0.75v0.75h-0.75zM52.4,86.2h0.75v0.75h-0.75zM39.1,91.5h0.75v0.75h-0.75zM46.2,91.2h0.75v0.75h-0.75zM48.5,89.3h0.75v0.75h-0.75zM44.6,90.9h0.75v0.75h-0.75zM46.0,90.8h0.75v0.75h-0.75zM46.7,80.6h0.75v0.75h-0.75zM33.8,88.1h0.75v0.75h-0.75zM45.8,80.1h0.75v0.75h-0.75zM51.2,81.5h0.75v0.75h-0.75zM49.2,88.5h0.75v0.75h-0.75zM37.4,89.3h0.75v0.75h-0.75zM51.4,84.7h0.75v0.75h-0.75zM40.1,91.5h0.75v0.75h-0.75zM43.4,81.3h0.75v0.75h-0.75zM36.5,91.2h0.75v0.75h-0.75zM51.2,82.6h0.75v0.75h-0.75zM37.1,87.3h0.75v0.75h-0.75zM43.8,91.3h0.75v0.75h-0.75zM50.6,81.9h0.75v0.75h-0.75zM41.7,81.5h0.75v0.75h-0.75zM51.4,84.7h0.75v0.75h-0.75zM46.4,80.5h0.75v0.75h-0.75zM49.2,88.1h0.75v0.75h-0.75zM48.1,88.8h0.75v0.75h-0.75zM37.2,86.0h0.75v0.75h-0.75zM50.3,86.9h0.75v0.75h-0.75zM47.6,81.1h0.75v0.75h-0.75zM36.8,85.1h0.75v0.75h-0.75zM38.5,91.2h0.75v0.75h-0.75zM49.4,81.4h0.75v0.75h-0.75zM47.5,89.3h0.75v0.75h-0.75zM39.5,91.3h0.75v0.75h-0.75zM39.0,83.6h0.75v0.75h-0.75zM41.8,81.3h0.75v0.75h-0.75zM53.6,85.0h0.75v0.75h-0.75zM51.0,82.7h0.75v0.75h-0.75zM50.6,85.3h0.75v0.75h-0.75zM49.5,81.3h0.75v0.75h-0.75zM47.6,80.6h0.75v0.75h-0.75zM49.4,88.2h0.75v0.75h-0.75zM45.5,80.7h0.75v0.75h-0.75zM51.2,82.3h0.75v0.75h-0.75zM37.3,83.7h0.75v0.75h-0.75zM43.7,91.0h0.75v0.75h-0.75zM38.6,83.8h0.75v0.75h-0.75zM50.0,86.7h0.75v0.75h-0.75zM50.6,86.5h0.75v0.75h-0.75zM37.4,85.7h0.75v0.75h-0.75zM40.5,82.3h0.75v0.75h-0.75zM45.4,91.3h0.75v0.75h-0.75zM36.2,89.9h0.75v0.75h-0.75zM51.2,85.9h0.75v0.75h-0.75zM39.0,90.5h0.75v0.75h-0.75zM42.8,81.4h0.75v0.75h-0.75zM38.1,84.7h0.75v0.75h-0.75zM35.6,87.7h0.75v0.75h-0.75zM38.6,90.7h0.75v0.75h-0.75zM47.3,81.1h0.75v0.75h-0.75zM49.1,80.1h0.75v0.75h-0.75zM36.9,86.5h0.75v0.75h-0.75zM49.6,87.8h0.75v0.75h-0.75zM48.2,80.8h0.75v0.75h-0.75zM43.9,80.3h0.75v0.75h-0.75zM48.0,90.2h0.75v0.75h-0.75zM46.1,91.0h0.75v0.75h-0.75zM47.9,80.4h0.75v0.75h-0.75zM39.3,91.0h0.75v0.75h-0.75zM49.1,81.4h0.75v0.75h-0.75zM47.4,79.7h0.75v0.75h-0.75zM47.4,80.9h0.75v0.75h-0.75zM50.5,83.8h0.75v0.75h-0.75zM49.5,81.1h0.75v0.75h-0.75zM44.2,80.3h0.75v0.75h-0.75zM45.2,91.4h0.75v0.75h-0.75zM43.4,80.2h0.75v0.75h-0.75zM46.9,80.1h0.75v0.75h-0.75zM47.0,89.9h0.75v0.75h-0.75zM43.4,91.6h0.75v0.75h-0.75zM43.8,81.2h0.75v0.75h-0.75zM47.9,89.1h0.75v0.75h-0.75zM42.1,92.3h0.75v0.75h-0.75zM44.7,92.0h0.75v0.75h-0.75zM36.6,84.1h0.75v0.75h-0.75zM35.6,88.3h0.75v0.75h-0.75zM50.5,80.7h0.75v0.75h-0.75zM49.4,89.2h0.75v0.75h-0.75zM49.6,82.3h0.75v0.75h-0.75zM38.4,90.6h0.75v0.75h-0.75zM40.9,82.0h0.75v0.75h-0.75zM36.2,89.0h0.75v0.75h-0.75zM39.9,91.4h0.75v0.75h-0.75zM40.2,82.5h0.75v0.75h-0.75zM51.2,82.8h0.75v0.75h-0.75zM40.5,82.2h0.75v0.75h-0.75zM41.5,81.7h0.75v0.75h-0.75zM51.2,85.2h0.75v0.75h-0.75zM38.7,83.8h0.75v0.75h-0.75zM46.2,80.4h0.75v0.75h-0.75zM40.7,82.3h0.75v0.75h-0.75zM39.0,91.2h0.75v0.75h-0.75zM39.6,90.9h0.75v0.75h-0.75zM38.8,90.9h0.75v0.75h-0.75zM49.8,81.3h0.75v0.75h-0.75zM36.2,85.2h0.75v0.75h-0.75zM43.6,90.9h0.75v0.75h-0.75zM44.2,90.8h0.75v0.75h-0.75zM38.0,91.2h0.75v0.75h-0.75zM37.4,90.1h0.75v0.75h-0.75zM38.3,90.3h0.75v0.75h-0.75zM48.6,80.5h0.75v0.75h-0.75zM43.9,81.1h0.75v0.75h-0.75zM36.9,88.6h0.75v0.75h-0.75zM37.4,84.7h0.75v0.75h-0.75zM41.6,80.9h0.75v0.75h-0.75zM39.1,83.6h0.75v0.75h-0.75zM51.0,83.7h0.75v0.75h-0.75zM46.5,91.2h0.75v0.75h-0.75zM50.7,85.3h0.75v0.75h-0.75zM39.0,90.9h0.75v0.75h-0.75zM39.7,82.8h0.75v0.75h-0.75zM37.5,89.0h0.75v0.75h-0.75zM51.6,82.8h0.75v0.75h-0.75zM42.0,81.8h0.75v0.75h-0.75zM38.7,90.8h0.75v0.75h-0.75zM49.1,88.9h0.75v0.75h-0.75zM50.8,84.6h0.75v0.75h-0.75zM45.9,90.6h0.75v0.75h-0.75zM44.1,80.5h0.75v0.75h-0.75zM38.1,83.4h0.75v0.75h-0.75zM49.4,82.0h0.75v0.75h-0.75zM48.3,80.3h0.75v0.75h-0.75zM36.4,89.1h0.75v0.75h-0.75zM45.7,79.5h0.75v0.75h-0.75zM41.5,81.6h0.75v0.75h-0.75zM37.8,89.5h0.75v0.75h-0.75zM37.7,84.5h0.75v0.75h-0.75zM42.4,80.7h0.75v0.75h-0.75zM44.7,90.7h0.75v0.75h-0.75zM50.5,85.5h0.75v0.75h-0.75zM42.7,91.6h0.75v0.75h-0.75zM36.7,87.8h0.75v0.75h-0.75zM39.6,82.8h0.75v0.75h-0.75zM39.8,82.3h0.75v0.75h-0.75zM36.8,87.8h0.75v0.75h-0.75zM39.1,90.8h0.75v0.75h-0.75zM48.7,80.6h0.75v0.75h-0.75zM36.8,86.4h0.75v0.75h-0.75zM42.3,80.4h0.75v0.75h-0.75zM40.0,91.6h0.75v0.75h-0.75zM42.1,81.7h0.75v0.75h-0.75zM46.5,80.3h0.75v0.75h-0.75zM41.8,81.7h0.75v0.75h-0.75zM36.6,87.7h0.75v0.75h-0.75zM47.1,89.8h0.75v0.75h-0.75zM38.0,90.8h0.75v0.75h-0.75zM39.3,83.4h0.75v0.75h-0.75zM39.3,91.1h0.75v0.75h-0.75zM50.4,87.2h0.75v0.75h-0.75zM37.1,85.0h0.75v0.75h-0.75zM37.1,87.0h0.75v0.75h-0.75zM50.8,83.8h0.75v0.75h-0.75zM37.7,90.0h0.75v0.75h-0.75zM51.0,84.5h0.75v0.75h-0.75zM42.4,91.4h0.75v0.75h-0.75zM42.2,80.9h0.75v0.75h-0.75zM45.6,80.2h0.75v0.75h-0.75zM45.7,90.4h0.75v0.75h-0.75zM37.1,87.8h0.75v0.75h-0.75zM51.0,82.8h0.75v0.75h-0.75zM43.1,80.6h0.75v0.75h-0.75zM38.6,84.2h0.75v0.75h-0.75zM48.9,90.2h0.75v0.75h-0.75zM50.7,83.6h0.75v0.75h-0.75zM38.8,83.6h0.75v0.75h-0.75zM36.9,87.0h0.75v0.75h-0.75zM42.4,80.6h0.75v0.75h-0.75zM49.5,88.7h0.75v0.75h-0.75zM50.7,86.7h0.75v0.75h-0.75zM44.9,80.7h0.75v0.75h-0.75zM50.5,83.9h0.75v0.75h-0.75zM43.0,91.8h0.75v0.75h-0.75zM38.6,92.4h0.75v0.75h-0.75zM40.0,81.9h0.75v0.75h-0.75zM37.5,84.9h0.75v0.75h-0.75zM50.3,86.3h0.75v0.75h-0.75zM35.9,85.8h0.75v0.75h-0.75zM51.2,87.1h0.75v0.75h-0.75zM41.6,91.2h0.75v0.75h-0.75zM38.3,90.9h0.75v0.75h-0.75zM41.7,91.7h0.75v0.75h-0.75zM46.1,80.8h0.75v0.75h-0.75zM49.9,82.0h0.75v0.75h-0.75zM37.6,84.6h0.75v0.75h-0.75zM37.7,91.1h0.75v0.75h-0.75zM41.0,81.7h0.75v0.75h-0.75zM44.4,81.0h0.75v0.75h-0.75zM36.2,88.1h0.75v0.75h-0.75zM41.2,82.1h0.75v0.75h-0.75zM45.1,91.2h0.75v0.75h-0.75zM51.6,85.7h0.75v0.75h-0.75zM47.3,81.1h0.75v0.75h-0.75zM36.8,85.5h0.75v0.75h-0.75zM39.6,92.3h0.75v0.75h-0.75zM48.4,88.8h0.75v0.75h-0.75zM47.3,89.6h0.75v0.75h-0.75zM47.6,80.5h0.75v0.75h-0.75zM40.1,82.9h0.75v0.75h-0.75zM49.4,81.9h0.75v0.75h-0.75zM50.5,85.7h0.75v0.75h-0.75zM42.0,81.0h0.75v0.75h-0.75zM39.4,82.9h0.75v0.75h-0.75zM43.7,80.6h0.75v0.75h-0.75zM50.4,86.0h0.75v0.75h-0.75zM43.3,92.0h0.75v0.75h-0.75zM36.2,86.5h0.75v0.75h-0.75zM38.8,90.6h0.75v0.75h-0.75zM41.6,81.5h0.75v0.75h-0.75zM45.0,91.4h0.75v0.75h-0.75zM45.8,90.5h0.75v0.75h-0.75zM50.2,86.9h0.75v0.75h-0.75zM37.1,87.9h0.75v0.75h-0.75zM47.3,89.9h0.75v0.75h-0.75zM37.3,89.5h0.75v0.75h-0.75zM34.7,89.0h0.75v0.75h-0.75zM44.4,91.1h0.75v0.75h-0.75zM46.7,90.0h0.75v0.75h-0.75zM49.0,89.0h0.75v0.75h-0.75zM44.7,90.7h0.75v0.75h-0.75zM51.1,81.8h0.75v0.75h-0.75zM50.1,87.1h0.75v0.75h-0.75zM47.6,79.6h0.75v0.75h-0.75zM37.2,86.7h0.75v0.75h-0.75zM37.4,89.9h0.75v0.75h-0.75zM50.7,84.6h0.75v0.75h-0.75zM50.5,80.8h0.75v0.75h-0.75zM39.6,91.0h0.75v0.75h-0.75zM50.6,85.4h0.75v0.75h-0.75zM49.3,87.8h0.75v0.75h-0.75zM36.2,87.2h0.75v0.75h-0.75zM52.3,87.1h0.75v0.75h-0.75zM42.3,80.7h0.75v0.75h-0.75zM47.1,90.3h0.75v0.75h-0.75zM36.3,88.6h0.75v0.75h-0.75zM46.6,80.7h0.75v0.75h-0.75zM50.5,82.7h0.75v0.75h-0.75zM36.6,85.5h0.75v0.75h-0.75zM41.4,81.6h0.75v0.75h-0.75zM47.3,89.5h0.75v0.75h-0.75zM38.6,83.9h0.75v0.75h-0.75zM50.8,85.4h0.75v0.75h-0.75zM51.4,82.8h0.75v0.75h-0.75zM44.0,91.1h0.75v0.75h-0.75zM46.6,90.1h0.75v0.75h-0.75zM37.1,90.8h0.75v0.75h-0.75zM38.7,82.6h0.75v0.75h-0.75zM37.3,85.0h0.75v0.75h-0.75zM38.2,83.7h0.75v0.75h-0.75zM36.8,87.7h0.75v0.75h-0.75zM37.3,84.0h0.75v0.75h-0.75zM51.3,85.2h0.75v0.75h-0.75zM49.1,88.4h0.75v0.75h-0.75zM35.8,87.0h0.75v0.75h-0.75zM44.2,91.5h0.75v0.75h-0.75zM39.5,82.5h0.75v0.75h-0.75zM50.0,81.2h0.75v0.75h-0.75zM50.3,85.6h0.75v0.75h-0.75zM51.2,84.1h0.75v0.75h-0.75zM45.8,90.5h0.75v0.75h-0.75zM51.9,85.9h0.75v0.75h-0.75zM36.9,86.7h0.75v0.75h-0.75zM50.5,81.2h0.75v0.75h-0.75zM44.9,90.6h0.75v0.75h-0.75zM50.5,84.3h0.75v0.75h-0.75zM37.8,84.0h0.75v0.75h-0.75zM48.8,81.1h0.75v0.75h-0.75zM37.2,84.6h0.75v0.75h-0.75zM36.9,89.4h0.75v0.75h-0.75zM42.1,91.4h0.75v0.75h-0.75zM38.7,83.5h0.75v0.75h-0.75zM39.5,82.8h0.75v0.75h-0.75zM44.2,91.9h0.75v0.75h-0.75zM36.6,87.6h0.75v0.75h-0.75zM37.9,90.1h0.75v0.75h-0.75zM50.4,82.0h0.75v0.75h-0.75zM37.9,92.7h0.75v0.75h-0.75zM38.6,84.0h0.75v0.75h-0.75zM36.7,87.8h0.75v0.75h-0.75zM41.0,91.3h0.75v0.75h-0.75zM55.2,81.9h0.75v0.75h-0.75zM49.8,82.5h0.75v0.75h-0.75zM53.2,82.8h0.75v0.75h-0.75zM57.5,83.0h0.75v0.75h-0.75zM50.1,82.9h0.75v0.75h-0.75zM52.0,83.3h0.75v0.75h-0.75zM54.5,85.3h0.75v0.75h-0.75zM53.7,81.9h0.75v0.75h-0.75zM52.9,80.1h0.75v0.75h-0.75zM51.0,83.0h0.75v0.75h-0.75zM56.0,83.5h0.75v0.75h-0.75zM56.8,86.0h0.75v0.75h-0.75zM53.9,82.8h0.75v0.75h-0.75zM56.5,84.7h0.75v0.75h-0.75zM55.4,83.5h0.75v0.75h-0.75zM50.3,83.2h0.75v0.75h-0.75zM53.6,83.1h0.75v0.75h-0.75zM52.8,85.5h0.75v0.75h-0.75zM54.6,86.0h0.75v0.75h-0.75zM50.0,81.3h0.75v0.75h-0.75zM55.7,84.9h0.75v0.75h-0.75zM57.4,83.4h0.75v0.75h-0.75zM49.0,83.4h0.75v0.75h-0.75zM57.6,82.5h0.75v0.75h-0.75zM53.0,84.1h0.75v0.75h-0.75zM52.9,82.8h0.75v0.75h-0.75zM54.2,83.3h0.75v0.75h-0.75zM54.7,81.4h0.75v0.75h-0.75zM57.3,82.5h0.75v0.75h-0.75zM52.1,81.2h0.75v0.75h-0.75zM57.3,83.7h0.75v0.75h-0.75zM57.1,81.3h0.75v0.75h-0.75zM55.7,83.8h0.75v0.75h-0.75zM55.5,82.5h0.75v0.75h-0.75zM55.7,83.3h0.75v0.75h-0.75zM56.2,84.9h0.75v0.75h-0.75zM50.0,83.1h0.75v0.75h-0.75zM56.5,84.1h0.75v0.75h-0.75zM56.7,82.9h0.75v0.75h-0.75zM57.9,84.8h0.75v0.75h-0.75zM51.8,83.7h0.75v0.75h-0.75zM57.3,82.4h0.75v0.75h-0.75zM50.4,83.9h0.75v0.75h-0.75zM54.2,82.4h0.75v0.75h-0.75zM52.0,82.7h0.75v0.75h-0.75zM52.4,83.6h0.75v0.75h-0.75zM52.5,81.6h0.75v0.75h-0.75zM53.2,83.2h0.75v0.75h-0.75zM51.0,82.6h0.75v0.75h-0.75zM56.9,84.2h0.75v0.75h-0.75zM54.3,82.9h0.75v0.75h-0.75zM55.9,82.8h0.75v0.75h-0.75zM54.3,82.1h0.75v0.75h-0.75zM55.0,81.3h0.75v0.75h-0.75zM55.8,82.4h0.75v0.75h-0.75zM51.4,84.2h0.75v0.75h-0.75zM56.3,84.2h0.75v0.75h-0.75zM56.2,84.2h0.75v0.75h-0.75zM55.1,83.2h0.75v0.75h-0.75zM57.7,82.7h0.75v0.75h-0.75zM55.4,83.9h0.75v0.75h-0.75zM55.8,84.2h0.75v0.75h-0.75zM59.0,86.4h0.75v0.75h-0.75zM56.6,79.7h0.75v0.75h-0.75zM58.1,82.4h0.75v0.75h-0.75zM57.2,83.7h0.75v0.75h-0.75zM53.0,81.7h0.75v0.75h-0.75zM55.3,80.6h0.75v0.75h-0.75zM50.6,83.8h0.75v0.75h-0.75zM55.7,82.4h0.75v0.75h-0.75zM52.7,84.5h0.75v0.75h-0.75zM57.1,85.0h0.75v0.75h-0.75zM51.4,83.1h0.75v0.75h-0.75zM55.0,85.2h0.75v0.75h-0.75zM49.8,84.1h0.75v0.75h-0.75zM56.6,83.1h0.75v0.75h-0.75zM56.3,84.8h0.75v0.75h-0.75zM49.8,83.5h0.75v0.75h-0.75zM58.4,83.9h0.75v0.75h-0.75zM54.7,82.7h0.75v0.75h-0.75zM50.1,81.8h0.75v0.75h-0.75zM57.5,84.7h0.75v0.75h-0.75zM52.2,85.4h0.75v0.75h-0.75zM53.0,81.8h0.75v0.75h-0.75zM55.9,83.9h0.75v0.75h-0.75zM52.3,84.8h0.75v0.75h-0.75zM50.3,82.5h0.75v0.75h-0.75zM51.9,82.6h0.75v0.75h-0.75zM50.9,83.4h0.75v0.75h-0.75zM57.2,84.2h0.75v0.75h-0.75zM52.2,85.3h0.75v0.75h-0.75zM51.1,83.7h0.75v0.75h-0.75zM51.5,84.3h0.75v0.75h-0.75zM50.0,81.7h0.75v0.75h-0.75zM54.8,83.9h0.75v0.75h-0.75zM54.6,84.6h0.75v0.75h-0.75zM58.8,84.3h0.75v0.75h-0.75zM56.2,83.4h0.75v0.75h-0.75zM58.6,84.2h0.75v0.75h-0.75zM52.7,82.0h0.75v0.75h-0.75zM57.6,83.9h0.75v0.75h-0.75zM55.3,84.0h0.75v0.75h-0.75zM54.4,83.2h0.75v0.75h-0.75zM57.3,83.3h0.75v0.75h-0.75zM55.7,84.8h0.75v0.75h-0.75zM56.2,81.7h0.75v0.75h-0.75zM55.9,85.1h0.75v0.75h-0.75zM51.2,84.8h0.75v0.75h-0.75zM53.8,84.3h0.75v0.75h-0.75zM55.0,84.1h0.75v0.75h-0.75zM58.7,84.7h0.75v0.75h-0.75zM51.4,84.8h0.75v0.75h-0.75zM55.7,82.9h0.75v0.75h-0.75zM54.2,84.2h0.75v0.75h-0.75zM52.0,81.5h0.75v0.75h-0.75zM56.7,80.0h0.75v0.75h-0.75zM54.2,85.0h0.75v0.75h-0.75zM51.2,82.6h0.75v0.75h-0.75zM50.9,82.3h0.75v0.75h-0.75zM55.0,82.4h0.75v0.75h-0.75zM58.1,83.2h0.75v0.75h-0.75zM54.7,83.3h0.75v0.75h-0.75zM57.8,82.6h0.75v0.75h-0.75zM51.0,82.3h0.75v0.75h-0.75zM53.9,83.6h0.75v0.75h-0.75zM54.1,84.0h0.75v0.75h-0.75zM56.1,84.0h0.75v0.75h-0.75zM50.9,84.1h0.75v0.75h-0.75zM52.6,81.1h0.75v0.75h-0.75zM54.7,83.8h0.75v0.75h-0.75zM50.2,82.0h0.75v0.75h-0.75zM51.5,82.1h0.75v0.75h-0.75zM53.2,85.8h0.75v0.75h-0.75zM50.1,83.9h0.75v0.75h-0.75zM54.4,83.7h0.75v0.75h-0.75zM49.3,84.6h0.75v0.75h-0.75zM49.5,84.3h0.75v0.75h-0.75zM50.8,84.7h0.75v0.75h-0.75zM49.7,82.6h0.75v0.75h-0.75zM52.6,81.9h0.75v0.75h-0.75zM56.8,83.1h0.75v0.75h-0.75zM57.1,83.7h0.75v0.75h-0.75zM58.1,82.2h0.75v0.75h-0.75zM54.3,82.1h0.75v0.75h-0.75zM51.2,83.6h0.75v0.75h-0.75zM55.5,81.8h0.75v0.75h-0.75zM58.6,85.0h0.75v0.75h-0.75zM51.0,82.6h0.75v0.75h-0.75zM52.8,84.7h0.75v0.75h-0.75zM52.9,85.0h0.75v0.75h-0.75zM49.1,83.3h0.75v0.75h-0.75zM52.4,80.9h0.75v0.75h-0.75zM56.6,84.4h0.75v0.75h-0.75zM50.4,82.1h0.75v0.75h-0.75zM55.7,85.7h0.75v0.75h-0.75zM53.9,81.2h0.75v0.75h-0.75zM54.2,82.7h0.75v0.75h-0.75zM54.0,81.6h0.75v0.75h-0.75zM55.1,84.0h0.75v0.75h-0.75zM53.2,84.6h0.75v0.75h-0.75zM49.5,83.4h0.75v0.75h-0.75zM54.7,84.4h0.75v0.75h-0.75zM51.2,81.4h0.75v0.75h-0.75zM54.1,83.5h0.75v0.75h-0.75zM54.7,80.7h0.75v0.75h-0.75zM53.8,81.6h0.75v0.75h-0.75zM52.0,83.6h0.75v0.75h-0.75zM51.3,85.3h0.75v0.75h-0.75zM52.4,81.9h0.75v0.75h-0.75zM51.1,85.0h0.75v0.75h-0.75zM53.0,83.4h0.75v0.75h-0.75zM52.7,84.9h0.75v0.75h-0.75zM51.5,82.1h0.75v0.75h-0.75zM55.4,83.8h0.75v0.75h-0.75zM55.2,85.8h0.75v0.75h-0.75zM56.4,82.0h0.75v0.75h-0.75zM52.1,83.1h0.75v0.75h-0.75zM53.7,83.1h0.75v0.75h-0.75zM51.6,81.7h0.75v0.75h-0.75zM51.4,85.2h0.75v0.75h-0.75zM55.9,81.3h0.75v0.75h-0.75zM55.6,82.0h0.75v0.75h-0.75zM54.5,84.2h0.75v0.75h-0.75zM52.9,84.4h0.75v0.75h-0.75zM57.2,83.7h0.75v0.75h-0.75zM52.0,84.7h0.75v0.75h-0.75zM50.7,80.8h0.75v0.75h-0.75zM57.8,83.9h0.75v0.75h-0.75zM56.6,84.6h0.75v0.75h-0.75zM51.6,81.4h0.75v0.75h-0.75zM56.9,84.9h0.75v0.75h-0.75zM52.9,82.6h0.75v0.75h-0.75zM53.2,85.8h0.75v0.75h-0.75zM52.9,83.3h0.75v0.75h-0.75zM55.2,84.1h0.75v0.75h-0.75zM54.7,82.2h0.75v0.75h-0.75zM53.4,84.9h0.75v0.75h-0.75zM55.4,83.0h0.75v0.75h-0.75zM56.8,84.4h0.75v0.75h-0.75zM55.7,82.3h0.75v0.75h-0.75zM51.3,81.2h0.75v0.75h-0.75zM52.1,82.4h0.75v0.75h-0.75zM57.8,84.8h0.75v0.75h-0.75zM57.8,85.1h0.75v0.75h-0.75zM52.8,83.6h0.75v0.75h-0.75zM54.1,88.0h0.75v0.75h-0.75zM54.4,84.1h0.75v0.75h-0.75zM56.0,81.6h0.75v0.75h-0.75zM50.5,86.0h0.75v0.75h-0.75zM56.3,85.2h0.75v0.75h-0.75zM53.7,83.5h0.75v0.75h-0.75zM52.3,82.0h0.75v0.75h-0.75zM55.5,83.5h0.75v0.75h-0.75zM52.0,83.9h0.75v0.75h-0.75zM53.4,82.0h0.75v0.75h-0.75zM51.4,82.4h0.75v0.75h-0.75zM49.3,83.3h0.75v0.75h-0.75zM50.0,84.3h0.75v0.75h-0.75zM50.8,84.5h0.75v0.75h-0.75zM50.6,83.4h0.75v0.75h-0.75zM39.2,102.2h0.75v0.75h-0.75zM43.8,102.7h0.75v0.75h-0.75zM39.8,106.7h0.75v0.75h-0.75zM37.9,92.5h0.75v0.75h-0.75zM41.4,104.0h0.75v0.75h-0.75zM41.8,98.7h0.75v0.75h-0.75zM41.1,96.1h0.75v0.75h-0.75zM41.8,95.1h0.75v0.75h-0.75zM41.1,104.4h0.75v0.75h-0.75zM38.1,100.5h0.75v0.75h-0.75zM42.9,110.9h0.75v0.75h-0.75zM38.6,104.8h0.75v0.75h-0.75zM39.1,96.4h0.75v0.75h-0.75zM44.5,106.5h0.75v0.75h-0.75zM39.9,104.2h0.75v0.75h-0.75zM42.6,104.0h0.75v0.75h-0.75zM45.7,106.2h0.75v0.75h-0.75zM35.7,101.7h0.75v0.75h-0.75zM40.0,102.1h0.75v0.75h-0.75zM41.5,99.9h0.75v0.75h-0.75zM39.4,109.9h0.75v0.75h-0.75zM42.6,99.8h0.75v0.75h-0.75zM42.7,106.5h0.75v0.75h-0.75zM43.8,97.9h0.75v0.75h-0.75zM42.9,100.1h0.75v0.75h-0.75zM43.6,102.2h0.75v0.75h-0.75zM37.1,103.3h0.75v0.75h-0.75zM38.0,102.0h0.75v0.75h-0.75zM41.3,101.1h0.75v0.75h-0.75zM38.6,97.6h0.75v0.75h-0.75zM39.8,101.9h0.75v0.75h-0.75zM43.9,106.7h0.75v0.75h-0.75zM40.5,109.5h0.75v0.75h-0.75zM38.8,106.6h0.75v0.75h-0.75zM41.1,104.3h0.75v0.75h-0.75zM42.6,99.7h0.75v0.75h-0.75zM43.0,103.1h0.75v0.75h-0.75zM46.0,101.6h0.75v0.75h-0.75zM43.8,106.4h0.75v0.75h-0.75zM39.2,109.9h0.75v0.75h-0.75zM39.4,92.0h0.75v0.75h-0.75zM43.1,108.5h0.75v0.75h-0.75zM41.5,101.8h0.75v0.75h-0.75zM44.4,106.7h0.75v0.75h-0.75zM40.2,106.8h0.75v0.75h-0.75zM39.1,100.3h0.75v0.75h-0.75zM39.4,92.1h0.75v0.75h-0.75zM39.2,109.2h0.75v0.75h-0.75zM39.3,100.4h0.75v0.75h-0.75zM39.2,107.5h0.75v0.75h-0.75zM41.4,105.6h0.75v0.75h-0.75zM41.2,97.3h0.75v0.75h-0.75zM39.6,107.3h0.75v0.75h-0.75zM41.3,107.0h0.75v0.75h-0.75zM35.4,108.7h0.75v0.75h-0.75zM40.5,103.3h0.75v0.75h-0.75zM42.7,98.8h0.75v0.75h-0.75zM43.1,99.9h0.75v0.75h-0.75zM43.9,107.1h0.75v0.75h-0.75zM42.4,99.5h0.75v0.75h-0.75zM41.0,104.6h0.75v0.75h-0.75zM37.6,100.4h0.75v0.75h-0.75zM43.2,96.8h0.75v0.75h-0.75zM43.9,100.0h0.75v0.75h-0.75zM42.0,97.4h0.75v0.75h-0.75zM42.4,105.4h0.75v0.75h-0.75zM43.6,109.9h0.75v0.75h-0.75zM43.8,104.2h0.75v0.75h-0.75zM39.1,109.7h0.75v0.75h-0.75zM39.0,100.9h0.75v0.75h-0.75zM42.8,105.3h0.75v0.75h-0.75zM44.5,103.1h0.75v0.75h-0.75zM38.2,101.8h0.75v0.75h-0.75zM41.8,101.4h0.75v0.75h-0.75zM44.1,101.9h0.75v0.75h-0.75zM38.7,105.5h0.75v0.75h-0.75zM39.2,111.6h0.75v0.75h-0.75zM41.9,96.1h0.75v0.75h-0.75zM37.6,107.6h0.75v0.75h-0.75zM42.3,104.0h0.75v0.75h-0.75zM42.1,105.6h0.75v0.75h-0.75zM40.1,110.2h0.75v0.75h-0.75zM44.3,97.2h0.75v0.75h-0.75zM41.4,110.2h0.75v0.75h-0.75zM40.5,102.3h0.75v0.75h-0.75zM40.7,109.0h0.75v0.75h-0.75zM40.3,103.1h0.75v0.75h-0.75zM42.5,102.1h0.75v0.75h-0.75zM39.8,96.4h0.75v0.75h-0.75zM38.5,97.2h0.75v0.75h-0.75zM38.2,99.5h0.75v0.75h-0.75zM42.0,103.4h0.75v0.75h-0.75zM39.9,98.0h0.75v0.75h-0.75zM39.5,96.2h0.75v0.75h-0.75zM39.1,106.7h0.75v0.75h-0.75zM38.8,103.2h0.75v0.75h-0.75zM38.0,104.1h0.75v0.75h-0.75zM40.8,99.3h0.75v0.75h-0.75zM42.0,103.9h0.75v0.75h-0.75zM39.4,105.3h0.75v0.75h-0.75zM42.2,109.7h0.75v0.75h-0.75zM40.3,110.5h0.75v0.75h-0.75zM41.1,93.2h0.75v0.75h-0.75zM42.4,102.7h0.75v0.75h-0.75zM39.8,107.8h0.75v0.75h-0.75zM40.5,108.2h0.75v0.75h-0.75zM41.3,106.9h0.75v0.75h-0.75zM42.7,105.5h0.75v0.75h-0.75zM39.5,107.7h0.75v0.75h-0.75zM42.3,106.9h0.75v0.75h-0.75zM40.0,101.1h0.75v0.75h-0.75zM41.6,97.3h0.75v0.75h-0.75zM39.2,102.6h0.75v0.75h-0.75zM41.3,104.1h0.75v0.75h-0.75zM43.6,101.1h0.75v0.75h-0.75zM42.7,102.4h0.75v0.75h-0.75zM41.1,104.4h0.75v0.75h-0.75zM37.5,103.5h0.75v0.75h-0.75zM40.2,98.5h0.75v0.75h-0.75zM37.8,100.9h0.75v0.75h-0.75zM37.9,107.5h0.75v0.75h-0.75zM41.0,94.7h0.75v0.75h-0.75zM40.2,106.9h0.75v0.75h-0.75zM40.3,101.7h0.75v0.75h-0.75zM40.7,102.5h0.75v0.75h-0.75zM38.2,102.9h0.75v0.75h-0.75zM41.0,100.9h0.75v0.75h-0.75zM43.3,102.3h0.75v0.75h-0.75zM41.9,98.8h0.75v0.75h-0.75zM44.4,100.0h0.75v0.75h-0.75zM42.1,108.8h0.75v0.75h-0.75zM40.9,103.1h0.75v0.75h-0.75zM42.5,106.5h0.75v0.75h-0.75zM39.4,104.0h0.75v0.75h-0.75zM39.6,99.4h0.75v0.75h-0.75zM40.2,109.2h0.75v0.75h-0.75zM41.3,98.9h0.75v0.75h-0.75zM39.6,111.2h0.75v0.75h-0.75zM38.5,101.5h0.75v0.75h-0.75zM40.4,111.9h0.75v0.75h-0.75zM39.5,108.6h0.75v0.75h-0.75zM43.9,102.3h0.75v0.75h-0.75zM42.3,95.4h0.75v0.75h-0.75zM41.3,102.1h0.75v0.75h-0.75zM36.5,105.2h0.75v0.75h-0.75zM42.1,94.7h0.75v0.75h-0.75zM38.7,99.4h0.75v0.75h-0.75zM40.4,101.6h0.75v0.75h-0.75zM39.6,98.1h0.75v0.75h-0.75zM42.0,100.8h0.75v0.75h-0.75zM41.2,102.0h0.75v0.75h-0.75zM42.3,102.4h0.75v0.75h-0.75zM43.1,103.6h0.75v0.75h-0.75zM43.1,109.4h0.75v0.75h-0.75zM38.7,107.7h0.75v0.75h-0.75zM44.8,98.3h0.75v0.75h-0.75zM41.4,101.3h0.75v0.75h-0.75zM42.3,105.7h0.75v0.75h-0.75zM40.2,109.7h0.75v0.75h-0.75zM39.8,102.4h0.75v0.75h-0.75zM40.5,107.0h0.75v0.75h-0.75zM41.8,95.2h0.75v0.75h-0.75zM39.6,97.1h0.75v0.75h-0.75zM40.5,101.0h0.75v0.75h-0.75zM41.5,109.5h0.75v0.75h-0.75zM41.0,107.1h0.75v0.75h-0.75zM42.2,110.7h0.75v0.75h-0.75zM40.7,107.4h0.75v0.75h-0.75zM44.5,99.5h0.75v0.75h-0.75zM41.3,105.7h0.75v0.75h-0.75zM40.6,98.8h0.75v0.75h-0.75zM44.9,102.0h0.75v0.75h-0.75zM44.7,100.6h0.75v0.75h-0.75zM41.0,107.1h0.75v0.75h-0.75zM41.0,98.6h0.75v0.75h-0.75zM40.1,104.5h0.75v0.75h-0.75zM40.2,103.6h0.75v0.75h-0.75zM37.1,100.3h0.75v0.75h-0.75zM41.1,100.6h0.75v0.75h-0.75zM39.5,98.7h0.75v0.75h-0.75zM41.6,110.6h0.75v0.75h-0.75zM38.8,101.7h0.75v0.75h-0.75zM43.3,104.8h0.75v0.75h-0.75zM41.3,100.9h0.75v0.75h-0.75zM41.5,102.6h0.75v0.75h-0.75zM37.3,99.6h0.75v0.75h-0.75zM37.7,109.6h0.75v0.75h-0.75zM43.0,99.2h0.75v0.75h-0.75zM40.2,109.6h0.75v0.75h-0.75zM42.1,101.9h0.75v0.75h-0.75zM39.3,100.4h0.75v0.75h-0.75zM40.7,91.6h0.75v0.75h-0.75zM42.4,101.5h0.75v0.75h-0.75zM42.3,101.0h0.75v0.75h-0.75zM47.1,94.8h0.75v0.75h-0.75zM39.7,106.7h0.75v0.75h-0.75zM45.9,98.2h0.75v0.75h-0.75zM44.9,98.5h0.75v0.75h-0.75zM43.9,103.5h0.75v0.75h-0.75zM45.7,112.0h0.75v0.75h-0.75zM39.3,101.6h0.75v0.75h-0.75zM44.9,99.5h0.75v0.75h-0.75zM40.2,103.8h0.75v0.75h-0.75zM42.3,105.1h0.75v0.75h-0.75zM40.0,104.1h0.75v0.75h-0.75zM42.6,110.6h0.75v0.75h-0.75zM42.1,96.9h0.75v0.75h-0.75zM41.5,100.0h0.75v0.75h-0.75zM43.9,94.8h0.75v0.75h-0.75zM42.5,97.8h0.75v0.75h-0.75zM43.8,107.0h0.75v0.75h-0.75zM41.8,105.7h0.75v0.75h-0.75zM40.8,106.5h0.75v0.75h-0.75zM41.3,106.8h0.75v0.75h-0.75zM41.5,90.7h0.75v0.75h-0.75zM40.5,110.7h0.75v0.75h-0.75zM44.2,103.7h0.75v0.75h-0.75zM41.2,101.5h0.75v0.75h-0.75zM42.6,106.0h0.75v0.75h-0.75zM39.6,106.4h0.75v0.75h-0.75zM43.8,98.4h0.75v0.75h-0.75zM41.1,105.4h0.75v0.75h-0.75zM42.8,101.0h0.75v0.75h-0.75zM40.4,100.8h0.75v0.75h-0.75zM42.2,105.3h0.75v0.75h-0.75zM41.4,96.3h0.75v0.75h-0.75zM39.4,106.3h0.75v0.75h-0.75zM39.1,104.3h0.75v0.75h-0.75zM40.7,100.1h0.75v0.75h-0.75zM41.5,111.5h0.75v0.75h-0.75zM42.0,101.7h0.75v0.75h-0.75zM38.6,105.7h0.75v0.75h-0.75zM43.6,106.2h0.75v0.75h-0.75zM43.6,105.5h0.75v0.75h-0.75zM39.0,102.9h0.75v0.75h-0.75zM42.4,106.7h0.75v0.75h-0.75zM40.5,102.8h0.75v0.75h-0.75zM42.1,109.5h0.75v0.75h-0.75zM43.3,106.4h0.75v0.75h-0.75zM42.2,98.0h0.75v0.75h-0.75zM39.3,102.7h0.75v0.75h-0.75zM43.4,105.1h0.75v0.75h-0.75zM42.5,95.6h0.75v0.75h-0.75zM38.7,108.7h0.75v0.75h-0.75zM41.4,96.6h0.75v0.75h-0.75zM43.1,104.4h0.75v0.75h-0.75zM47.0,109.4h0.75v0.75h-0.75zM42.1,102.4h0.75v0.75h-0.75zM41.9,102.6h0.75v0.75h-0.75zM38.7,107.8h0.75v0.75h-0.75zM42.0,89.4h0.75v0.75h-0.75zM40.2,99.0h0.75v0.75h-0.75zM43.3,102.9h0.75v0.75h-0.75zM44.3,95.2h0.75v0.75h-0.75zM39.4,108.5h0.75v0.75h-0.75zM40.2,97.8h0.75v0.75h-0.75zM40.4,99.3h0.75v0.75h-0.75zM42.5,108.7h0.75v0.75h-0.75zM38.4,101.7h0.75v0.75h-0.75zM41.5,103.5h0.75v0.75h-0.75zM43.0,103.7h0.75v0.75h-0.75zM40.3,97.6h0.75v0.75h-0.75zM38.0,101.3h0.75v0.75h-0.75zM41.5,107.7h0.75v0.75h-0.75zM41.3,100.7h0.75v0.75h-0.75zM42.2,98.3h0.75v0.75h-0.75zM41.8,92.8h0.75v0.75h-0.75zM42.7,103.5h0.75v0.75h-0.75zM41.8,103.9h0.75v0.75h-0.75zM39.0,98.6h0.75v0.75h-0.75zM44.4,105.6h0.75v0.75h-0.75zM40.3,105.2h0.75v0.75h-0.75zM43.5,105.2h0.75v0.75h-0.75zM40.6,112.0h0.75v0.75h-0.75zM41.2,98.8h0.75v0.75h-0.75zM39.1,98.8h0.75v0.75h-0.75zM40.7,107.0h0.75v0.75h-0.75zM43.2,108.9h0.75v0.75h-0.75zM41.7,107.3h0.75v0.75h-0.75zM45.7,107.7h0.75v0.75h-0.75zM44.5,95.6h0.75v0.75h-0.75zM40.0,99.4h0.75v0.75h-0.75zM36.3,103.5h0.75v0.75h-0.75zM44.1,100.5h0.75v0.75h-0.75zM41.8,98.9h0.75v0.75h-0.75zM40.5,104.6h0.75v0.75h-0.75zM39.2,109.0h0.75v0.75h-0.75zM37.8,104.7h0.75v0.75h-0.75zM40.5,110.6h0.75v0.75h-0.75zM42.9,92.7h0.75v0.75h-0.75zM36.8,98.1h0.75v0.75h-0.75zM40.5,102.2h0.75v0.75h-0.75zM41.5,106.5h0.75v0.75h-0.75zM38.8,94.1h0.75v0.75h-0.75zM41.9,101.3h0.75v0.75h-0.75zM41.2,99.9h0.75v0.75h-0.75zM41.1,110.6h0.75v0.75h-0.75zM38.3,97.0h0.75v0.75h-0.75zM42.6,111.0h0.75v0.75h-0.75zM41.0,96.8h0.75v0.75h-0.75zM37.6,104.4h0.75v0.75h-0.75zM45.9,104.3h0.75v0.75h-0.75zM42.4,102.5h0.75v0.75h-0.75zM43.6,103.1h0.75v0.75h-0.75zM41.6,109.9h0.75v0.75h-0.75zM38.3,100.4h0.75v0.75h-0.75zM39.7,107.3h0.75v0.75h-0.75zM40.5,106.1h0.75v0.75h-0.75zM39.2,102.7h0.75v0.75h-0.75zM45.8,111.3h0.75v0.75h-0.75zM37.9,105.0h0.75v0.75h-0.75zM43.0,100.7h0.75v0.75h-0.75zM39.3,106.4h0.75v0.75h-0.75zM41.6,105.9h0.75v0.75h-0.75zM39.7,100.7h0.75v0.75h-0.75zM42.4,106.8h0.75v0.75h-0.75zM38.8,109.6h0.75v0.75h-0.75zM38.7,103.2h0.75v0.75h-0.75zM40.8,99.6h0.75v0.75h-0.75zM43.6,91.4h0.75v0.75h-0.75zM40.0,98.6h0.75v0.75h-0.75zM43.1,110.9h0.75v0.75h-0.75zM42.9,110.1h0.75v0.75h-0.75zM37.2,103.9h0.75v0.75h-0.75zM38.8,101.3h0.75v0.75h-0.75zM41.9,103.6h0.75v0.75h-0.75zM44.0,93.2h0.75v0.75h-0.75zM39.8,95.7h0.75v0.75h-0.75zM38.3,108.2h0.75v0.75h-0.75zM41.8,110.9h0.75v0.75h-0.75zM43.7,103.5h0.75v0.75h-0.75zM39.6,108.1h0.75v0.75h-0.75zM40.1,97.1h0.75v0.75h-0.75zM39.2,103.7h0.75v0.75h-0.75zM43.8,103.4h0.75v0.75h-0.75zM43.8,103.6h0.75v0.75h-0.75zM44.9,104.1h0.75v0.75h-0.75zM39.8,95.1h0.75v0.75h-0.75zM42.2,101.9h0.75v0.75h-0.75zM42.3,104.7h0.75v0.75h-0.75zM42.3,108.8h0.75v0.75h-0.75zM42.0,99.5h0.75v0.75h-0.75zM40.0,106.0h0.75v0.75h-0.75zM39.4,106.7h0.75v0.75h-0.75zM42.8,102.9h0.75v0.75h-0.75zM39.9,94.2h0.75v0.75h-0.75zM39.3,95.0h0.75v0.75h-0.75zM41.5,100.9h0.75v0.75h-0.75zM39.7,107.5h0.75v0.75h-0.75zM41.7,103.4h0.75v0.75h-0.75zM42.5,108.3h0.75v0.75h-0.75zM38.4,106.7h0.75v0.75h-0.75zM38.0,99.2h0.75v0.75h-0.75zM43.4,106.6h0.75v0.75h-0.75zM42.7,104.0h0.75v0.75h-0.75zM44.1,95.4h0.75v0.75h-0.75zM40.9,103.4h0.75v0.75h-0.75zM45.3,108.3h0.75v0.75h-0.75zM43.4,99.3h0.75v0.75h-0.75zM45.7,105.5h0.75v0.75h-0.75zM38.7,98.8h0.75v0.75h-0.75zM41.0,98.2h0.75v0.75h-0.75zM42.4,104.5h0.75v0.75h-0.75zM38.3,110.0h0.75v0.75h-0.75zM39.9,110.4h0.75v0.75h-0.75zM41.1,97.3h0.75v0.75h-0.75zM42.1,102.9h0.75v0.75h-0.75zM38.1,106.8h0.75v0.75h-0.75zM39.7,110.3h0.75v0.75h-0.75zM43.3,101.7h0.75v0.75h-0.75zM41.5,101.9h0.75v0.75h-0.75zM39.7,103.4h0.75v0.75h-0.75zM43.3,101.2h0.75v0.75h-0.75zM40.2,96.5h0.75v0.75h-0.75zM43.7,106.7h0.75v0.75h-0.75zM42.3,95.6h0.75v0.75h-0.75zM42.4,104.6h0.75v0.75h-0.75zM40.8,96.2h0.75v0.75h-0.75zM41.3,98.8h0.75v0.75h-0.75zM41.6,103.4h0.75v0.75h-0.75zM40.8,107.5h0.75v0.75h-0.75zM41.3,105.8h0.75v0.75h-0.75zM42.2,108.2h0.75v0.75h-0.75zM39.6,101.4h0.75v0.75h-0.75zM43.2,103.9h0.75v0.75h-0.75zM43.6,106.9h0.75v0.75h-0.75zM40.6,107.5h0.75v0.75h-0.75zM40.9,107.9h0.75v0.75h-0.75zM45.0,108.6h0.75v0.75h-0.75zM45.8,95.4h0.75v0.75h-0.75zM40.4,101.8h0.75v0.75h-0.75zM40.7,105.0h0.75v0.75h-0.75zM40.7,108.7h0.75v0.75h-0.75zM43.3,105.2h0.75v0.75h-0.75zM39.5,105.9h0.75v0.75h-0.75zM42.7,104.9h0.75v0.75h-0.75zM41.5,110.1h0.75v0.75h-0.75zM40.4,101.3h0.75v0.75h-0.75zM42.7,105.8h0.75v0.75h-0.75zM43.0,101.7h0.75v0.75h-0.75zM38.9,96.9h0.75v0.75h-0.75zM40.6,107.1h0.75v0.75h-0.75zM42.9,94.1h0.75v0.75h-0.75zM42.4,102.7h0.75v0.75h-0.75zM41.9,107.3h0.75v0.75h-0.75zM46.3,100.2h0.75v0.75h-0.75zM40.7,110.6h0.75v0.75h-0.75zM38.9,103.5h0.75v0.75h-0.75zM41.5,108.0h0.75v0.75h-0.75zM42.2,98.6h0.75v0.75h-0.75zM43.3,107.4h0.75v0.75h-0.75zM39.4,99.7h0.75v0.75h-0.75zM40.4,97.4h0.75v0.75h-0.75zM43.5,101.5h0.75v0.75h-0.75zM40.9,97.9h0.75v0.75h-0.75zM40.7,110.6h0.75v0.75h-0.75zM42.9,95.0h0.75v0.75h-0.75zM39.5,106.3h0.75v0.75h-0.75zM40.5,100.4h0.75v0.75h-0.75zM39.8,96.5h0.75v0.75h-0.75zM41.6,101.2h0.75v0.75h-0.75zM43.6,102.8h0.75v0.75h-0.75zM39.6,106.6h0.75v0.75h-0.75zM44.0,99.5h0.75v0.75h-0.75zM38.2,100.7h0.75v0.75h-0.75zM38.9,111.3h0.75v0.75h-0.75zM38.8,101.5h0.75v0.75h-0.75zM44.2,107.5h0.75v0.75h-0.75zM40.5,99.2h0.75v0.75h-0.75zM41.1,101.9h0.75v0.75h-0.75zM44.3,102.4h0.75v0.75h-0.75zM38.9,108.1h0.75v0.75h-0.75zM43.4,102.0h0.75v0.75h-0.75zM42.9,103.4h0.75v0.75h-0.75zM39.1,102.7h0.75v0.75h-0.75zM39.3,100.0h0.75v0.75h-0.75zM39.6,104.8h0.75v0.75h-0.75zM41.8,96.5h0.75v0.75h-0.75zM41.0,107.1h0.75v0.75h-0.75zM46.5,107.4h0.75v0.75h-0.75zM46.8,109.8h0.75v0.75h-0.75zM42.0,107.9h0.75v0.75h-0.75zM40.1,107.6h0.75v0.75h-0.75zM38.9,109.5h0.75v0.75h-0.75zM43.2,110.2h0.75v0.75h-0.75zM45.4,105.3h0.75v0.75h-0.75zM48.0,102.4h0.75v0.75h-0.75zM43.6,105.0h0.75v0.75h-0.75zM47.6,106.8h0.75v0.75h-0.75zM45.7,109.2h0.75v0.75h-0.75zM35.2,103.4h0.75v0.75h-0.75zM45.1,111.2h0.75v0.75h-0.75zM43.7,107.5h0.75v0.75h-0.75zM42.6,105.4h0.75v0.75h-0.75zM41.3,105.0h0.75v0.75h-0.75zM43.9,104.5h0.75v0.75h-0.75zM44.7,99.9h0.75v0.75h-0.75zM46.3,107.8h0.75v0.75h-0.75zM46.4,105.3h0.75v0.75h-0.75zM42.6,111.1h0.75v0.75h-0.75zM39.0,106.1h0.75v0.75h-0.75zM40.1,104.0h0.75v0.75h-0.75zM41.5,105.2h0.75v0.75h-0.75zM47.8,102.6h0.75v0.75h-0.75zM47.1,101.4h0.75v0.75h-0.75zM46.5,108.2h0.75v0.75h-0.75zM47.2,109.4h0.75v0.75h-0.75zM40.5,106.8h0.75v0.75h-0.75zM47.2,110.1h0.75v0.75h-0.75zM42.6,101.7h0.75v0.75h-0.75zM49.7,107.1h0.75v0.75h-0.75zM42.4,107.3h0.75v0.75h-0.75zM42.9,111.2h0.75v0.75h-0.75zM48.2,108.4h0.75v0.75h-0.75zM46.8,107.3h0.75v0.75h-0.75zM48.7,97.7h0.75v0.75h-0.75zM40.0,107.0h0.75v0.75h-0.75zM43.0,103.3h0.75v0.75h-0.75zM47.1,103.2h0.75v0.75h-0.75zM45.5,107.6h0.75v0.75h-0.75zM44.9,103.8h0.75v0.75h-0.75zM43.9,112.0h0.75v0.75h-0.75zM46.8,111.0h0.75v0.75h-0.75zM44.3,100.3h0.75v0.75h-0.75zM42.8,106.5h0.75v0.75h-0.75zM49.8,111.7h0.75v0.75h-0.75zM46.3,103.7h0.75v0.75h-0.75zM45.1,106.1h0.75v0.75h-0.75zM43.7,102.2h0.75v0.75h-0.75zM46.5,107.0h0.75v0.75h-0.75zM47.8,101.3h0.75v0.75h-0.75zM41.1,108.3h0.75v0.75h-0.75zM46.4,103.2h0.75v0.75h-0.75zM51.5,106.9h0.75v0.75h-0.75zM41.5,105.2h0.75v0.75h-0.75zM43.2,101.6h0.75v0.75h-0.75zM45.7,109.0h0.75v0.75h-0.75zM45.4,109.8h0.75v0.75h-0.75zM48.1,108.5h0.75v0.75h-0.75zM43.7,112.0h0.75v0.75h-0.75zM43.9,110.2h0.75v0.75h-0.75zM51.9,98.1h0.75v0.75h-0.75zM43.9,105.5h0.75v0.75h-0.75zM51.5,105.5h0.75v0.75h-0.75zM55.5,101.0h0.75v0.75h-0.75zM46.0,105.6h0.75v0.75h-0.75zM46.7,104.9h0.75v0.75h-0.75zM42.8,99.8h0.75v0.75h-0.75zM45.1,101.1h0.75v0.75h-0.75zM39.4,107.5h0.75v0.75h-0.75zM44.1,111.2h0.75v0.75h-0.75zM39.2,108.8h0.75v0.75h-0.75zM45.9,105.9h0.75v0.75h-0.75zM41.4,106.8h0.75v0.75h-0.75zM48.2,105.6h0.75v0.75h-0.75zM48.0,106.0h0.75v0.75h-0.75zM51.5,107.2h0.75v0.75h-0.75zM43.9,100.7h0.75v0.75h-0.75zM38.9,108.7h0.75v0.75h-0.75zM43.7,108.3h0.75v0.75h-0.75zM41.9,106.5h0.75v0.75h-0.75zM42.1,108.3h0.75v0.75h-0.75zM41.9,111.6h0.75v0.75h-0.75zM40.4,105.3h0.75v0.75h-0.75zM41.3,112.2h0.75v0.75h-0.75zM46.4,107.7h0.75v0.75h-0.75zM45.6,102.8h0.75v0.75h-0.75zM44.5,107.2h0.75v0.75h-0.75zM47.2,106.4h0.75v0.75h-0.75zM43.8,105.2h0.75v0.75h-0.75zM43.2,105.2h0.75v0.75h-0.75zM47.5,105.8h0.75v0.75h-0.75zM42.9,104.6h0.75v0.75h-0.75zM46.7,110.6h0.75v0.75h-0.75zM44.6,107.0h0.75v0.75h-0.75zM42.5,107.4h0.75v0.75h-0.75zM50.8,107.5h0.75v0.75h-0.75zM49.5,96.3h0.75v0.75h-0.75zM42.7,108.1h0.75v0.75h-0.75zM48.2,108.8h0.75v0.75h-0.75zM44.4,105.3h0.75v0.75h-0.75zM44.7,105.0h0.75v0.75h-0.75zM46.8,107.0h0.75v0.75h-0.75zM44.1,107.0h0.75v0.75h-0.75zM42.1,103.6h0.75v0.75h-0.75zM43.7,101.6h0.75v0.75h-0.75zM47.0,110.5h0.75v0.75h-0.75zM41.6,99.8h0.75v0.75h-0.75zM46.2,108.1h0.75v0.75h-0.75zM44.7,101.8h0.75v0.75h-0.75zM47.5,93.8h0.75v0.75h-0.75zM46.9,92.6h0.75v0.75h-0.75zM51.2,104.4h0.75v0.75h-0.75zM52.0,108.5h0.75v0.75h-0.75zM53.3,110.1h0.75v0.75h-0.75zM52.8,97.6h0.75v0.75h-0.75zM50.7,102.3h0.75v0.75h-0.75zM54.2,97.4h0.75v0.75h-0.75zM43.5,111.3h0.75v0.75h-0.75zM57.4,102.0h0.75v0.75h-0.75zM44.4,102.1h0.75v0.75h-0.75zM51.8,102.8h0.75v0.75h-0.75zM57.1,93.7h0.75v0.75h-0.75zM56.0,103.7h0.75v0.75h-0.75zM48.3,106.3h0.75v0.75h-0.75zM54.6,91.0h0.75v0.75h-0.75zM43.7,96.7h0.75v0.75h-0.75zM43.2,92.0h0.75v0.75h-0.75zM54.9,102.3h0.75v0.75h-0.75zM52.4,102.2h0.75v0.75h-0.75zM49.1,106.8h0.75v0.75h-0.75zM43.9,103.0h0.75v0.75h-0.75zM52.2,97.0h0.75v0.75h-0.75zM47.4,102.4h0.75v0.75h-0.75zM45.8,109.2h0.75v0.75h-0.75zM50.9,99.6h0.75v0.75h-0.75zM52.5,109.8h0.75v0.75h-0.75zM53.2,92.2h0.75v0.75h-0.75zM53.5,107.4h0.75v0.75h-0.75zM55.8,92.0h0.75v0.75h-0.75zM44.0,100.6h0.75v0.75h-0.75zM49.7,104.6h0.75v0.75h-0.75zM47.4,107.7h0.75v0.75h-0.75zM54.1,93.4h0.75v0.75h-0.75zM53.6,106.8h0.75v0.75h-0.75zM50.7,108.6h0.75v0.75h-0.75zM53.8,94.5h0.75v0.75h-0.75zM44.6,108.6h0.75v0.75h-0.75zM46.8,111.0h0.75v0.75h-0.75zM54.6,91.3h0.75v0.75h-0.75zM55.1,96.9h0.75v0.75h-0.75zM43.6,107.0h0.75v0.75h-0.75zM51.6,92.4h0.75v0.75h-0.75zM49.7,98.9h0.75v0.75h-0.75zM50.4,103.7h0.75v0.75h-0.75zM48.3,96.5h0.75v0.75h-0.75zM44.2,103.8h0.75v0.75h-0.75zM53.8,95.9h0.75v0.75h-0.75zM50.5,91.6h0.75v0.75h-0.75zM56.0,96.3h0.75v0.75h-0.75zM49.9,99.4h0.75v0.75h-0.75zM45.0,112.0h0.75v0.75h-0.75zM55.9,103.3h0.75v0.75h-0.75zM56.8,107.7h0.75v0.75h-0.75zM49.1,98.0h0.75v0.75h-0.75zM49.1,107.2h0.75v0.75h-0.75zM46.8,92.4h0.75v0.75h-0.75zM48.4,102.2h0.75v0.75h-0.75zM56.6,94.8h0.75v0.75h-0.75zM57.4,92.2h0.75v0.75h-0.75zM49.8,97.1h0.75v0.75h-0.75zM55.7,98.2h0.75v0.75h-0.75zM51.2,90.8h0.75v0.75h-0.75zM45.7,103.6h0.75v0.75h-0.75zM47.3,105.0h0.75v0.75h-0.75zM49.8,104.2h0.75v0.75h-0.75zM50.3,108.4h0.75v0.75h-0.75zM45.7,111.3h0.75v0.75h-0.75zM54.4,96.3h0.75v0.75h-0.75zM42.7,100.1h0.75v0.75h-0.75zM46.2,98.6h0.75v0.75h-0.75zM55.6,110.8h0.75v0.75h-0.75zM57.4,90.7h0.75v0.75h-0.75zM52.8,110.2h0.75v0.75h-0.75zM53.9,93.0h0.75v0.75h-0.75zM50.8,96.1h0.75v0.75h-0.75zM50.3,92.0h0.75v0.75h-0.75zM58.1,107.0h0.75v0.75h-0.75zM44.1,111.8h0.75v0.75h-0.75zM56.5,102.6h0.75v0.75h-0.75zM53.5,99.2h0.75v0.75h-0.75zM57.7,92.6h0.75v0.75h-0.75zM44.1,93.7h0.75v0.75h-0.75zM55.3,92.4h0.75v0.75h-0.75zM51.4,100.6h0.75v0.75h-0.75zM57.6,96.1h0.75v0.75h-0.75zM46.7,97.9h0.75v0.75h-0.75zM55.0,106.7h0.75v0.75h-0.75zM54.0,97.9h0.75v0.75h-0.75zM46.8,92.3h0.75v0.75h-0.75zM45.8,108.6h0.75v0.75h-0.75zM51.7,94.2h0.75v0.75h-0.75zM45.2,101.3h0.75v0.75h-0.75zM48.9,103.0h0.75v0.75h-0.75zM57.6,95.4h0.75v0.75h-0.75zM47.4,96.7h0.75v0.75h-0.75zM44.5,94.3h0.75v0.75h-0.75zM53.3,109.6h0.75v0.75h-0.75zM53.4,91.6h0.75v0.75h-0.75zM55.6,98.2h0.75v0.75h-0.75zM44.0,96.3h0.75v0.75h-0.75zM48.1,102.4h0.75v0.75h-0.75zM53.1,96.6h0.75v0.75h-0.75zM58.0,91.3h0.75v0.75h-0.75zM48.9,101.0h0.75v0.75h-0.75zM54.2,96.4h0.75v0.75h-0.75zM49.8,109.1h0.75v0.75h-0.75zM44.8,90.9h0.75v0.75h-0.75zM44.7,109.6h0.75v0.75h-0.75zM48.4,105.1h0.75v0.75h-0.75zM52.6,104.0h0.75v0.75h-0.75zM46.6,109.3h0.75v0.75h-0.75zM43.0,92.1h0.75v0.75h-0.75zM56.6,100.8h0.75v0.75h-0.75zM44.6,111.4h0.75v0.75h-0.75zM55.5,98.3h0.75v0.75h-0.75zM43.3,101.2h0.75v0.75h-0.75zM45.2,103.8h0.75v0.75h-0.75zM55.4,99.7h0.75v0.75h-0.75zM43.1,106.3h0.75v0.75h-0.75zM45.3,95.6h0.75v0.75h-0.75zM45.5,97.1h0.75v0.75h-0.75zM56.3,91.4h0.75v0.75h-0.75zM52.2,96.3h0.75v0.75h-0.75zM47.2,100.1h0.75v0.75h-0.75zM51.2,92.0h0.75v0.75h-0.75zM47.0,93.8h0.75v0.75h-0.75zM45.7,111.0h0.75v0.75h-0.75zM50.8,105.1h0.75v0.75h-0.75zM55.1,108.9h0.75v0.75h-0.75zM58.0,108.6h0.75v0.75h-0.75zM48.2,103.2h0.75v0.75h-0.75zM50.1,111.6h0.75v0.75h-0.75zM50.4,99.6h0.75v0.75h-0.75zM45.4,98.0h0.75v0.75h-0.75zM46.0,111.2h0.75v0.75h-0.75zM54.7,92.0h0.75v0.75h-0.75zM58.0,102.8h0.75v0.75h-0.75zM57.7,92.9h0.75v0.75h-0.75zM52.8,96.8h0.75v0.75h-0.75zM55.3,111.7h0.75v0.75h-0.75zM46.0,110.1h0.75v0.75h-0.75zM55.0,98.8h0.75v0.75h-0.75zM55.6,110.1h0.75v0.75h-0.75zM45.4,104.3h0.75v0.75h-0.75zM55.1,106.7h0.75v0.75h-0.75zM56.8,91.3h0.75v0.75h-0.75zM51.4,103.6h0.75v0.75h-0.75zM56.3,102.0h0.75v0.75h-0.75zM47.4,101.9h0.75v0.75h-0.75zM44.0,96.0h0.75v0.75h-0.75zM46.0,102.7h0.75v0.75h-0.75zM42.6,111.7h0.75v0.75h-0.75zM45.8,93.6h0.75v0.75h-0.75zM53.7,111.8h0.75v0.75h-0.75zM55.7,98.1h0.75v0.75h-0.75zM43.0,104.1h0.75v0.75h-0.75zM56.8,108.4h0.75v0.75h-0.75zM55.8,110.4h0.75v0.75h-0.75zM57.5,99.2h0.75v0.75h-0.75zM57.2,99.7h0.75v0.75h-0.75zM44.2,97.6h0.75v0.75h-0.75zM44.7,94.3h0.75v0.75h-0.75zM57.3,108.8h0.75v0.75h-0.75zM57.5,105.6h0.75v0.75h-0.75zM53.4,112.0h0.75v0.75h-0.75zM54.8,95.8h0.75v0.75h-0.75zM51.8,94.7h0.75v0.75h-0.75zM47.4,106.5h0.75v0.75h-0.75zM44.6,107.4h0.75v0.75h-0.75zM57.6,91.4h0.75v0.75h-0.75zM52.0,111.8h0.75v0.75h-0.75zM57.6,95.7h0.75v0.75h-0.75zM51.4,112.2h0.75v0.75h-0.75zM44.8,107.8h0.75v0.75h-0.75zM45.2,111.0h0.75v0.75h-0.75zM44.0,106.9h0.75v0.75h-0.75zM52.5,111.0h0.75v0.75h-0.75zM49.6,96.7h0.75v0.75h-0.75zM46.5,92.2h0.75v0.75h-0.75zM46.6,93.1h0.75v0.75h-0.75zM42.6,99.5h0.75v0.75h-0.75zM56.3,102.0h0.75v0.75h-0.75zM48.5,103.2h0.75v0.75h-0.75zM44.2,101.7h0.75v0.75h-0.75zM56.0,105.6h0.75v0.75h-0.75zM53.3,94.4h0.75v0.75h-0.75zM43.8,110.1h0.75v0.75h-0.75zM47.2,98.0h0.75v0.75h-0.75zM57.4,92.3h0.75v0.75h-0.75zM45.3,99.3h0.75v0.75h-0.75zM54.0,103.2h0.75v0.75h-0.75zM56.6,92.8h0.75v0.75h-0.75zM51.8,104.7h0.75v0.75h-0.75zM50.1,91.3h0.75v0.75h-0.75zM57.2,94.4h0.75v0.75h-0.75zM56.4,94.2h0.75v0.75h-0.75zM44.2,95.4h0.75v0.75h-0.75zM45.6,106.7h0.75v0.75h-0.75zM53.8,107.4h0.75v0.75h-0.75zM46.7,97.1h0.75v0.75h-0.75zM46.3,91.8h0.75v0.75h-0.75zM51.5,109.9h0.75v0.75h-0.75zM45.0,98.9h0.75v0.75h-0.75zM49.3,97.4h0.75v0.75h-0.75zM52.9,104.4h0.75v0.75h-0.75zM45.7,91.2h0.75v0.75h-0.75zM45.3,97.3h0.75v0.75h-0.75zM43.9,110.0h0.75v0.75h-0.75zM47.4,99.8h0.75v0.75h-0.75zM50.2,105.8h0.75v0.75h-0.75zM44.0,103.1h0.75v0.75h-0.75zM45.5,111.0h0.75v0.75h-0.75zM48.4,100.9h0.75v0.75h-0.75zM46.7,101.3h0.75v0.75h-0.75zM46.1,96.8h0.75v0.75h-0.75zM43.6,107.9h0.75v0.75h-0.75zM53.0,92.6h0.75v0.75h-0.75zM48.0,103.1h0.75v0.75h-0.75zM57.7,104.2h0.75v0.75h-0.75zM51.2,110.0h0.75v0.75h-0.75zM55.3,100.3h0.75v0.75h-0.75zM50.9,110.6h0.75v0.75h-0.75zM50.0,110.9h0.75v0.75h-0.75zM50.0,92.4h0.75v0.75h-0.75zM56.6,107.1h0.75v0.75h-0.75zM50.4,111.3h0.75v0.75h-0.75zM55.0,106.2h0.75v0.75h-0.75zM52.2,93.4h0.75v0.75h-0.75zM54.4,94.6h0.75v0.75h-0.75zM55.2,93.5h0.75v0.75h-0.75zM52.4,109.8h0.75v0.75h-0.75zM46.6,111.6h0.75v0.75h-0.75zM56.8,92.2h0.75v0.75h-0.75zM48.6,99.8h0.75v0.75h-0.75zM47.7,97.0h0.75v0.75h-0.75zM49.7,110.7h0.75v0.75h-0.75zM54.8,105.0h0.75v0.75h-0.75zM50.7,100.3h0.75v0.75h-0.75zM49.1,94.0h0.75v0.75h-0.75zM51.7,108.1h0.75v0.75h-0.75zM57.2,111.9h0.75v0.75h-0.75zM49.9,94.6h0.75v0.75h-0.75zM50.5,102.9h0.75v0.75h-0.75zM49.3,100.8h0.75v0.75h-0.75zM48.2,100.3h0.75v0.75h-0.75zM50.8,94.6h0.75v0.75h-0.75zM51.3,98.9h0.75v0.75h-0.75zM46.9,89.8h0.75v0.75h-0.75zM59.8,98.7h0.75v0.75h-0.75zM50.2,99.5h0.75v0.75h-0.75zM51.4,82.1h0.75v0.75h-0.75zM52.3,94.9h0.75v0.75h-0.75zM53.0,91.0h0.75v0.75h-0.75zM50.7,102.5h0.75v0.75h-0.75zM51.0,93.1h0.75v0.75h-0.75zM53.1,93.3h0.75v0.75h-0.75zM55.9,94.6h0.75v0.75h-0.75zM53.1,91.4h0.75v0.75h-0.75zM46.6,99.9h0.75v0.75h-0.75zM52.7,99.5h0.75v0.75h-0.75zM54.6,86.8h0.75v0.75h-0.75zM52.1,83.6h0.75v0.75h-0.75zM53.7,89.1h0.75v0.75h-0.75zM53.5,100.0h0.75v0.75h-0.75zM49.5,95.5h0.75v0.75h-0.75zM56.5,85.7h0.75v0.75h-0.75zM54.2,96.3h0.75v0.75h-0.75zM55.4,85.7h0.75v0.75h-0.75zM51.6,102.3h0.75v0.75h-0.75zM57.1,91.0h0.75v0.75h-0.75zM50.5,106.7h0.75v0.75h-0.75zM46.0,95.4h0.75v0.75h-0.75zM52.3,96.7h0.75v0.75h-0.75zM47.9,101.4h0.75v0.75h-0.75zM55.2,106.5h0.75v0.75h-0.75zM48.5,92.7h0.75v0.75h-0.75zM56.0,106.5h0.75v0.75h-0.75zM51.6,86.5h0.75v0.75h-0.75zM50.8,101.4h0.75v0.75h-0.75zM54.3,102.3h0.75v0.75h-0.75zM59.3,93.0h0.75v0.75h-0.75zM48.0,88.4h0.75v0.75h-0.75zM51.1,101.7h0.75v0.75h-0.75zM58.5,96.9h0.75v0.75h-0.75zM51.7,94.8h0.75v0.75h-0.75zM56.5,91.1h0.75v0.75h-0.75zM51.2,95.2h0.75v0.75h-0.75zM51.5,106.5h0.75v0.75h-0.75zM48.1,110.4h0.75v0.75h-0.75zM49.0,90.7h0.75v0.75h-0.75zM49.0,99.5h0.75v0.75h-0.75zM51.6,102.4h0.75v0.75h-0.75zM48.3,85.6h0.75v0.75h-0.75zM50.1,97.3h0.75v0.75h-0.75zM45.8,95.0h0.75v0.75h-0.75zM53.8,90.8h0.75v0.75h-0.75zM48.3,89.1h0.75v0.75h-0.75zM51.1,98.4h0.75v0.75h-0.75zM62.6,102.6h0.75v0.75h-0.75zM46.6,86.4h0.75v0.75h-0.75zM51.2,105.1h0.75v0.75h-0.75zM67.1,83.5h0.75v0.75h-0.75zM68.4,91.1h0.75v0.75h-0.75zM70.2,81.4h0.75v0.75h-0.75zM66.3,80.5h0.75v0.75h-0.75zM61.6,80.5h0.75v0.75h-0.75zM63.6,79.9h0.75v0.75h-0.75zM67.6,85.6h0.75v0.75h-0.75zM61.3,87.6h0.75v0.75h-0.75zM70.4,87.0h0.75v0.75h-0.75zM62.4,84.5h0.75v0.75h-0.75zM64.2,82.8h0.75v0.75h-0.75zM58.1,84.1h0.75v0.75h-0.75zM69.4,82.3h0.75v0.75h-0.75zM57.3,85.3h0.75v0.75h-0.75zM68.8,78.7h0.75v0.75h-0.75zM65.4,87.3h0.75v0.75h-0.75zM66.7,87.9h0.75v0.75h-0.75zM66.9,79.3h0.75v0.75h-0.75zM67.0,91.1h0.75v0.75h-0.75zM63.8,87.1h0.75v0.75h-0.75zM60.8,90.8h0.75v0.75h-0.75zM62.3,92.2h0.75v0.75h-0.75zM63.2,88.3h0.75v0.75h-0.75zM62.6,93.1h0.75v0.75h-0.75zM57.1,87.1h0.75v0.75h-0.75zM56.7,80.8h0.75v0.75h-0.75zM71.8,89.3h0.75v0.75h-0.75zM57.0,85.6h0.75v0.75h-0.75zM62.3,87.9h0.75v0.75h-0.75zM71.7,88.2h0.75v0.75h-0.75zM66.3,87.7h0.75v0.75h-0.75zM60.5,88.4h0.75v0.75h-0.75zM68.1,83.2h0.75v0.75h-0.75zM62.2,91.4h0.75v0.75h-0.75zM65.4,81.1h0.75v0.75h-0.75zM63.0,83.8h0.75v0.75h-0.75zM64.4,85.3h0.75v0.75h-0.75zM63.7,92.3h0.75v0.75h-0.75zM67.8,91.6h0.75v0.75h-0.75zM58.2,86.1h0.75v0.75h-0.75zM69.1,88.5h0.75v0.75h-0.75zM62.0,82.6h0.75v0.75h-0.75zM68.3,84.8h0.75v0.75h-0.75zM67.1,86.3h0.75v0.75h-0.75zM64.2,86.1h0.75v0.75h-0.75zM61.5,92.4h0.75v0.75h-0.75zM66.7,91.2h0.75v0.75h-0.75zM62.6,83.5h0.75v0.75h-0.75zM63.4,82.2h0.75v0.75h-0.75zM67.2,88.5h0.75v0.75h-0.75zM62.7,84.4h0.75v0.75h-0.75zM66.1,82.6h0.75v0.75h-0.75zM63.1,91.9h0.75v0.75h-0.75zM61.8,83.6h0.75v0.75h-0.75zM74.1,77.1h0.75v0.75h-0.75zM60.1,92.8h0.75v0.75h-0.75zM63.1,87.6h0.75v0.75h-0.75zM72.7,82.8h0.75v0.75h-0.75zM62.4,87.3h0.75v0.75h-0.75zM64.3,83.5h0.75v0.75h-0.75zM64.1,80.3h0.75v0.75h-0.75zM66.4,89.0h0.75v0.75h-0.75zM64.0,84.7h0.75v0.75h-0.75zM66.7,83.5h0.75v0.75h-0.75zM63.5,85.4h0.75v0.75h-0.75zM70.2,85.4h0.75v0.75h-0.75zM64.2,85.0h0.75v0.75h-0.75zM63.2,81.8h0.75v0.75h-0.75zM61.1,89.1h0.75v0.75h-0.75zM62.5,86.0h0.75v0.75h-0.75zM62.8,80.3h0.75v0.75h-0.75zM62.9,91.2h0.75v0.75h-0.75zM63.1,82.9h0.75v0.75h-0.75zM63.0,84.3h0.75v0.75h-0.75zM65.5,84.0h0.75v0.75h-0.75zM64.3,83.7h0.75v0.75h-0.75zM66.0,86.9h0.75v0.75h-0.75zM65.4,88.2h0.75v0.75h-0.75zM64.3,90.5h0.75v0.75h-0.75zM66.4,91.6h0.75v0.75h-0.75zM64.3,86.7h0.75v0.75h-0.75zM62.0,85.7h0.75v0.75h-0.75zM67.7,84.2h0.75v0.75h-0.75zM70.3,85.7h0.75v0.75h-0.75zM70.6,81.4h0.75v0.75h-0.75zM63.6,83.6h0.75v0.75h-0.75zM68.5,88.2h0.75v0.75h-0.75zM64.3,83.8h0.75v0.75h-0.75zM64.5,88.5h0.75v0.75h-0.75zM67.8,85.4h0.75v0.75h-0.75zM62.9,86.0h0.75v0.75h-0.75zM65.1,86.6h0.75v0.75h-0.75zM62.9,92.6h0.75v0.75h-0.75zM62.2,91.7h0.75v0.75h-0.75zM69.9,89.4h0.75v0.75h-0.75zM71.8,87.9h0.75v0.75h-0.75zM63.4,83.5h0.75v0.75h-0.75zM62.1,89.0h0.75v0.75h-0.75zM59.0,79.9h0.75v0.75h-0.75zM70.5,89.7h0.75v0.75h-0.75zM66.2,89.3h0.75v0.75h-0.75zM67.6,84.9h0.75v0.75h-0.75zM59.0,90.8h0.75v0.75h-0.75zM66.3,80.1h0.75v0.75h-0.75zM65.2,83.8h0.75v0.75h-0.75zM64.2,84.3h0.75v0.75h-0.75zM66.7,84.8h0.75v0.75h-0.75zM60.2,88.3h0.75v0.75h-0.75zM66.5,79.9h0.75v0.75h-0.75zM66.2,89.2h0.75v0.75h-0.75zM64.1,86.4h0.75v0.75h-0.75zM61.7,78.6h0.75v0.75h-0.75zM66.6,85.3h0.75v0.75h-0.75zM66.3,84.7h0.75v0.75h-0.75zM63.6,86.3h0.75v0.75h-0.75zM64.4,89.1h0.75v0.75h-0.75zM63.0,79.9h0.75v0.75h-0.75zM65.2,80.4h0.75v0.75h-0.75zM55.0,81.2h0.75v0.75h-0.75zM63.0,82.4h0.75v0.75h-0.75zM67.9,107.2h0.75v0.75h-0.75zM70.8,102.6h0.75v0.75h-0.75zM76.2,113.5h0.75v0.75h-0.75zM69.3,112.3h0.75v0.75h-0.75zM80.4,99.8h0.75v0.75h-0.75zM83.8,108.6h0.75v0.75h-0.75zM69.5,102.7h0.75v0.75h-0.75zM80.4,101.0h0.75v0.75h-0.75zM80.8,101.9h0.75v0.75h-0.75zM76.5,113.2h0.75v0.75h-0.75zM83.3,105.2h0.75v0.75h-0.75zM70.2,103.2h0.75v0.75h-0.75zM69.6,111.1h0.75v0.75h-0.75zM77.5,100.7h0.75v0.75h-0.75zM67.9,110.0h0.75v0.75h-0.75zM82.0,110.9h0.75v0.75h-0.75zM67.8,108.1h0.75v0.75h-0.75zM69.1,111.0h0.75v0.75h-0.75zM67.8,105.9h0.75v0.75h-0.75zM69.2,104.5h0.75v0.75h-0.75zM69.3,103.8h0.75v0.75h-0.75zM78.4,113.3h0.75v0.75h-0.75zM70.8,102.0h0.75v0.75h-0.75zM82.9,108.4h0.75v0.75h-0.75zM77.6,113.6h0.75v0.75h-0.75zM69.3,103.8h0.75v0.75h-0.75zM67.3,109.2h0.75v0.75h-0.75zM82.6,111.0h0.75v0.75h-0.75zM75.3,101.5h0.75v0.75h-0.75zM78.9,101.2h0.75v0.75h-0.75zM82.8,105.1h0.75v0.75h-0.75zM72.2,101.2h0.75v0.75h-0.75zM83.0,108.1h0.75v0.75h-0.75zM73.2,101.5h0.75v0.75h-0.75zM73.2,101.0h0.75v0.75h-0.75zM79.2,112.7h0.75v0.75h-0.75zM82.7,103.7h0.75v0.75h-0.75zM76.4,101.0h0.75v0.75h-0.75zM73.1,101.3h0.75v0.75h-0.75zM82.4,103.7h0.75v0.75h-0.75zM79.6,100.9h0.75v0.75h-0.75zM67.6,110.0h0.75v0.75h-0.75zM70.6,102.6h0.75v0.75h-0.75zM67.9,108.1h0.75v0.75h-0.75zM65.5,106.8h0.75v0.75h-0.75zM79.2,101.5h0.75v0.75h-0.75zM65.6,109.1h0.75v0.75h-0.75zM79.3,112.0h0.75v0.75h-0.75zM68.6,105.3h0.75v0.75h-0.75zM69.8,111.8h0.75v0.75h-0.75zM68.3,104.2h0.75v0.75h-0.75zM69.7,112.0h0.75v0.75h-0.75zM84.3,105.4h0.75v0.75h-0.75zM74.9,113.6h0.75v0.75h-0.75zM83.7,104.9h0.75v0.75h-0.75zM81.0,111.0h0.75v0.75h-0.75zM69.0,111.1h0.75v0.75h-0.75zM73.3,114.2h0.75v0.75h-0.75zM72.2,101.3h0.75v0.75h-0.75zM83.2,103.8h0.75v0.75h-0.75zM69.7,103.4h0.75v0.75h-0.75zM73.9,114.0h0.75v0.75h-0.75zM71.0,113.3h0.75v0.75h-0.75zM68.7,101.6h0.75v0.75h-0.75zM84.1,104.5h0.75v0.75h-0.75zM72.7,112.6h0.75v0.75h-0.75zM82.0,110.7h0.75v0.75h-0.75zM67.5,105.3h0.75v0.75h-0.75zM70.3,101.8h0.75v0.75h-0.75zM79.4,101.5h0.75v0.75h-0.75zM74.2,113.8h0.75v0.75h-0.75zM66.3,107.2h0.75v0.75h-0.75zM83.9,107.4h0.75v0.75h-0.75zM78.8,113.2h0.75v0.75h-0.75zM74.8,101.3h0.75v0.75h-0.75zM76.1,113.4h0.75v0.75h-0.75zM79.0,101.9h0.75v0.75h-0.75zM75.0,100.9h0.75v0.75h-0.75zM83.0,107.6h0.75v0.75h-0.75zM80.3,102.3h0.75v0.75h-0.75zM74.2,100.8h0.75v0.75h-0.75zM67.0,105.6h0.75v0.75h-0.75zM76.7,113.1h0.75v0.75h-0.75zM74.0,114.4h0.75v0.75h-0.75zM70.6,102.2h0.75v0.75h-0.75zM82.9,104.8h0.75v0.75h-0.75zM83.2,105.5h0.75v0.75h-0.75zM84.2,106.9h0.75v0.75h-0.75zM76.1,113.9h0.75v0.75h-0.75zM80.9,101.8h0.75v0.75h-0.75zM79.1,100.9h0.75v0.75h-0.75zM69.9,102.7h0.75v0.75h-0.75zM75.0,100.5h0.75v0.75h-0.75zM76.1,101.3h0.75v0.75h-0.75zM82.7,105.2h0.75v0.75h-0.75zM71.5,102.0h0.75v0.75h-0.75zM79.1,112.5h0.75v0.75h-0.75zM69.7,112.4h0.75v0.75h-0.75zM68.6,110.6h0.75v0.75h-0.75zM68.6,105.0h0.75v0.75h-0.75zM75.8,113.5h0.75v0.75h-0.75zM81.1,112.3h0.75v0.75h-0.75zM80.2,111.5h0.75v0.75h-0.75zM82.2,104.1h0.75v0.75h-0.75zM69.0,103.8h0.75v0.75h-0.75zM67.5,105.2h0.75v0.75h-0.75zM71.1,112.2h0.75v0.75h-0.75zM77.7,113.3h0.75v0.75h-0.75zM79.5,112.8h0.75v0.75h-0.75zM68.9,111.0h0.75v0.75h-0.75zM67.4,106.6h0.75v0.75h-0.75zM77.8,112.8h0.75v0.75h-0.75zM72.1,112.8h0.75v0.75h-0.75zM74.9,101.2h0.75v0.75h-0.75zM65.9,106.8h0.75v0.75h-0.75zM82.7,105.8h0.75v0.75h-0.75zM83.4,106.7h0.75v0.75h-0.75zM82.0,102.9h0.75v0.75h-0.75zM67.7,103.3h0.75v0.75h-0.75zM70.9,101.1h0.75v0.75h-0.75zM71.9,114.4h0.75v0.75h-0.75zM69.3,112.3h0.75v0.75h-0.75zM67.6,106.5h0.75v0.75h-0.75zM79.1,100.0h0.75v0.75h-0.75zM70.4,112.0h0.75v0.75h-0.75zM83.9,108.1h0.75v0.75h-0.75zM81.4,103.0h0.75v0.75h-0.75zM83.4,104.3h0.75v0.75h-0.75zM80.4,112.5h0.75v0.75h-0.75zM83.2,106.7h0.75v0.75h-0.75zM83.3,108.9h0.75v0.75h-0.75zM80.9,101.4h0.75v0.75h-0.75zM68.2,111.0h0.75v0.75h-0.75zM72.4,101.5h0.75v0.75h-0.75zM82.9,105.6h0.75v0.75h-0.75zM83.6,103.8h0.75v0.75h-0.75zM74.6,101.1h0.75v0.75h-0.75zM71.9,113.2h0.75v0.75h-0.75zM83.8,110.1h0.75v0.75h-0.75zM67.7,105.8h0.75v0.75h-0.75zM68.5,105.4h0.75v0.75h-0.75zM69.6,111.9h0.75v0.75h-0.75zM69.8,103.6h0.75v0.75h-0.75zM71.5,102.6h0.75v0.75h-0.75zM67.1,106.7h0.75v0.75h-0.75zM75.1,100.7h0.75v0.75h-0.75zM68.7,105.0h0.75v0.75h-0.75zM82.2,103.9h0.75v0.75h-0.75zM81.8,110.2h0.75v0.75h-0.75zM82.9,109.7h0.75v0.75h-0.75zM75.6,100.8h0.75v0.75h-0.75zM70.7,102.7h0.75v0.75h-0.75zM67.7,109.0h0.75v0.75h-0.75zM70.0,111.4h0.75v0.75h-0.75zM77.7,99.5h0.75v0.75h-0.75zM81.0,111.6h0.75v0.75h-0.75zM70.7,101.4h0.75v0.75h-0.75zM73.7,101.0h0.75v0.75h-0.75zM69.8,112.6h0.75v0.75h-0.75zM67.9,106.0h0.75v0.75h-0.75zM82.3,111.3h0.75v0.75h-0.75zM68.1,106.7h0.75v0.75h-0.75zM82.8,104.4h0.75v0.75h-0.75zM82.6,102.5h0.75v0.75h-0.75zM71.1,113.3h0.75v0.75h-0.75zM67.2,107.6h0.75v0.75h-0.75zM80.1,111.8h0.75v0.75h-0.75zM79.4,113.7h0.75v0.75h-0.75zM79.4,112.4h0.75v0.75h-0.75zM80.5,100.8h0.75v0.75h-0.75zM83.0,103.7h0.75v0.75h-0.75zM68.2,106.3h0.75v0.75h-0.75zM74.1,113.2h0.75v0.75h-0.75zM73.7,101.7h0.75v0.75h-0.75zM67.8,108.5h0.75v0.75h-0.75zM70.5,102.7h0.75v0.75h-0.75zM83.3,110.5h0.75v0.75h-0.75zM72.3,113.9h0.75v0.75h-0.75zM67.9,109.9h0.75v0.75h-0.75zM68.2,104.9h0.75v0.75h-0.75zM67.8,105.6h0.75v0.75h-0.75zM68.4,110.7h0.75v0.75h-0.75zM82.8,106.6h0.75v0.75h-0.75zM74.3,101.1h0.75v0.75h-0.75zM68.6,110.3h0.75v0.75h-0.75zM74.0,101.4h0.75v0.75h-0.75zM81.0,102.2h0.75v0.75h-0.75zM73.4,112.9h0.75v0.75h-0.75zM67.6,106.1h0.75v0.75h-0.75zM79.6,101.1h0.75v0.75h-0.75zM80.2,101.8h0.75v0.75h-0.75zM75.4,113.7h0.75v0.75h-0.75zM80.9,102.8h0.75v0.75h-0.75zM83.0,107.1h0.75v0.75h-0.75zM66.5,107.9h0.75v0.75h-0.75zM69.4,111.2h0.75v0.75h-0.75zM67.8,104.5h0.75v0.75h-0.75zM67.4,106.4h0.75v0.75h-0.75zM84.8,106.2h0.75v0.75h-0.75zM70.8,112.1h0.75v0.75h-0.75zM77.3,112.8h0.75v0.75h-0.75zM73.8,114.3h0.75v0.75h-0.75zM67.2,109.5h0.75v0.75h-0.75zM68.0,107.9h0.75v0.75h-0.75zM70.4,102.2h0.75v0.75h-0.75zM68.1,103.4h0.75v0.75h-0.75zM80.4,112.4h0.75v0.75h-0.75zM79.2,112.0h0.75v0.75h-0.75zM83.8,104.2h0.75v0.75h-0.75zM73.8,99.8h0.75v0.75h-0.75zM67.7,108.7h0.75v0.75h-0.75zM67.5,108.5h0.75v0.75h-0.75zM82.7,108.7h0.75v0.75h-0.75zM78.1,112.6h0.75v0.75h-0.75zM81.9,103.1h0.75v0.75h-0.75zM67.6,109.9h0.75v0.75h-0.75zM83.7,108.2h0.75v0.75h-0.75zM72.7,102.0h0.75v0.75h-0.75zM67.0,107.3h0.75v0.75h-0.75zM75.4,114.3h0.75v0.75h-0.75zM67.4,106.4h0.75v0.75h-0.75zM70.1,112.9h0.75v0.75h-0.75zM70.3,102.7h0.75v0.75h-0.75zM69.8,112.4h0.75v0.75h-0.75zM82.1,103.0h0.75v0.75h-0.75zM80.0,102.5h0.75v0.75h-0.75zM66.6,108.7h0.75v0.75h-0.75zM67.9,108.0h0.75v0.75h-0.75zM80.8,111.1h0.75v0.75h-0.75zM70.1,103.1h0.75v0.75h-0.75zM77.9,112.8h0.75v0.75h-0.75zM73.1,101.2h0.75v0.75h-0.75zM81.5,110.5h0.75v0.75h-0.75zM72.9,100.4h0.75v0.75h-0.75zM67.4,108.8h0.75v0.75h-0.75zM79.9,111.6h0.75v0.75h-0.75zM78.8,101.8h0.75v0.75h-0.75zM68.5,105.4h0.75v0.75h-0.75zM80.0,111.7h0.75v0.75h-0.75zM68.3,105.4h0.75v0.75h-0.75zM82.6,108.4h0.75v0.75h-0.75zM83.1,104.8h0.75v0.75h-0.75zM68.9,104.5h0.75v0.75h-0.75zM73.4,101.8h0.75v0.75h-0.75zM71.0,102.8h0.75v0.75h-0.75zM68.2,109.9h0.75v0.75h-0.75zM83.2,106.1h0.75v0.75h-0.75zM78.7,101.6h0.75v0.75h-0.75zM68.6,104.3h0.75v0.75h-0.75zM80.0,113.3h0.75v0.75h-0.75zM70.9,102.9h0.75v0.75h-0.75zM71.0,113.6h0.75v0.75h-0.75zM67.9,109.8h0.75v0.75h-0.75zM70.0,111.7h0.75v0.75h-0.75zM82.1,110.4h0.75v0.75h-0.75zM65.8,108.0h0.75v0.75h-0.75zM69.0,110.7h0.75v0.75h-0.75zM67.8,108.9h0.75v0.75h-0.75zM67.9,103.3h0.75v0.75h-0.75zM67.6,107.9h0.75v0.75h-0.75zM81.8,110.7h0.75v0.75h-0.75zM69.2,104.4h0.75v0.75h-0.75zM79.0,100.8h0.75v0.75h-0.75zM69.8,102.5h0.75v0.75h-0.75zM67.8,107.2h0.75v0.75h-0.75zM67.8,106.9h0.75v0.75h-0.75zM77.1,113.1h0.75v0.75h-0.75zM69.1,112.7h0.75v0.75h-0.75zM68.8,104.9h0.75v0.75h-0.75zM71.7,100.9h0.75v0.75h-0.75zM82.6,110.1h0.75v0.75h-0.75zM77.0,113.4h0.75v0.75h-0.75zM79.9,102.1h0.75v0.75h-0.75zM67.7,112.1h0.75v0.75h-0.75zM79.0,112.5h0.75v0.75h-0.75zM66.8,104.8h0.75v0.75h-0.75zM82.6,111.2h0.75v0.75h-0.75zM72.0,102.3h0.75v0.75h-0.75zM72.9,113.0h0.75v0.75h-0.75zM70.4,102.9h0.75v0.75h-0.75zM75.9,113.4h0.75v0.75h-0.75zM70.4,112.5h0.75v0.75h-0.75zM74.8,113.5h0.75v0.75h-0.75zM68.0,111.6h0.75v0.75h-0.75zM76.6,100.8h0.75v0.75h-0.75zM68.2,106.1h0.75v0.75h-0.75zM75.9,113.1h0.75v0.75h-0.75zM72.5,101.4h0.75v0.75h-0.75zM74.0,101.0h0.75v0.75h-0.75zM74.6,100.6h0.75v0.75h-0.75zM68.5,109.9h0.75v0.75h-0.75zM77.8,113.0h0.75v0.75h-0.75zM69.2,111.5h0.75v0.75h-0.75zM72.0,101.4h0.75v0.75h-0.75zM72.3,100.9h0.75v0.75h-0.75zM85.4,106.4h0.75v0.75h-0.75zM83.4,110.1h0.75v0.75h-0.75zM67.0,111.0h0.75v0.75h-0.75zM82.5,108.7h0.75v0.75h-0.75zM83.2,107.8h0.75v0.75h-0.75zM61.4,112.8h0.75v0.75h-0.75zM64.1,103.3h0.75v0.75h-0.75zM65.4,101.5h0.75v0.75h-0.75zM70.0,104.0h0.75v0.75h-0.75zM64.6,103.2h0.75v0.75h-0.75zM67.1,111.0h0.75v0.75h-0.75zM66.7,103.4h0.75v0.75h-0.75zM69.0,107.1h0.75v0.75h-0.75zM64.5,105.9h0.75v0.75h-0.75zM66.4,107.0h0.75v0.75h-0.75zM66.1,106.2h0.75v0.75h-0.75zM70.2,116.0h0.75v0.75h-0.75zM66.5,102.9h0.75v0.75h-0.75zM63.8,109.0h0.75v0.75h-0.75zM62.6,105.5h0.75v0.75h-0.75zM67.0,106.8h0.75v0.75h-0.75zM65.2,112.6h0.75v0.75h-0.75zM67.9,104.5h0.75v0.75h-0.75zM67.9,105.5h0.75v0.75h-0.75zM65.0,104.7h0.75v0.75h-0.75zM68.7,104.2h0.75v0.75h-0.75zM66.0,109.7h0.75v0.75h-0.75zM66.8,107.0h0.75v0.75h-0.75zM64.7,114.3h0.75v0.75h-0.75zM67.9,97.8h0.75v0.75h-0.75zM69.0,101.6h0.75v0.75h-0.75zM63.1,103.7h0.75v0.75h-0.75zM68.9,105.2h0.75v0.75h-0.75zM66.6,100.3h0.75v0.75h-0.75zM68.5,105.2h0.75v0.75h-0.75zM63.3,107.3h0.75v0.75h-0.75zM67.2,106.4h0.75v0.75h-0.75zM69.0,108.2h0.75v0.75h-0.75zM69.4,105.9h0.75v0.75h-0.75zM66.4,109.2h0.75v0.75h-0.75zM68.7,105.0h0.75v0.75h-0.75zM70.3,106.5h0.75v0.75h-0.75zM66.1,107.7h0.75v0.75h-0.75zM64.2,100.4h0.75v0.75h-0.75zM70.7,109.9h0.75v0.75h-0.75zM64.1,106.6h0.75v0.75h-0.75zM67.5,104.4h0.75v0.75h-0.75zM69.3,104.4h0.75v0.75h-0.75zM68.3,103.9h0.75v0.75h-0.75zM67.2,111.6h0.75v0.75h-0.75zM67.2,104.4h0.75v0.75h-0.75zM66.6,108.7h0.75v0.75h-0.75zM65.2,104.7h0.75v0.75h-0.75zM70.0,111.0h0.75v0.75h-0.75zM64.7,101.5h0.75v0.75h-0.75zM63.3,102.2h0.75v0.75h-0.75zM65.5,105.9h0.75v0.75h-0.75zM63.1,106.7h0.75v0.75h-0.75zM59.7,106.6h0.75v0.75h-0.75zM69.7,101.9h0.75v0.75h-0.75zM59.8,106.7h0.75v0.75h-0.75zM67.7,104.7h0.75v0.75h-0.75zM66.6,110.6h0.75v0.75h-0.75zM69.8,108.2h0.75v0.75h-0.75zM63.4,106.7h0.75v0.75h-0.75zM63.9,106.1h0.75v0.75h-0.75zM65.6,104.1h0.75v0.75h-0.75zM69.5,105.3h0.75v0.75h-0.75zM62.9,107.5h0.75v0.75h-0.75zM67.6,106.3h0.75v0.75h-0.75zM64.4,104.6h0.75v0.75h-0.75zM64.8,104.4h0.75v0.75h-0.75zM64.6,105.4h0.75v0.75h-0.75zM63.1,107.0h0.75v0.75h-0.75zM64.4,109.2h0.75v0.75h-0.75zM67.0,111.4h0.75v0.75h-0.75zM63.1,111.1h0.75v0.75h-0.75zM65.9,108.3h0.75v0.75h-0.75zM68.1,109.5h0.75v0.75h-0.75zM66.3,107.7h0.75v0.75h-0.75zM65.9,108.7h0.75v0.75h-0.75zM64.2,107.5h0.75v0.75h-0.75zM69.5,113.2h0.75v0.75h-0.75zM68.5,111.2h0.75v0.75h-0.75zM67.3,109.8h0.75v0.75h-0.75zM70.4,105.9h0.75v0.75h-0.75zM62.6,105.5h0.75v0.75h-0.75zM66.5,103.2h0.75v0.75h-0.75zM63.5,104.4h0.75v0.75h-0.75zM63.4,109.3h0.75v0.75h-0.75zM69.9,108.5h0.75v0.75h-0.75zM63.1,106.9h0.75v0.75h-0.75zM64.2,107.1h0.75v0.75h-0.75zM64.3,109.6h0.75v0.75h-0.75zM67.7,105.0h0.75v0.75h-0.75zM67.2,106.4h0.75v0.75h-0.75zM69.9,99.5h0.75v0.75h-0.75zM67.0,110.5h0.75v0.75h-0.75zM65.3,104.4h0.75v0.75h-0.75zM66.5,102.9h0.75v0.75h-0.75zM64.9,102.5h0.75v0.75h-0.75zM65.7,98.8h0.75v0.75h-0.75zM64.8,108.1h0.75v0.75h-0.75zM65.3,104.7h0.75v0.75h-0.75zM68.1,111.7h0.75v0.75h-0.75zM64.5,110.3h0.75v0.75h-0.75zM62.3,103.2h0.75v0.75h-0.75zM67.3,107.0h0.75v0.75h-0.75zM66.4,109.2h0.75v0.75h-0.75zM65.7,108.8h0.75v0.75h-0.75zM65.1,103.9h0.75v0.75h-0.75zM62.0,108.5h0.75v0.75h-0.75zM64.2,109.7h0.75v0.75h-0.75zM68.4,105.4h0.75v0.75h-0.75zM66.3,106.8h0.75v0.75h-0.75zM65.7,101.0h0.75v0.75h-0.75zM69.3,104.1h0.75v0.75h-0.75zM67.3,107.1h0.75v0.75h-0.75zM66.8,106.9h0.75v0.75h-0.75zM68.1,103.1h0.75v0.75h-0.75zM68.3,106.7h0.75v0.75h-0.75zM66.2,104.7h0.75v0.75h-0.75zM66.0,108.2h0.75v0.75h-0.75zM63.6,100.1h0.75v0.75h-0.75zM65.5,108.6h0.75v0.75h-0.75zM65.5,110.9h0.75v0.75h-0.75zM69.0,111.0h0.75v0.75h-0.75zM69.3,107.1h0.75v0.75h-0.75zM67.4,103.7h0.75v0.75h-0.75zM60.2,107.5h0.75v0.75h-0.75zM64.4,105.4h0.75v0.75h-0.75zM60.7,109.3h0.75v0.75h-0.75zM65.7,104.1h0.75v0.75h-0.75zM63.6,103.3h0.75v0.75h-0.75zM64.3,102.7h0.75v0.75h-0.75zM63.0,105.4h0.75v0.75h-0.75zM65.4,109.1h0.75v0.75h-0.75zM62.3,104.6h0.75v0.75h-0.75zM64.2,107.3h0.75v0.75h-0.75zM66.0,109.1h0.75v0.75h-0.75zM70.2,106.1h0.75v0.75h-0.75zM67.3,103.5h0.75v0.75h-0.75zM65.9,106.2h0.75v0.75h-0.75zM70.8,102.1h0.75v0.75h-0.75zM65.8,106.2h0.75v0.75h-0.75zM64.5,107.4h0.75v0.75h-0.75zM66.2,106.5h0.75v0.75h-0.75zM64.5,108.7h0.75v0.75h-0.75zM64.1,104.8h0.75v0.75h-0.75zM68.0,111.0h0.75v0.75h-0.75zM64.5,108.3h0.75v0.75h-0.75zM65.9,109.8h0.75v0.75h-0.75zM66.4,112.1h0.75v0.75h-0.75zM69.5,102.7h0.75v0.75h-0.75zM65.4,103.5h0.75v0.75h-0.75zM66.0,99.8h0.75v0.75h-0.75zM62.4,109.7h0.75v0.75h-0.75zM66.9,108.8h0.75v0.75h-0.75zM64.1,102.5h0.75v0.75h-0.75zM65.7,111.0h0.75v0.75h-0.75zM66.3,106.8h0.75v0.75h-0.75zM68.7,107.5h0.75v0.75h-0.75zM66.5,107.6h0.75v0.75h-0.75zM65.7,111.6h0.75v0.75h-0.75zM65.9,103.6h0.75v0.75h-0.75zM66.0,111.4h0.75v0.75h-0.75zM62.0,110.5h0.75v0.75h-0.75zM67.4,94.2h0.75v0.75h-0.75zM57.6,109.2h0.75v0.75h-0.75zM60.4,114.4h0.75v0.75h-0.75zM64.8,107.2h0.75v0.75h-0.75zM63.8,106.1h0.75v0.75h-0.75zM61.4,108.1h0.75v0.75h-0.75zM67.1,101.4h0.75v0.75h-0.75zM64.5,105.8h0.75v0.75h-0.75zM63.9,104.6h0.75v0.75h-0.75zM64.1,103.3h0.75v0.75h-0.75zM63.6,106.6h0.75v0.75h-0.75zM57.8,109.3h0.75v0.75h-0.75zM53.8,106.1h0.75v0.75h-0.75zM58.4,108.7h0.75v0.75h-0.75zM62.5,110.9h0.75v0.75h-0.75zM62.9,106.8h0.75v0.75h-0.75zM67.6,105.8h0.75v0.75h-0.75zM63.5,113.3h0.75v0.75h-0.75zM65.9,115.6h0.75v0.75h-0.75zM65.2,105.5h0.75v0.75h-0.75zM67.4,111.3h0.75v0.75h-0.75zM62.7,109.8h0.75v0.75h-0.75zM63.3,109.6h0.75v0.75h-0.75zM63.7,107.1h0.75v0.75h-0.75zM69.5,109.5h0.75v0.75h-0.75zM59.0,108.5h0.75v0.75h-0.75zM62.6,108.9h0.75v0.75h-0.75zM64.5,109.1h0.75v0.75h-0.75zM57.7,101.4h0.75v0.75h-0.75zM68.5,107.5h0.75v0.75h-0.75zM68.3,109.7h0.75v0.75h-0.75zM61.8,100.9h0.75v0.75h-0.75zM65.4,109.7h0.75v0.75h-0.75zM69.8,106.8h0.75v0.75h-0.75zM63.9,100.4h0.75v0.75h-0.75zM61.5,108.6h0.75v0.75h-0.75zM62.4,104.1h0.75v0.75h-0.75zM68.6,114.0h0.75v0.75h-0.75zM59.9,108.0h0.75v0.75h-0.75zM62.1,113.6h0.75v0.75h-0.75zM64.5,110.0h0.75v0.75h-0.75zM60.4,112.9h0.75v0.75h-0.75zM62.6,115.1h0.75v0.75h-0.75zM67.5,105.0h0.75v0.75h-0.75zM65.5,108.6h0.75v0.75h-0.75zM62.9,110.6h0.75v0.75h-0.75zM63.5,107.7h0.75v0.75h-0.75zM61.4,104.7h0.75v0.75h-0.75zM63.9,108.3h0.75v0.75h-0.75zM67.4,102.2h0.75v0.75h-0.75zM64.0,114.0h0.75v0.75h-0.75zM61.3,103.5h0.75v0.75h-0.75zM60.4,110.8h0.75v0.75h-0.75zM59.2,107.7h0.75v0.75h-0.75zM61.3,105.3h0.75v0.75h-0.75zM62.6,106.1h0.75v0.75h-0.75zM62.3,107.4h0.75v0.75h-0.75zM64.6,105.8h0.75v0.75h-0.75zM65.3,105.7h0.75v0.75h-0.75zM62.0,107.8h0.75v0.75h-0.75zM57.6,104.3h0.75v0.75h-0.75zM61.3,103.5h0.75v0.75h-0.75zM62.8,104.7h0.75v0.75h-0.75zM60.4,111.7h0.75v0.75h-0.75zM70.9,111.6h0.75v0.75h-0.75zM64.7,112.1h0.75v0.75h-0.75zM64.7,106.6h0.75v0.75h-0.75zM64.0,106.3h0.75v0.75h-0.75zM55.9,104.3h0.75v0.75h-0.75zM60.7,109.6h0.75v0.75h-0.75zM61.9,100.4h0.75v0.75h-0.75zM63.5,108.8h0.75v0.75h-0.75zM66.3,109.1h0.75v0.75h-0.75zM72.0,104.2h0.75v0.75h-0.75zM68.2,111.3h0.75v0.75h-0.75zM61.4,107.1h0.75v0.75h-0.75zM61.0,107.1h0.75v0.75h-0.75zM62.1,105.9h0.75v0.75h-0.75zM63.6,103.5h0.75v0.75h-0.75zM67.6,111.1h0.75v0.75h-0.75zM61.2,111.1h0.75v0.75h-0.75zM60.0,100.5h0.75v0.75h-0.75zM64.7,109.8h0.75v0.75h-0.75zM61.0,109.7h0.75v0.75h-0.75zM60.6,108.9h0.75v0.75h-0.75zM62.1,111.1h0.75v0.75h-0.75zM64.0,103.4h0.75v0.75h-0.75zM62.9,102.2h0.75v0.75h-0.75zM61.4,106.6h0.75v0.75h-0.75zM64.4,98.5h0.75v0.75h-0.75zM63.4,117.8h0.75v0.75h-0.75zM60.3,108.9h0.75v0.75h-0.75zM62.1,96.3h0.75v0.75h-0.75zM60.1,104.9h0.75v0.75h-0.75zM66.6,107.5h0.75v0.75h-0.75zM62.9,110.3h0.75v0.75h-0.75zM64.1,107.0h0.75v0.75h-0.75zM66.0,102.1h0.75v0.75h-0.75zM62.9,112.6h0.75v0.75h-0.75zM56.1,104.5h0.75v0.75h-0.75zM64.2,108.5h0.75v0.75h-0.75zM62.5,109.3h0.75v0.75h-0.75zM60.5,111.5h0.75v0.75h-0.75zM64.3,114.9h0.75v0.75h-0.75zM66.6,109.8h0.75v0.75h-0.75zM68.6,104.4h0.75v0.75h-0.75zM52.4,109.6h0.75v0.75h-0.75zM38.1,110.9h0.75v0.75h-0.75zM51.6,101.2h0.75v0.75h-0.75zM57.2,101.9h0.75v0.75h-0.75zM41.4,107.2h0.75v0.75h-0.75zM48.6,81.7h0.75v0.75h-0.75zM35.1,108.8h0.75v0.75h-0.75zM42.7,110.6h0.75v0.75h-0.75zM56.2,87.5h0.75v0.75h-0.75zM50.6,102.2h0.75v0.75h-0.75zM33.9,109.0h0.75v0.75h-0.75zM43.6,90.5h0.75v0.75h-0.75zM34.7,99.7h0.75v0.75h-0.75zM37.5,98.3h0.75v0.75h-0.75zM39.4,80.6h0.75v0.75h-0.75zM52.7,94.0h0.75v0.75h-0.75zM45.2,101.9h0.75v0.75h-0.75zM46.8,87.3h0.75v0.75h-0.75zM41.2,94.0h0.75v0.75h-0.75zM37.1,81.9h0.75v0.75h-0.75zM48.5,80.6h0.75v0.75h-0.75zM44.0,82.0h0.75v0.75h-0.75zM46.7,108.9h0.75v0.75h-0.75zM37.0,83.9h0.75v0.75h-0.75zM48.2,97.7h0.75v0.75h-0.75zM50.6,86.3h0.75v0.75h-0.75zM49.6,107.4h0.75v0.75h-0.75zM40.0,81.4h0.75v0.75h-0.75zM53.8,91.3h0.75v0.75h-0.75zM57.7,82.1h0.75v0.75h-0.75zM51.1,95.2h0.75v0.75h-0.75zM42.7,91.2h0.75v0.75h-0.75zM49.1,79.6h0.75v0.75h-0.75zM76.9,115.3h0.75v0.75h-0.75zM72.0,84.0h0.75v0.75h-0.75zM60.9,108.9h0.75v0.75h-0.75zM65.2,92.5h0.75v0.75h-0.75zM80.8,110.2h0.75v0.75h-0.75zM62.8,80.6h0.75v0.75h-0.75zM86.2,112.9h0.75v0.75h-0.75zM84.0,109.0h0.75v0.75h-0.75zM60.0,104.3h0.75v0.75h-0.75zM62.7,95.3h0.75v0.75h-0.75zM60.3,86.4h0.75v0.75h-0.75zM74.7,86.2h0.75v0.75h-0.75zM74.3,88.2h0.75v0.75h-0.75zM73.2,105.6h0.75v0.75h-0.75zM63.6,104.5h0.75v0.75h-0.75zM60.1,100.2h0.75v0.75h-0.75zM78.2,80.2h0.75v0.75h-0.75zM64.4,89.1h0.75v0.75h-0.75zM81.7,101.5h0.75v0.75h-0.75zM61.1,102.9h0.75v0.75h-0.75zM59.9,93.0h0.75v0.75h-0.75zM67.2,110.2h0.75v0.75h-0.75zM78.1,110.6h0.75v0.75h-0.75zM60.2,110.7h0.75v0.75h-0.75zM77.8,87.2h0.75v0.75h-0.75zM70.3,114.8h0.75v0.75h-0.75zM62.4,90.3h0.75v0.75h-0.75zM83.9,98.3h0.75v0.75h-0.75zM64.8,97.2h0.75v0.75h-0.75zM72.5,112.9h0.75v0.75h-0.75zM60.2,87.8h0.75v0.75h-0.75zM74.5,91.0h0.75v0.75h-0.75zM70.6,84.4h0.75v0.75h-0.75zM69.3,91.7h0.75v0.75h-0.75zM77.1,87.4h0.75v0.75h-0.75zM87.0,97.2h0.75v0.75h-0.75zM82.4,101.8h0.75v0.75h-0.75zM84.2,111.6h0.75v0.75h-0.75zM82.4,79.7h0.75v0.75h-0.75zM75.2,89.0h0.75v0.75h-0.75zM63.9,111.8h0.75v0.75h-0.75zM78.0,81.9h0.75v0.75h-0.75zM70.3,114.2h0.75v0.75h-0.75zM76.8,101.8h0.75v0.75h-0.75zM66.0,87.5h0.75v0.75h-0.75zM63.9,114.5h0.75v0.75h-0.75zM85.1,90.8h0.75v0.75h-0.75zM74.8,86.3h0.75v0.75h-0.75zM63.5,98.7h0.75v0.75h-0.75zM82.0,110.5h0.75v0.75h-0.75z" fill="#222" fill-opacity="0.55" filter="url(#bl)"/>
<defs><linearGradient id="shg" x1="0" y1="0" x2="1" y2="0"><stop offset="0" stop-color="#222" stop-opacity="0.25"/><stop offset="1" stop-color="#0a0a0a" stop-opacity="0.85"/></linearGradient></defs>
<path d="M68.4,100.3 C69.0,96.5 70.2,93.0 72.0,90.6 C73.6,88.6 75.2,87.2 76.8,86.4 L77.5,100.3 Z" fill="url(#shg)"/>
<path d="M76.6,99.6h0.8v0.8h-0.8zM76.0,98.7h0.8v0.8h-0.8zM72.4,99.2h0.8v0.8h-0.8zM74.4,98.2h0.8v0.8h-0.8zM76.0,98.4h0.8v0.8h-0.8zM69.7,96.7h0.8v0.8h-0.8zM70.5,95.4h0.8v0.8h-0.8zM70.7,97.8h0.8v0.8h-0.8zM75.9,99.7h0.8v0.8h-0.8zM74.1,91.0h0.8v0.8h-0.8zM72.9,96.2h0.8v0.8h-0.8zM76.6,93.0h0.8v0.8h-0.8zM74.1,93.6h0.8v0.8h-0.8zM70.0,97.4h0.8v0.8h-0.8zM71.1,94.4h0.8v0.8h-0.8zM75.0,92.1h0.8v0.8h-0.8zM76.0,95.6h0.8v0.8h-0.8zM73.7,98.6h0.8v0.8h-0.8zM70.7,96.9h0.8v0.8h-0.8zM76.1,91.0h0.8v0.8h-0.8zM74.4,98.6h0.8v0.8h-0.8zM75.4,88.2h0.8v0.8h-0.8zM74.4,92.0h0.8v0.8h-0.8zM75.2,93.4h0.8v0.8h-0.8zM75.5,89.0h0.8v0.8h-0.8zM75.2,95.1h0.8v0.8h-0.8zM69.9,98.8h0.8v0.8h-0.8zM73.5,94.3h0.8v0.8h-0.8zM72.8,96.9h0.8v0.8h-0.8zM72.1,95.6h0.8v0.8h-0.8zM73.1,99.7h0.8v0.8h-0.8zM76.6,90.7h0.8v0.8h-0.8zM72.4,93.0h0.8v0.8h-0.8zM72.4,94.7h0.8v0.8h-0.8zM74.6,90.0h0.8v0.8h-0.8zM73.6,90.5h0.8v0.8h-0.8zM75.8,97.0h0.8v0.8h-0.8zM74.5,91.5h0.8v0.8h-0.8zM75.0,89.9h0.8v0.8h-0.8zM74.7,98.3h0.8v0.8h-0.8zM76.3,89.6h0.8v0.8h-0.8zM76.4,94.6h0.8v0.8h-0.8zM73.8,90.1h0.8v0.8h-0.8zM76.1,88.7h0.8v0.8h-0.8zM74.5,98.7h0.8v0.8h-0.8zM75.9,96.1h0.8v0.8h-0.8zM74.0,92.2h0.8v0.8h-0.8zM76.0,95.4h0.8v0.8h-0.8zM73.4,90.1h0.8v0.8h-0.8zM70.1,98.4h0.8v0.8h-0.8zM73.0,93.0h0.8v0.8h-0.8zM72.7,97.6h0.8v0.8h-0.8zM74.9,95.8h0.8v0.8h-0.8zM74.8,98.8h0.8v0.8h-0.8zM75.8,91.2h0.8v0.8h-0.8zM74.4,94.2h0.8v0.8h-0.8zM74.7,90.3h0.8v0.8h-0.8zM74.6,93.2h0.8v0.8h-0.8zM71.0,94.5h0.8v0.8h-0.8zM76.4,91.1h0.8v0.8h-0.8zM74.8,94.1h0.8v0.8h-0.8zM71.2,96.9h0.8v0.8h-0.8zM72.6,92.6h0.8v0.8h-0.8zM68.8,99.3h0.8v0.8h-0.8zM74.4,91.0h0.8v0.8h-0.8zM73.6,90.1h0.8v0.8h-0.8zM75.8,90.0h0.8v0.8h-0.8zM71.2,99.7h0.8v0.8h-0.8zM76.5,91.4h0.8v0.8h-0.8zM73.8,97.3h0.8v0.8h-0.8zM75.3,98.0h0.8v0.8h-0.8zM73.8,91.2h0.8v0.8h-0.8zM72.3,95.1h0.8v0.8h-0.8zM75.9,97.6h0.8v0.8h-0.8zM76.6,95.2h0.8v0.8h-0.8zM74.0,92.6h0.8v0.8h-0.8zM76.5,86.8h0.8v0.8h-0.8zM74.6,94.2h0.8v0.8h-0.8zM72.3,92.0h0.8v0.8h-0.8zM72.6,97.7h0.8v0.8h-0.8zM76.4,93.7h0.8v0.8h-0.8zM74.5,92.2h0.8v0.8h-0.8zM75.6,86.9h0.8v0.8h-0.8zM74.1,99.3h0.8v0.8h-0.8zM73.1,97.0h0.8v0.8h-0.8zM74.5,92.3h0.8v0.8h-0.8zM71.6,96.1h0.8v0.8h-0.8zM76.2,97.0h0.8v0.8h-0.8zM74.2,96.0h0.8v0.8h-0.8zM76.5,97.2h0.8v0.8h-0.8zM71.9,97.8h0.8v0.8h-0.8zM71.3,97.2h0.8v0.8h-0.8zM73.8,92.5h0.8v0.8h-0.8zM75.3,90.5h0.8v0.8h-0.8zM68.5,99.0h0.8v0.8h-0.8zM74.1,90.5h0.8v0.8h-0.8zM73.8,92.4h0.8v0.8h-0.8zM75.9,92.0h0.8v0.8h-0.8zM76.2,95.4h0.8v0.8h-0.8zM74.1,94.0h0.8v0.8h-0.8zM70.3,95.5h0.8v0.8h-0.8zM73.2,95.7h0.8v0.8h-0.8zM75.2,87.5h0.8v0.8h-0.8zM75.6,95.5h0.8v0.8h-0.8zM71.5,99.0h0.8v0.8h-0.8zM75.9,89.6h0.8v0.8h-0.8zM75.7,96.6h0.8v0.8h-0.8zM74.5,91.1h0.8v0.8h-0.8zM71.8,98.9h0.8v0.8h-0.8zM75.8,95.8h0.8v0.8h-0.8zM75.6,87.7h0.8v0.8h-0.8zM76.0,95.1h0.8v0.8h-0.8zM73.8,98.5h0.8v0.8h-0.8zM72.0,99.0h0.8v0.8h-0.8zM74.6,93.3h0.8v0.8h-0.8zM76.2,97.3h0.8v0.8h-0.8zM72.5,99.0h0.8v0.8h-0.8zM73.6,91.3h0.8v0.8h-0.8zM76.2,86.9h0.8v0.8h-0.8zM76.2,86.8h0.8v0.8h-0.8zM74.4,94.9h0.8v0.8h-0.8zM75.6,94.6h0.8v0.8h-0.8zM72.7,92.6h0.8v0.8h-0.8zM72.2,97.5h0.8v0.8h-0.8zM76.6,86.1h0.8v0.8h-0.8zM73.4,92.2h0.8v0.8h-0.8zM75.4,87.7h0.8v0.8h-0.8zM75.9,86.1h0.8v0.8h-0.8zM74.6,92.1h0.8v0.8h-0.8zM72.7,97.3h0.8v0.8h-0.8zM71.8,97.0h0.8v0.8h-0.8zM74.7,91.7h0.8v0.8h-0.8zM76.4,95.3h0.8v0.8h-0.8zM76.4,93.8h0.8v0.8h-0.8zM75.0,96.9h0.8v0.8h-0.8zM71.0,95.6h0.8v0.8h-0.8zM71.3,98.8h0.8v0.8h-0.8zM72.9,96.7h0.8v0.8h-0.8zM73.3,98.3h0.8v0.8h-0.8zM74.8,96.6h0.8v0.8h-0.8zM76.0,94.3h0.8v0.8h-0.8zM76.1,94.6h0.8v0.8h-0.8zM70.5,96.5h0.8v0.8h-0.8zM73.6,99.5h0.8v0.8h-0.8zM75.9,88.1h0.8v0.8h-0.8zM75.6,95.9h0.8v0.8h-0.8zM73.5,90.3h0.8v0.8h-0.8zM74.1,98.0h0.8v0.8h-0.8zM71.7,98.3h0.8v0.8h-0.8zM75.9,92.1h0.8v0.8h-0.8zM73.1,99.6h0.8v0.8h-0.8zM75.2,92.2h0.8v0.8h-0.8zM74.6,94.7h0.8v0.8h-0.8zM71.7,99.8h0.8v0.8h-0.8zM75.1,89.6h0.8v0.8h-0.8zM74.1,89.1h0.8v0.8h-0.8zM72.6,98.4h0.8v0.8h-0.8zM74.9,92.1h0.8v0.8h-0.8zM74.1,99.2h0.8v0.8h-0.8zM75.3,96.3h0.8v0.8h-0.8zM71.0,96.9h0.8v0.8h-0.8zM76.1,93.4h0.8v0.8h-0.8zM75.5,96.1h0.8v0.8h-0.8zM76.1,95.2h0.8v0.8h-0.8zM73.0,90.8h0.8v0.8h-0.8zM76.4,89.0h0.8v0.8h-0.8zM71.6,99.0h0.8v0.8h-0.8zM76.2,88.6h0.8v0.8h-0.8zM73.8,95.3h0.8v0.8h-0.8zM74.7,99.1h0.8v0.8h-0.8zM76.0,86.5h0.8v0.8h-0.8zM72.0,94.6h0.8v0.8h-0.8zM76.3,93.3h0.8v0.8h-0.8zM73.2,90.3h0.8v0.8h-0.8zM73.7,97.6h0.8v0.8h-0.8zM74.6,88.1h0.8v0.8h-0.8zM75.9,95.8h0.8v0.8h-0.8zM76.3,97.6h0.8v0.8h-0.8zM75.8,91.4h0.8v0.8h-0.8zM74.1,99.6h0.8v0.8h-0.8zM73.8,92.4h0.8v0.8h-0.8zM76.1,99.6h0.8v0.8h-0.8zM75.7,91.9h0.8v0.8h-0.8zM74.1,98.5h0.8v0.8h-0.8zM70.9,97.6h0.8v0.8h-0.8zM73.2,93.9h0.8v0.8h-0.8zM76.0,89.6h0.8v0.8h-0.8zM76.1,98.6h0.8v0.8h-0.8zM76.4,98.1h0.8v0.8h-0.8zM74.7,89.7h0.8v0.8h-0.8zM76.3,91.7h0.8v0.8h-0.8zM71.0,98.7h0.8v0.8h-0.8zM75.0,89.9h0.8v0.8h-0.8zM76.2,97.5h0.8v0.8h-0.8zM73.3,98.4h0.8v0.8h-0.8zM71.8,95.4h0.8v0.8h-0.8zM76.5,86.6h0.8v0.8h-0.8zM73.1,92.4h0.8v0.8h-0.8zM72.6,97.7h0.8v0.8h-0.8zM75.4,87.5h0.8v0.8h-0.8zM75.8,90.7h0.8v0.8h-0.8zM72.1,99.0h0.8v0.8h-0.8zM73.6,89.9h0.8v0.8h-0.8zM72.6,97.4h0.8v0.8h-0.8zM75.8,87.1h0.8v0.8h-0.8zM75.6,94.4h0.8v0.8h-0.8zM72.1,93.2h0.8v0.8h-0.8zM74.9,98.8h0.8v0.8h-0.8zM74.9,98.3h0.8v0.8h-0.8zM74.4,90.5h0.8v0.8h-0.8zM69.2,97.9h0.8v0.8h-0.8zM73.7,96.8h0.8v0.8h-0.8zM74.5,96.4h0.8v0.8h-0.8zM69.1,98.5h0.8v0.8h-0.8zM71.9,96.0h0.8v0.8h-0.8zM76.3,87.0h0.8v0.8h-0.8zM71.9,95.7h0.8v0.8h-0.8zM76.5,87.4h0.8v0.8h-0.8zM73.8,93.6h0.8v0.8h-0.8zM70.1,99.6h0.8v0.8h-0.8zM75.2,88.3h0.8v0.8h-0.8zM75.1,92.4h0.8v0.8h-0.8zM75.9,99.6h0.8v0.8h-0.8zM76.4,90.4h0.8v0.8h-0.8zM76.5,87.4h0.8v0.8h-0.8zM74.0,89.6h0.8v0.8h-0.8zM74.6,94.8h0.8v0.8h-0.8zM71.6,94.2h0.8v0.8h-0.8zM76.3,91.1h0.8v0.8h-0.8zM74.2,96.6h0.8v0.8h-0.8zM70.4,97.9h0.8v0.8h-0.8zM76.1,86.1h0.8v0.8h-0.8zM75.8,91.1h0.8v0.8h-0.8zM75.3,89.9h0.8v0.8h-0.8zM73.9,92.6h0.8v0.8h-0.8zM73.5,95.0h0.8v0.8h-0.8zM71.8,99.5h0.8v0.8h-0.8zM70.5,99.6h0.8v0.8h-0.8zM75.1,90.6h0.8v0.8h-0.8zM72.7,98.6h0.8v0.8h-0.8zM71.5,97.9h0.8v0.8h-0.8zM75.7,89.4h0.8v0.8h-0.8zM72.7,99.7h0.8v0.8h-0.8zM73.5,90.4h0.8v0.8h-0.8zM74.4,90.5h0.8v0.8h-0.8zM75.1,93.3h0.8v0.8h-0.8zM74.7,92.4h0.8v0.8h-0.8zM74.7,94.9h0.8v0.8h-0.8zM74.7,91.8h0.8v0.8h-0.8zM73.8,97.9h0.8v0.8h-0.8zM71.5,99.0h0.8v0.8h-0.8zM72.9,96.6h0.8v0.8h-0.8zM72.5,94.6h0.8v0.8h-0.8zM70.1,97.5h0.8v0.8h-0.8zM74.9,94.8h0.8v0.8h-0.8zM72.8,91.4h0.8v0.8h-0.8zM75.0,92.2h0.8v0.8h-0.8zM71.2,94.9h0.8v0.8h-0.8zM76.3,92.5h0.8v0.8h-0.8zM75.3,86.8h0.8v0.8h-0.8zM75.3,98.5h0.8v0.8h-0.8zM70.6,95.0h0.8v0.8h-0.8zM76.1,96.0h0.8v0.8h-0.8zM76.0,93.1h0.8v0.8h-0.8zM76.1,98.9h0.8v0.8h-0.8zM75.5,89.0h0.8v0.8h-0.8zM74.8,90.3h0.8v0.8h-0.8zM70.8,96.3h0.8v0.8h-0.8zM68.8,99.5h0.8v0.8h-0.8zM76.1,90.1h0.8v0.8h-0.8zM76.0,90.8h0.8v0.8h-0.8zM76.3,94.3h0.8v0.8h-0.8zM73.4,99.1h0.8v0.8h-0.8zM74.6,89.0h0.8v0.8h-0.8zM70.0,99.3h0.8v0.8h-0.8zM75.3,97.9h0.8v0.8h-0.8zM74.9,89.0h0.8v0.8h-0.8zM75.6,98.7h0.8v0.8h-0.8zM75.5,96.6h0.8v0.8h-0.8zM74.9,99.0h0.8v0.8h-0.8zM75.4,97.3h0.8v0.8h-0.8zM73.7,92.8h0.8v0.8h-0.8zM72.8,97.2h0.8v0.8h-0.8zM73.1,96.9h0.8v0.8h-0.8zM70.9,94.6h0.8v0.8h-0.8zM74.4,97.7h0.8v0.8h-0.8zM74.6,90.2h0.8v0.8h-0.8zM74.1,89.3h0.8v0.8h-0.8zM75.0,97.0h0.8v0.8h-0.8zM75.4,99.1h0.8v0.8h-0.8zM76.4,88.4h0.8v0.8h-0.8zM76.1,87.3h0.8v0.8h-0.8zM71.2,98.8h0.8v0.8h-0.8zM75.3,96.8h0.8v0.8h-0.8zM75.7,90.9h0.8v0.8h-0.8zM73.7,95.4h0.8v0.8h-0.8zM73.8,96.1h0.8v0.8h-0.8zM75.7,99.9h0.8v0.8h-0.8zM76.3,94.2h0.8v0.8h-0.8zM76.3,93.6h0.8v0.8h-0.8zM75.9,98.2h0.8v0.8h-0.8zM75.4,97.5h0.8v0.8h-0.8zM75.9,89.6h0.8v0.8h-0.8zM72.9,96.5h0.8v0.8h-0.8zM70.1,98.4h0.8v0.8h-0.8zM76.5,96.5h0.8v0.8h-0.8zM75.2,95.0h0.8v0.8h-0.8zM73.8,92.5h0.8v0.8h-0.8zM75.1,98.0h0.8v0.8h-0.8zM75.6,94.0h0.8v0.8h-0.8zM76.3,93.1h0.8v0.8h-0.8zM73.6,91.2h0.8v0.8h-0.8zM76.1,97.6h0.8v0.8h-0.8zM76.3,95.0h0.8v0.8h-0.8zM76.2,93.7h0.8v0.8h-0.8zM71.2,97.1h0.8v0.8h-0.8zM73.4,97.5h0.8v0.8h-0.8zM71.8,98.3h0.8v0.8h-0.8zM74.8,94.4h0.8v0.8h-0.8zM73.1,93.1h0.8v0.8h-0.8zM71.3,98.6h0.8v0.8h-0.8zM75.7,97.6h0.8v0.8h-0.8zM71.4,95.2h0.8v0.8h-0.8zM72.8,92.6h0.8v0.8h-0.8zM76.4,90.8h0.8v0.8h-0.8zM73.7,91.2h0.8v0.8h-0.8zM76.3,97.9h0.8v0.8h-0.8zM73.3,94.9h0.8v0.8h-0.8zM73.0,96.9h0.8v0.8h-0.8zM73.8,99.4h0.8v0.8h-0.8zM75.3,94.0h0.8v0.8h-0.8zM72.5,97.5h0.8v0.8h-0.8zM74.1,94.1h0.8v0.8h-0.8zM71.7,94.1h0.8v0.8h-0.8zM73.5,97.3h0.8v0.8h-0.8zM73.9,93.2h0.8v0.8h-0.8zM75.6,91.6h0.8v0.8h-0.8zM71.8,99.0h0.8v0.8h-0.8zM69.2,98.6h0.8v0.8h-0.8zM72.8,97.6h0.8v0.8h-0.8zM74.7,97.7h0.8v0.8h-0.8zM71.1,99.8h0.8v0.8h-0.8zM75.0,98.4h0.8v0.8h-0.8zM73.7,93.0h0.8v0.8h-0.8zM73.8,98.9h0.8v0.8h-0.8zM71.4,97.6h0.8v0.8h-0.8zM74.5,99.1h0.8v0.8h-0.8zM73.2,90.4h0.8v0.8h-0.8zM75.2,91.9h0.8v0.8h-0.8zM74.4,89.1h0.8v0.8h-0.8zM74.3,90.8h0.8v0.8h-0.8zM74.7,91.5h0.8v0.8h-0.8zM74.8,99.1h0.8v0.8h-0.8zM70.1,99.6h0.8v0.8h-0.8zM73.9,95.0h0.8v0.8h-0.8zM73.6,93.5h0.8v0.8h-0.8zM74.2,98.6h0.8v0.8h-0.8zM75.8,95.6h0.8v0.8h-0.8zM74.6,94.9h0.8v0.8h-0.8zM75.5,96.8h0.8v0.8h-0.8zM74.0,96.2h0.8v0.8h-0.8zM76.5,89.7h0.8v0.8h-0.8zM74.7,94.1h0.8v0.8h-0.8zM69.9,96.1h0.8v0.8h-0.8zM72.5,98.4h0.8v0.8h-0.8zM72.2,94.1h0.8v0.8h-0.8zM73.5,95.8h0.8v0.8h-0.8zM72.6,97.4h0.8v0.8h-0.8zM72.7,93.0h0.8v0.8h-0.8zM74.9,87.7h0.8v0.8h-0.8zM73.8,97.9h0.8v0.8h-0.8zM74.2,99.1h0.8v0.8h-0.8zM76.1,94.2h0.8v0.8h-0.8zM70.6,99.8h0.8v0.8h-0.8zM71.7,96.9h0.8v0.8h-0.8zM75.6,98.3h0.8v0.8h-0.8zM74.9,92.6h0.8v0.8h-0.8zM70.4,98.0h0.8v0.8h-0.8zM74.5,92.4h0.8v0.8h-0.8zM72.9,96.5h0.8v0.8h-0.8zM71.4,98.0h0.8v0.8h-0.8zM74.7,95.1h0.8v0.8h-0.8zM73.8,93.8h0.8v0.8h-0.8zM73.8,93.6h0.8v0.8h-0.8zM73.0,93.8h0.8v0.8h-0.8zM71.6,98.4h0.8v0.8h-0.8zM76.0,88.2h0.8v0.8h-0.8zM74.6,89.1h0.8v0.8h-0.8zM75.5,92.0h0.8v0.8h-0.8zM72.9,91.3h0.8v0.8h-0.8zM75.3,90.1h0.8v0.8h-0.8zM75.0,87.3h0.8v0.8h-0.8zM74.2,94.0h0.8v0.8h-0.8zM74.2,91.1h0.8v0.8h-0.8zM72.4,96.8h0.8v0.8h-0.8zM74.5,93.3h0.8v0.8h-0.8zM75.8,92.1h0.8v0.8h-0.8zM71.5,97.5h0.8v0.8h-0.8zM76.3,85.6h0.8v0.8h-0.8zM73.1,94.0h0.8v0.8h-0.8zM72.9,99.3h0.8v0.8h-0.8zM73.6,90.5h0.8v0.8h-0.8zM74.3,92.1h0.8v0.8h-0.8zM76.4,90.5h0.8v0.8h-0.8zM73.7,94.8h0.8v0.8h-0.8zM74.3,93.3h0.8v0.8h-0.8zM73.5,95.2h0.8v0.8h-0.8zM74.8,97.4h0.8v0.8h-0.8zM71.5,99.0h0.8v0.8h-0.8zM69.8,98.8h0.8v0.8h-0.8zM70.0,95.9h0.8v0.8h-0.8zM74.9,91.3h0.8v0.8h-0.8zM72.5,92.7h0.8v0.8h-0.8zM73.4,93.7h0.8v0.8h-0.8zM74.5,88.3h0.8v0.8h-0.8zM76.5,95.5h0.8v0.8h-0.8zM71.4,99.0h0.8v0.8h-0.8zM76.1,86.3h0.8v0.8h-0.8zM71.2,99.8h0.8v0.8h-0.8zM73.6,92.3h0.8v0.8h-0.8zM74.3,98.2h0.8v0.8h-0.8zM74.1,99.6h0.8v0.8h-0.8zM71.7,97.2h0.8v0.8h-0.8zM74.6,99.1h0.8v0.8h-0.8zM73.0,96.5h0.8v0.8h-0.8zM70.1,97.7h0.8v0.8h-0.8zM74.2,88.9h0.8v0.8h-0.8zM76.0,96.8h0.8v0.8h-0.8zM71.1,96.0h0.8v0.8h-0.8zM69.4,97.0h0.8v0.8h-0.8zM76.2,96.4h0.8v0.8h-0.8zM75.5,96.7h0.8v0.8h-0.8zM72.7,95.3h0.8v0.8h-0.8zM73.7,99.6h0.8v0.8h-0.8zM76.2,94.4h0.8v0.8h-0.8zM74.1,99.2h0.8v0.8h-0.8zM68.9,99.8h0.8v0.8h-0.8zM75.1,98.6h0.8v0.8h-0.8zM73.5,91.0h0.8v0.8h-0.8zM76.4,99.9h0.8v0.8h-0.8zM75.4,86.5h0.8v0.8h-0.8zM75.9,97.0h0.8v0.8h-0.8zM72.8,99.6h0.8v0.8h-0.8zM74.6,90.3h0.8v0.8h-0.8zM74.7,98.1h0.8v0.8h-0.8zM76.3,98.3h0.8v0.8h-0.8zM71.9,96.3h0.8v0.8h-0.8zM71.9,92.7h0.8v0.8h-0.8zM73.7,95.8h0.8v0.8h-0.8zM75.9,94.0h0.8v0.8h-0.8zM75.3,91.3h0.8v0.8h-0.8zM72.6,92.3h0.8v0.8h-0.8zM71.0,97.1h0.8v0.8h-0.8zM75.1,92.9h0.8v0.8h-0.8zM74.6,98.9h0.8v0.8h-0.8zM74.8,95.4h0.8v0.8h-0.8zM74.9,96.8h0.8v0.8h-0.8zM73.3,92.3h0.8v0.8h-0.8zM74.2,92.4h0.8v0.8h-0.8zM74.6,96.4h0.8v0.8h-0.8zM71.5,96.9h0.8v0.8h-0.8zM71.4,93.6h0.8v0.8h-0.8zM76.1,85.7h0.8v0.8h-0.8zM75.0,90.5h0.8v0.8h-0.8zM73.6,91.4h0.8v0.8h-0.8zM76.4,88.5h0.8v0.8h-0.8zM71.4,98.4h0.8v0.8h-0.8zM76.2,98.0h0.8v0.8h-0.8zM73.8,92.4h0.8v0.8h-0.8zM76.0,94.0h0.8v0.8h-0.8zM75.5,92.2h0.8v0.8h-0.8zM74.8,88.1h0.8v0.8h-0.8zM75.6,96.1h0.8v0.8h-0.8zM75.8,88.2h0.8v0.8h-0.8zM70.8,99.1h0.8v0.8h-0.8zM75.4,89.5h0.8v0.8h-0.8zM71.8,99.8h0.8v0.8h-0.8zM76.6,86.7h0.8v0.8h-0.8zM74.4,90.3h0.8v0.8h-0.8zM73.7,96.3h0.8v0.8h-0.8zM74.2,97.8h0.8v0.8h-0.8zM75.8,90.3h0.8v0.8h-0.8zM76.1,87.6h0.8v0.8h-0.8zM75.1,88.0h0.8v0.8h-0.8zM75.0,97.2h0.8v0.8h-0.8zM73.9,98.4h0.8v0.8h-0.8zM74.4,98.9h0.8v0.8h-0.8zM71.1,99.7h0.8v0.8h-0.8zM75.0,88.0h0.8v0.8h-0.8zM72.2,99.0h0.8v0.8h-0.8zM74.8,94.9h0.8v0.8h-0.8zM76.4,87.1h0.8v0.8h-0.8zM76.5,97.8h0.8v0.8h-0.8zM73.7,90.3h0.8v0.8h-0.8zM75.5,90.1h0.8v0.8h-0.8zM72.9,94.0h0.8v0.8h-0.8zM72.7,99.7h0.8v0.8h-0.8zM73.0,98.4h0.8v0.8h-0.8zM74.1,96.4h0.8v0.8h-0.8zM75.9,94.2h0.8v0.8h-0.8zM74.1,90.3h0.8v0.8h-0.8zM73.2,96.5h0.8v0.8h-0.8zM76.4,94.9h0.8v0.8h-0.8zM72.2,98.6h0.8v0.8h-0.8zM73.9,94.3h0.8v0.8h-0.8zM74.0,90.1h0.8v0.8h-0.8zM71.4,94.7h0.8v0.8h-0.8zM76.3,91.3h0.8v0.8h-0.8zM74.1,96.5h0.8v0.8h-0.8zM75.9,94.1h0.8v0.8h-0.8zM74.0,89.3h0.8v0.8h-0.8zM76.0,99.5h0.8v0.8h-0.8zM71.8,94.8h0.8v0.8h-0.8zM75.9,91.1h0.8v0.8h-0.8zM74.1,89.1h0.8v0.8h-0.8zM74.8,94.6h0.8v0.8h-0.8zM73.7,94.8h0.8v0.8h-0.8zM71.4,95.3h0.8v0.8h-0.8zM73.2,98.7h0.8v0.8h-0.8zM72.7,98.5h0.8v0.8h-0.8zM75.0,89.2h0.8v0.8h-0.8zM76.3,95.0h0.8v0.8h-0.8zM75.4,96.0h0.8v0.8h-0.8zM73.1,96.7h0.8v0.8h-0.8zM75.9,91.3h0.8v0.8h-0.8zM76.5,97.3h0.8v0.8h-0.8zM68.8,99.2h0.8v0.8h-0.8zM74.8,88.3h0.8v0.8h-0.8zM69.6,98.5h0.8v0.8h-0.8zM71.6,95.2h0.8v0.8h-0.8zM76.5,87.0h0.8v0.8h-0.8zM76.5,96.5h0.8v0.8h-0.8zM75.6,99.9h0.8v0.8h-0.8zM76.0,95.1h0.8v0.8h-0.8zM75.5,87.6h0.8v0.8h-0.8zM75.4,89.6h0.8v0.8h-0.8zM74.8,90.9h0.8v0.8h-0.8zM73.4,92.4h0.8v0.8h-0.8zM74.8,90.3h0.8v0.8h-0.8zM72.9,91.3h0.8v0.8h-0.8zM75.2,98.5h0.8v0.8h-0.8zM72.5,97.9h0.8v0.8h-0.8zM72.3,98.1h0.8v0.8h-0.8zM71.2,95.8h0.8v0.8h-0.8zM75.9,98.5h0.8v0.8h-0.8zM71.6,98.4h0.8v0.8h-0.8zM74.4,94.2h0.8v0.8h-0.8zM70.7,94.8h0.8v0.8h-0.8zM75.2,97.2h0.8v0.8h-0.8zM76.0,96.2h0.8v0.8h-0.8zM75.1,99.6h0.8v0.8h-0.8zM72.0,94.2h0.8v0.8h-0.8zM76.1,97.6h0.8v0.8h-0.8zM71.4,94.2h0.8v0.8h-0.8zM73.4,97.1h0.8v0.8h-0.8zM71.8,95.7h0.8v0.8h-0.8zM76.4,90.4h0.8v0.8h-0.8zM74.8,95.6h0.8v0.8h-0.8zM75.3,88.2h0.8v0.8h-0.8zM75.2,99.8h0.8v0.8h-0.8zM76.5,96.4h0.8v0.8h-0.8zM75.2,91.2h0.8v0.8h-0.8zM74.2,93.9h0.8v0.8h-0.8zM75.2,95.7h0.8v0.8h-0.8zM73.7,89.8h0.8v0.8h-0.8zM74.0,93.8h0.8v0.8h-0.8zM76.5,87.7h0.8v0.8h-0.8zM68.0,99.5h0.8v0.8h-0.8zM73.1,91.4h0.8v0.8h-0.8zM73.6,99.3h0.8v0.8h-0.8zM73.3,90.9h0.8v0.8h-0.8zM73.5,92.9h0.8v0.8h-0.8zM72.5,93.8h0.8v0.8h-0.8zM74.2,97.0h0.8v0.8h-0.8zM71.7,94.8h0.8v0.8h-0.8zM74.7,88.2h0.8v0.8h-0.8zM72.2,97.2h0.8v0.8h-0.8zM76.4,92.8h0.8v0.8h-0.8zM76.1,85.6h0.8v0.8h-0.8zM76.1,93.0h0.8v0.8h-0.8zM73.4,92.0h0.8v0.8h-0.8zM74.9,89.0h0.8v0.8h-0.8zM75.7,91.3h0.8v0.8h-0.8zM73.7,93.3h0.8v0.8h-0.8zM74.1,99.8h0.8v0.8h-0.8zM73.3,97.3h0.8v0.8h-0.8zM76.5,91.8h0.8v0.8h-0.8zM73.2,90.8h0.8v0.8h-0.8zM69.7,98.0h0.8v0.8h-0.8zM76.3,91.0h0.8v0.8h-0.8zM75.9,88.1h0.8v0.8h-0.8zM70.0,97.3h0.8v0.8h-0.8zM68.7,99.1h0.8v0.8h-0.8zM70.7,96.1h0.8v0.8h-0.8zM74.0,99.5h0.8v0.8h-0.8zM76.5,97.0h0.8v0.8h-0.8zM76.0,98.2h0.8v0.8h-0.8zM74.0,99.1h0.8v0.8h-0.8zM76.2,91.7h0.8v0.8h-0.8zM74.0,92.5h0.8v0.8h-0.8zM76.6,98.3h0.8v0.8h-0.8zM74.2,95.8h0.8v0.8h-0.8zM74.2,89.1h0.8v0.8h-0.8zM76.1,97.4h0.8v0.8h-0.8zM72.1,94.3h0.8v0.8h-0.8zM76.3,95.2h0.8v0.8h-0.8zM72.0,99.2h0.8v0.8h-0.8zM71.5,94.4h0.8v0.8h-0.8zM71.3,97.6h0.8v0.8h-0.8zM70.5,98.0h0.8v0.8h-0.8zM71.7,95.1h0.8v0.8h-0.8zM74.7,95.8h0.8v0.8h-0.8zM74.4,98.2h0.8v0.8h-0.8zM75.9,97.7h0.8v0.8h-0.8zM71.9,96.6h0.8v0.8h-0.8zM74.1,91.8h0.8v0.8h-0.8zM71.7,96.5h0.8v0.8h-0.8zM75.3,99.8h0.8v0.8h-0.8zM74.9,88.4h0.8v0.8h-0.8zM74.8,95.6h0.8v0.8h-0.8zM76.5,98.9h0.8v0.8h-0.8zM74.2,88.6h0.8v0.8h-0.8zM75.7,87.0h0.8v0.8h-0.8zM76.1,90.8h0.8v0.8h-0.8zM72.3,97.9h0.8v0.8h-0.8zM74.1,90.8h0.8v0.8h-0.8zM70.7,98.3h0.8v0.8h-0.8zM72.7,98.6h0.8v0.8h-0.8zM75.9,86.7h0.8v0.8h-0.8zM75.4,97.8h0.8v0.8h-0.8zM76.4,98.4h0.8v0.8h-0.8zM73.9,98.6h0.8v0.8h-0.8zM71.1,98.9h0.8v0.8h-0.8zM74.6,95.5h0.8v0.8h-0.8zM76.3,88.0h0.8v0.8h-0.8zM70.7,96.7h0.8v0.8h-0.8zM73.7,98.2h0.8v0.8h-0.8zM71.4,95.7h0.8v0.8h-0.8zM73.8,93.5h0.8v0.8h-0.8zM75.5,98.9h0.8v0.8h-0.8zM74.6,94.8h0.8v0.8h-0.8zM74.9,93.2h0.8v0.8h-0.8zM73.8,93.5h0.8v0.8h-0.8zM71.0,94.3h0.8v0.8h-0.8zM76.4,96.7h0.8v0.8h-0.8zM68.9,97.9h0.8v0.8h-0.8zM71.8,96.0h0.8v0.8h-0.8zM75.7,99.5h0.8v0.8h-0.8zM72.8,91.0h0.8v0.8h-0.8zM75.0,96.5h0.8v0.8h-0.8zM76.3,99.3h0.8v0.8h-0.8zM74.1,90.4h0.8v0.8h-0.8zM72.4,92.0h0.8v0.8h-0.8zM69.2,98.2h0.8v0.8h-0.8zM75.5,97.4h0.8v0.8h-0.8zM68.1,99.3h0.8v0.8h-0.8zM75.9,98.8h0.8v0.8h-0.8zM72.1,94.2h0.8v0.8h-0.8zM70.0,97.3h0.8v0.8h-0.8zM74.0,96.8h0.8v0.8h-0.8zM76.2,89.6h0.8v0.8h-0.8zM76.6,88.2h0.8v0.8h-0.8zM73.7,91.5h0.8v0.8h-0.8zM71.8,93.2h0.8v0.8h-0.8zM74.9,91.1h0.8v0.8h-0.8zM73.7,96.3h0.8v0.8h-0.8zM76.5,85.8h0.8v0.8h-0.8zM76.2,98.8h0.8v0.8h-0.8zM74.9,89.8h0.8v0.8h-0.8zM69.4,97.4h0.8v0.8h-0.8zM76.3,90.9h0.8v0.8h-0.8zM75.1,98.0h0.8v0.8h-0.8zM74.8,87.7h0.8v0.8h-0.8zM74.2,96.3h0.8v0.8h-0.8zM74.2,92.8h0.8v0.8h-0.8zM75.0,95.3h0.8v0.8h-0.8zM71.9,95.7h0.8v0.8h-0.8zM76.4,87.4h0.8v0.8h-0.8zM73.2,97.4h0.8v0.8h-0.8zM74.7,94.8h0.8v0.8h-0.8zM72.8,97.7h0.8v0.8h-0.8zM74.3,90.0h0.8v0.8h-0.8zM72.5,96.9h0.8v0.8h-0.8zM70.1,99.1h0.8v0.8h-0.8zM71.0,96.2h0.8v0.8h-0.8zM74.8,87.7h0.8v0.8h-0.8zM75.2,89.7h0.8v0.8h-0.8zM71.5,98.3h0.8v0.8h-0.8zM73.9,98.2h0.8v0.8h-0.8zM73.3,96.6h0.8v0.8h-0.8zM76.3,93.0h0.8v0.8h-0.8zM73.3,98.9h0.8v0.8h-0.8zM74.6,90.4h0.8v0.8h-0.8zM75.2,91.8h0.8v0.8h-0.8zM74.5,91.1h0.8v0.8h-0.8zM71.8,97.1h0.8v0.8h-0.8zM76.0,87.9h0.8v0.8h-0.8zM75.3,91.3h0.8v0.8h-0.8zM75.8,87.4h0.8v0.8h-0.8zM75.1,99.2h0.8v0.8h-0.8z" fill="#0a0a0a" fill-opacity="0.55"/>
<path d="M37.9,87.2 C37.6,84.0 39.2,81.8 42.2,81.5 C45.4,81.2 49.4,81.8 50.9,83.8 C50.4,86.2 46.8,89.4 43.6,91.2 C41.2,92.4 38.2,91.2 37.9,87.2 Z" fill="#f8f8f8" stroke="#5a5a5a" stroke-width="1.1"/>
<path d="M39.7,87.0 C39.6,84.8 40.8,83.3 42.9,83.1 C45.2,82.9 47.6,83.4 48.6,84.4 C47.8,86.2 45.4,88.4 43.2,89.6 C41.4,90.4 39.8,89.4 39.7,87.0 Z" fill="none" stroke="#b0b0b0" stroke-width="0.5"/>
<ellipse cx="42.0" cy="87.0" rx="1.3" ry="2.3" transform="rotate(20 42.0 87.0)" fill="none" stroke="#888" stroke-width="0.5" />
<path d="M75.2,100.2 C75.3,93 76.8,86.2 79.2,85.6 C81.6,86.2 82.7,93 82.4,100.2 Z" fill="#f2f2f2"/>
<path d="M75.2,100.2 C75.3,93 76.8,86.2 79.2,85.6 C81.6,86.2 82.7,93 82.4,100.2" fill="none" stroke="#0a0a0a" stroke-width="1.9" stroke-linejoin="round"/>
<path d="M77.4,99.2 C77.5,94.5 78.2,90.6 79.2,89.6 C80.2,90.6 80.6,94.5 80.4,99.2" fill="none" stroke="#999" stroke-width="0.5"/>
<path d="M78.4,98.8 C78.5,96 78.8,94 79.2,93.4 C79.6,94 79.8,96 79.7,98.8" fill="none" stroke="#aaa" stroke-width="0.4"/>
<path d="M68.6,107.6 C69.5,104.6 72.2,102.6 75.0,102.1 C78.0,101.6 81.0,101.4 82.4,102.2 C83.4,104.5 82.4,109.5 81.4,113.6 C79.0,114.2 75.0,112.6 72.0,111.0 C69.8,109.8 68.4,109.0 68.6,107.6 Z" fill="#f6f6f6" stroke="#666" stroke-width="1.0"/>
<path d="M71.0,107.4 C71.8,105.4 73.8,104.2 76.0,104.0 C78.2,103.8 80.2,103.8 80.8,104.6 C81.2,106.6 80.6,109.8 79.8,111.8 C78.0,112.0 75.0,110.8 73.0,109.8 C71.6,109.0 70.8,108.4 71.0,107.4 Z" fill="none" stroke="#aaa" stroke-width="0.5"/>
<ellipse cx="76.8" cy="107.6" rx="2.6" ry="1.8" transform="rotate(-10 76.8 107.6)" fill="none" stroke="#bbb" stroke-width="0.45" />
<rect x="59.4" y="78.1" width="28.0" height="22.5" fill="none" stroke="#666" stroke-width="0.7"/>
<rect x="59.4" y="100.6" width="28.0" height="16.7" fill="none" stroke="#666" stroke-width="0.7"/>
<rect x="33.0" y="61.0" width="61.90" height="58.10" fill="none" stroke="#4a4a4a" stroke-width="1.2"/>
<line x1="33.00" y1="60.60" x2="33.00" y2="119.60" stroke="#222" stroke-width="1.0" />
<line x1="32.50" y1="119.10" x2="95.35" y2="119.10" stroke="#111" stroke-width="1.1" />
<text x="27.9" y="68.20" font-size="5.2" text-anchor="end" fill="#222">10<tspan font-size="3.12" dy="-2.08">5</tspan></text>
<line x1="30.00" y1="66.00" x2="33.00" y2="66.00" stroke="#222" stroke-width="0.7" />
<line x1="31.00" y1="75.79" x2="33.00" y2="75.79" stroke="#222" stroke-width="0.55" />
<line x1="31.00" y1="73.32" x2="33.00" y2="73.32" stroke="#222" stroke-width="0.55" />
<line x1="31.00" y1="71.57" x2="33.00" y2="71.57" stroke="#222" stroke-width="0.55" />
<line x1="31.00" y1="70.21" x2="33.00" y2="70.21" stroke="#222" stroke-width="0.55" />
<line x1="31.00" y1="69.11" x2="33.00" y2="69.11" stroke="#222" stroke-width="0.55" />
<line x1="31.00" y1="68.17" x2="33.00" y2="68.17" stroke="#222" stroke-width="0.55" />
<line x1="31.00" y1="67.36" x2="33.00" y2="67.36" stroke="#222" stroke-width="0.55" />
<line x1="31.00" y1="66.64" x2="33.00" y2="66.64" stroke="#222" stroke-width="0.55" />
<text x="27.9" y="82.20" font-size="5.2" text-anchor="end" fill="#222">10<tspan font-size="3.12" dy="-2.08">4</tspan></text>
<line x1="30.00" y1="80.00" x2="33.00" y2="80.00" stroke="#222" stroke-width="0.7" />
<line x1="31.00" y1="89.79" x2="33.00" y2="89.79" stroke="#222" stroke-width="0.55" />
<line x1="31.00" y1="87.32" x2="33.00" y2="87.32" stroke="#222" stroke-width="0.55" />
<line x1="31.00" y1="85.57" x2="33.00" y2="85.57" stroke="#222" stroke-width="0.55" />
<line x1="31.00" y1="84.21" x2="33.00" y2="84.21" stroke="#222" stroke-width="0.55" />
<line x1="31.00" y1="83.11" x2="33.00" y2="83.11" stroke="#222" stroke-width="0.55" />
<line x1="31.00" y1="82.17" x2="33.00" y2="82.17" stroke="#222" stroke-width="0.55" />
<line x1="31.00" y1="81.36" x2="33.00" y2="81.36" stroke="#222" stroke-width="0.55" />
<line x1="31.00" y1="80.64" x2="33.00" y2="80.64" stroke="#222" stroke-width="0.55" />
<text x="27.9" y="96.20" font-size="5.2" text-anchor="end" fill="#222">10<tspan font-size="3.12" dy="-2.08">3</tspan></text>
<line x1="30.00" y1="94.00" x2="33.00" y2="94.00" stroke="#222" stroke-width="0.7" />
<line x1="31.00" y1="99.57" x2="33.00" y2="99.57" stroke="#222" stroke-width="0.55" />
<line x1="31.00" y1="98.21" x2="33.00" y2="98.21" stroke="#222" stroke-width="0.55" />
<line x1="31.00" y1="97.11" x2="33.00" y2="97.11" stroke="#222" stroke-width="0.55" />
<line x1="31.00" y1="96.17" x2="33.00" y2="96.17" stroke="#222" stroke-width="0.55" />
<line x1="31.00" y1="95.36" x2="33.00" y2="95.36" stroke="#222" stroke-width="0.55" />
<line x1="31.00" y1="94.64" x2="33.00" y2="94.64" stroke="#222" stroke-width="0.55" />
<line x1="31.00" y1="61.79" x2="33.00" y2="61.79" stroke="#222" stroke-width="0.55" />
<line x1="31.00" y1="59.32" x2="33.00" y2="59.32" stroke="#222" stroke-width="0.55" />
<text x="28.00" y="108.80" font-size="5.2" text-anchor="end" fill="#222" >0</text>
<line x1="30.00" y1="107.00" x2="33.00" y2="107.00" stroke="#222" stroke-width="0.7" />
<text x="27.80" y="120.80" font-size="5.2" text-anchor="end" fill="#222" >&#8722;974</text>
<line x1="31.00" y1="100.50" x2="33.00" y2="100.50" stroke="#222" stroke-width="0.55" />
<line x1="31.00" y1="102.50" x2="33.00" y2="102.50" stroke="#222" stroke-width="0.55" />
<line x1="31.00" y1="104.50" x2="33.00" y2="104.50" stroke="#222" stroke-width="0.55" />
<line x1="31.00" y1="109.50" x2="33.00" y2="109.50" stroke="#222" stroke-width="0.55" />
<line x1="31.00" y1="111.50" x2="33.00" y2="111.50" stroke="#222" stroke-width="0.55" />
<line x1="31.00" y1="113.50" x2="33.00" y2="113.50" stroke="#222" stroke-width="0.55" />
<line x1="31.00" y1="115.50" x2="33.00" y2="115.50" stroke="#222" stroke-width="0.55" />
<line x1="31.00" y1="117.50" x2="33.00" y2="117.50" stroke="#222" stroke-width="0.55" />
<text x="28.40" y="128.60" font-size="5.2" text-anchor="middle" fill="#222" >&#8722;139</text>
<text x="39.70" y="128.60" font-size="5.2" text-anchor="middle" fill="#222" >0</text>
<text x="47.00" y="128.60" font-size="5.2" text-anchor="middle" fill="#222">10<tspan font-size="3.12" dy="-2.08">2</tspan></text>
<text x="60.00" y="128.60" font-size="5.2" text-anchor="middle" fill="#222">10<tspan font-size="3.12" dy="-2.08">3</tspan></text>
<text x="74.80" y="128.60" font-size="5.2" text-anchor="middle" fill="#222">10<tspan font-size="3.12" dy="-2.08">4</tspan></text>
<text x="88.60" y="128.60" font-size="5.2" text-anchor="middle" fill="#222">10<tspan font-size="3.12" dy="-2.08">5</tspan></text>
<line x1="39.70" y1="119.10" x2="39.70" y2="122.10" stroke="#222" stroke-width="0.7" />
<line x1="45.60" y1="119.10" x2="45.60" y2="122.10" stroke="#222" stroke-width="0.7" />
<line x1="59.40" y1="119.10" x2="59.40" y2="122.10" stroke="#222" stroke-width="0.7" />
<line x1="74.20" y1="119.10" x2="74.20" y2="122.10" stroke="#222" stroke-width="0.7" />
<line x1="88.00" y1="119.10" x2="88.00" y2="122.10" stroke="#222" stroke-width="0.7" />
<line x1="49.87" y1="119.10" x2="49.87" y2="121.30" stroke="#111" stroke-width="0.7" />
<line x1="52.38" y1="119.10" x2="52.38" y2="121.30" stroke="#111" stroke-width="0.7" />
<line x1="54.15" y1="119.10" x2="54.15" y2="121.30" stroke="#111" stroke-width="0.7" />
<line x1="55.53" y1="119.10" x2="55.53" y2="121.30" stroke="#111" stroke-width="0.7" />
<line x1="56.65" y1="119.10" x2="56.65" y2="121.30" stroke="#111" stroke-width="0.7" />
<line x1="57.60" y1="119.10" x2="57.60" y2="121.30" stroke="#111" stroke-width="0.7" />
<line x1="58.42" y1="119.10" x2="58.42" y2="121.30" stroke="#111" stroke-width="0.7" />
<line x1="59.15" y1="119.10" x2="59.15" y2="121.30" stroke="#111" stroke-width="0.7" />
<line x1="63.67" y1="119.10" x2="63.67" y2="121.30" stroke="#111" stroke-width="0.7" />
<line x1="66.18" y1="119.10" x2="66.18" y2="121.30" stroke="#111" stroke-width="0.7" />
<line x1="67.95" y1="119.10" x2="67.95" y2="121.30" stroke="#111" stroke-width="0.7" />
<line x1="69.33" y1="119.10" x2="69.33" y2="121.30" stroke="#111" stroke-width="0.7" />
<line x1="70.45" y1="119.10" x2="70.45" y2="121.30" stroke="#111" stroke-width="0.7" />
<line x1="71.40" y1="119.10" x2="71.40" y2="121.30" stroke="#111" stroke-width="0.7" />
<line x1="72.22" y1="119.10" x2="72.22" y2="121.30" stroke="#111" stroke-width="0.7" />
<line x1="72.95" y1="119.10" x2="72.95" y2="121.30" stroke="#111" stroke-width="0.7" />
<line x1="78.47" y1="119.10" x2="78.47" y2="121.30" stroke="#111" stroke-width="0.7" />
<line x1="80.98" y1="119.10" x2="80.98" y2="121.30" stroke="#111" stroke-width="0.7" />
<line x1="82.75" y1="119.10" x2="82.75" y2="121.30" stroke="#111" stroke-width="0.7" />
<line x1="84.13" y1="119.10" x2="84.13" y2="121.30" stroke="#111" stroke-width="0.7" />
<line x1="85.25" y1="119.10" x2="85.25" y2="121.30" stroke="#111" stroke-width="0.7" />
<line x1="86.20" y1="119.10" x2="86.20" y2="121.30" stroke="#111" stroke-width="0.7" />
<line x1="87.02" y1="119.10" x2="87.02" y2="121.30" stroke="#111" stroke-width="0.7" />
<line x1="87.75" y1="119.10" x2="87.75" y2="121.30" stroke="#111" stroke-width="0.7" />
<line x1="92.27" y1="119.10" x2="92.27" y2="121.10" stroke="#222" stroke-width="0.55" />
<line x1="94.78" y1="119.10" x2="94.78" y2="121.10" stroke="#222" stroke-width="0.55" />
<line x1="34.50" y1="119.10" x2="34.50" y2="121.30" stroke="#111" stroke-width="0.7" />
<line x1="36.00" y1="119.10" x2="36.00" y2="121.30" stroke="#111" stroke-width="0.7" />
<line x1="37.50" y1="119.10" x2="37.50" y2="121.30" stroke="#111" stroke-width="0.7" />
<line x1="41.20" y1="119.10" x2="41.20" y2="121.30" stroke="#111" stroke-width="0.7" />
<line x1="42.70" y1="119.10" x2="42.70" y2="121.30" stroke="#111" stroke-width="0.7" />
<line x1="44.20" y1="119.10" x2="44.20" y2="121.30" stroke="#111" stroke-width="0.7" />
<text x="63.1" y="75.3" font-size="5.5" fill="#111">CD4<tspan font-size="3.30" dy="-2">dim</tspan><tspan dy="2">CD8</tspan><tspan font-size="3.30" dy="-2">+</tspan></text>
<text x="34.2" y="117.6" font-size="5.5" fill="#333">CD4<tspan font-size="3.30" dy="-2">&#8722;</tspan><tspan dy="2">CD8</tspan><tspan font-size="3.30" dy="-2">+</tspan></text>
<text x="85.9" y="27.8" font-size="5.5" fill="#111">CD4<tspan font-size="3.30" dy="-2">dim</tspan><tspan dy="2">CD8</tspan><tspan font-size="3.30" dy="-2">+</tspan></text>
<text x="88.0" y="148.0" font-size="5.5" fill="#111">CD4<tspan font-size="3.30" dy="-2">&#8722;</tspan><tspan dy="2">CD8</tspan><tspan font-size="3.30" dy="-2">+</tspan></text>
<path d="M87.6,91.3 H100.4 V32.4" fill="none" stroke="#333" stroke-width="0.8"/>
<path d="M100.4,30 L98.9,32.8 L101.9,32.8 Z" fill="#222"/>
<path d="M87.6,107.4 H99.4 V139.0" fill="none" stroke="#333" stroke-width="0.8"/>
<path d="M99.4,141.4 L97.9,138.7 L100.9,138.7 Z" fill="#222"/>
<path d="M14.1,103.5 V133.2 H45.0" fill="none" stroke="#444" stroke-width="0.9"/>
<path d="M14.1,100.9 L12.5,103.9 L15.7,103.9 Z" fill="#111"/>
<path d="M47.4,133.2 L44.4,131.6 L44.4,134.8 Z" fill="#111"/>
<text transform="translate(11.4,120.3) rotate(-90) scale(0.9,1)" font-size="8.4" text-anchor="middle" fill="#111">CD4</text>
<text transform="translate(30.2,141.6) scale(0.95,1)" font-size="8.0" text-anchor="middle" fill="#111">CD8</text>
<line x1="40.60" y1="211.00" x2="40.60" y2="336.10" stroke="#111" stroke-width="1.3" />
<line x1="37.60" y1="334.80" x2="40.60" y2="334.80" stroke="#222" stroke-width="1.0" />
<text x="34.80" y="337.30" font-size="8.2" text-anchor="end" fill="#222" >0</text>
<line x1="37.60" y1="310.80" x2="40.60" y2="310.80" stroke="#222" stroke-width="1.0" />
<text x="34.80" y="313.30" font-size="8.2" text-anchor="end" fill="#222" >20</text>
<line x1="37.60" y1="286.80" x2="40.60" y2="286.80" stroke="#222" stroke-width="1.0" />
<text x="34.80" y="289.30" font-size="8.2" text-anchor="end" fill="#222" >40</text>
<line x1="37.60" y1="262.80" x2="40.60" y2="262.80" stroke="#222" stroke-width="1.0" />
<text x="34.80" y="265.30" font-size="8.2" text-anchor="end" fill="#222" >60</text>
<line x1="37.60" y1="238.80" x2="40.60" y2="238.80" stroke="#222" stroke-width="1.0" />
<text x="34.80" y="241.30" font-size="8.2" text-anchor="end" fill="#222" >80</text>
<line x1="37.60" y1="214.80" x2="40.60" y2="214.80" stroke="#222" stroke-width="1.0" />
<text x="34.80" y="217.30" font-size="8.2" text-anchor="end" fill="#222" >100</text>
<line x1="38.80" y1="322.80" x2="40.60" y2="322.80" stroke="#222" stroke-width="1.0" />
<line x1="38.80" y1="298.80" x2="40.60" y2="298.80" stroke="#222" stroke-width="1.0" />
<line x1="38.80" y1="274.80" x2="40.60" y2="274.80" stroke="#222" stroke-width="1.0" />
<line x1="38.80" y1="250.80" x2="40.60" y2="250.80" stroke="#222" stroke-width="1.0" />
<line x1="38.80" y1="226.80" x2="40.60" y2="226.80" stroke="#222" stroke-width="1.0" />
<line x1="40.00" y1="335.50" x2="97.70" y2="335.50" stroke="#111" stroke-width="1.3" />
<line x1="56.70" y1="335.50" x2="56.70" y2="338.70" stroke="#222" stroke-width="1.1" />
<line x1="81.00" y1="335.50" x2="81.00" y2="338.70" stroke="#222" stroke-width="1.1" />
<line x1="56.70" y1="214.60" x2="56.70" y2="317.50" stroke="#4a4a4a" stroke-width="1.1" />
<line x1="53.10" y1="214.60" x2="60.30" y2="214.60" stroke="#333" stroke-width="1.1" />
<line x1="53.10" y1="317.50" x2="60.30" y2="317.50" stroke="#333" stroke-width="1.1" />
<circle cx="50.70" cy="215.30" r="2.05" fill="#d2002c"/>
<circle cx="55.40" cy="215.10" r="2.05" fill="#d2002c"/>
<circle cx="59.60" cy="215.30" r="2.05" fill="#d2002c"/>
<circle cx="63.30" cy="215.30" r="2.05" fill="#d2002c"/>
<circle cx="53.00" cy="216.60" r="2.05" fill="#d2002c"/>
<circle cx="61.50" cy="216.80" r="2.05" fill="#d2002c"/>
<circle cx="50.20" cy="219.00" r="2.05" fill="#d2002c"/>
<circle cx="52.20" cy="219.40" r="2.05" fill="#d2002c"/>
<circle cx="61.80" cy="219.20" r="2.05" fill="#d2002c"/>
<circle cx="63.60" cy="219.40" r="2.05" fill="#d2002c"/>
<circle cx="57.40" cy="221.40" r="2.05" fill="#d2002c"/>
<circle cx="50.60" cy="222.30" r="2.05" fill="#d2002c"/>
<circle cx="53.00" cy="222.30" r="2.05" fill="#d2002c"/>
<circle cx="55.40" cy="222.40" r="2.05" fill="#d2002c"/>
<circle cx="59.60" cy="222.60" r="2.05" fill="#d2002c"/>
<circle cx="62.60" cy="222.30" r="2.05" fill="#d2002c"/>
<circle cx="52.00" cy="224.00" r="2.05" fill="#d2002c"/>
<circle cx="55.00" cy="224.20" r="2.05" fill="#d2002c"/>
<circle cx="58.00" cy="224.00" r="2.05" fill="#d2002c"/>
<circle cx="61.00" cy="224.00" r="2.05" fill="#d2002c"/>
<circle cx="59.40" cy="225.60" r="2.05" fill="#d2002c"/>
<circle cx="56.70" cy="229.80" r="2.05" fill="#d2002c"/>
<circle cx="50.50" cy="236.90" r="2.05" fill="#d2002c"/>
<circle cx="53.00" cy="236.90" r="2.05" fill="#d2002c"/>
<circle cx="56.00" cy="237.30" r="2.05" fill="#d2002c"/>
<circle cx="59.00" cy="236.70" r="2.05" fill="#d2002c"/>
<circle cx="62.00" cy="236.20" r="2.05" fill="#d2002c"/>
<circle cx="64.00" cy="236.00" r="2.05" fill="#d2002c"/>
<circle cx="53.50" cy="238.70" r="2.05" fill="#d2002c"/>
<circle cx="57.50" cy="238.50" r="2.05" fill="#d2002c"/>
<circle cx="56.20" cy="241.50" r="2.05" fill="#d2002c"/>
<circle cx="57.00" cy="245.30" r="2.05" fill="#d2002c"/>
<circle cx="55.60" cy="249.40" r="2.05" fill="#d2002c"/>
<circle cx="57.75" cy="252.50" r="2.05" fill="#d2002c"/>
<circle cx="56.60" cy="317.50" r="2.05" fill="#d2002c"/>
<line x1="48.70" y1="224.40" x2="64.70" y2="224.40" stroke="#111" stroke-width="1.3" />
<line x1="81.00" y1="219.40" x2="81.00" y2="316.20" stroke="#4a4a4a" stroke-width="1.1" />
<line x1="77.40" y1="219.40" x2="84.60" y2="219.40" stroke="#333" stroke-width="1.1" />
<line x1="77.40" y1="316.20" x2="84.60" y2="316.20" stroke="#333" stroke-width="1.1" />
<circle cx="81.00" cy="219.40" r="2.05" fill="#0b4f94"/>
<circle cx="81.00" cy="224.40" r="2.05" fill="#0b4f94"/>
<circle cx="77.50" cy="234.00" r="2.05" fill="#0b4f94"/>
<circle cx="81.00" cy="234.00" r="2.05" fill="#0b4f94"/>
<circle cx="84.40" cy="233.10" r="2.05" fill="#0b4f94"/>
<circle cx="87.10" cy="244.60" r="2.05" fill="#0b4f94"/>
<circle cx="77.50" cy="248.10" r="2.05" fill="#0b4f94"/>
<circle cx="81.00" cy="246.50" r="2.05" fill="#0b4f94"/>
<circle cx="84.40" cy="248.10" r="2.05" fill="#0b4f94"/>
<circle cx="81.00" cy="251.50" r="2.05" fill="#0b4f94"/>
<circle cx="77.50" cy="258.10" r="2.05" fill="#0b4f94"/>
<circle cx="81.00" cy="257.25" r="2.05" fill="#0b4f94"/>
<circle cx="84.00" cy="255.00" r="2.05" fill="#0b4f94"/>
<circle cx="84.00" cy="264.10" r="2.05" fill="#0b4f94"/>
<circle cx="81.00" cy="267.75" r="2.05" fill="#0b4f94"/>
<circle cx="81.00" cy="273.75" r="2.05" fill="#0b4f94"/>
<circle cx="79.40" cy="284.40" r="2.05" fill="#0b4f94"/>
<circle cx="82.50" cy="284.40" r="2.05" fill="#0b4f94"/>
<circle cx="79.40" cy="289.60" r="2.05" fill="#0b4f94"/>
<circle cx="82.50" cy="289.60" r="2.05" fill="#0b4f94"/>
<circle cx="77.90" cy="298.50" r="2.05" fill="#0b4f94"/>
<circle cx="74.75" cy="303.40" r="2.05" fill="#0b4f94"/>
<circle cx="84.00" cy="302.10" r="2.05" fill="#0b4f94"/>
<circle cx="87.25" cy="302.10" r="2.05" fill="#0b4f94"/>
<circle cx="78.10" cy="305.60" r="2.05" fill="#0b4f94"/>
<circle cx="81.25" cy="305.60" r="2.05" fill="#0b4f94"/>
<circle cx="84.10" cy="306.60" r="2.05" fill="#0b4f94"/>
<circle cx="81.00" cy="310.25" r="2.05" fill="#0b4f94"/>
<circle cx="79.40" cy="316.90" r="2.05" fill="#0b4f94"/>
<circle cx="82.50" cy="316.00" r="2.05" fill="#0b4f94"/>
<line x1="73.00" y1="224.40" x2="89.00" y2="224.40" stroke="#111" stroke-width="1.3" />
<line x1="54.40" y1="208.50" x2="80.60" y2="208.50" stroke="#222" stroke-width="1.1" />
<circle cx="63.85" cy="204.50" r="1.05" fill="#111"/>
<circle cx="67.50" cy="204.50" r="1.05" fill="#111"/>
<circle cx="71.15" cy="204.50" r="1.05" fill="#111"/>
<line x1="142.30" y1="211.00" x2="142.30" y2="336.10" stroke="#111" stroke-width="1.3" />
<line x1="139.30" y1="334.80" x2="142.30" y2="334.80" stroke="#222" stroke-width="1.0" />
<text x="136.50" y="337.30" font-size="8.2" text-anchor="end" fill="#222" >0</text>
<line x1="139.30" y1="310.80" x2="142.30" y2="310.80" stroke="#222" stroke-width="1.0" />
<text x="136.50" y="313.30" font-size="8.2" text-anchor="end" fill="#222" >20</text>
<line x1="139.30" y1="286.80" x2="142.30" y2="286.80" stroke="#222" stroke-width="1.0" />
<text x="136.50" y="289.30" font-size="8.2" text-anchor="end" fill="#222" >40</text>
<line x1="139.30" y1="262.80" x2="142.30" y2="262.80" stroke="#222" stroke-width="1.0" />
<text x="136.50" y="265.30" font-size="8.2" text-anchor="end" fill="#222" >60</text>
<line x1="139.30" y1="238.80" x2="142.30" y2="238.80" stroke="#222" stroke-width="1.0" />
<text x="136.50" y="241.30" font-size="8.2" text-anchor="end" fill="#222" >80</text>
<line x1="139.30" y1="214.80" x2="142.30" y2="214.80" stroke="#222" stroke-width="1.0" />
<text x="136.50" y="217.30" font-size="8.2" text-anchor="end" fill="#222" >100</text>
<line x1="140.50" y1="322.80" x2="142.30" y2="322.80" stroke="#222" stroke-width="1.0" />
<line x1="140.50" y1="298.80" x2="142.30" y2="298.80" stroke="#222" stroke-width="1.0" />
<line x1="140.50" y1="274.80" x2="142.30" y2="274.80" stroke="#222" stroke-width="1.0" />
<line x1="140.50" y1="250.80" x2="142.30" y2="250.80" stroke="#222" stroke-width="1.0" />
<line x1="140.50" y1="226.80" x2="142.30" y2="226.80" stroke="#222" stroke-width="1.0" />
<line x1="141.70" y1="335.50" x2="199.80" y2="335.50" stroke="#111" stroke-width="1.3" />
<line x1="158.80" y1="335.50" x2="158.80" y2="338.70" stroke="#222" stroke-width="1.1" />
<line x1="183.00" y1="335.50" x2="183.00" y2="338.70" stroke="#222" stroke-width="1.1" />
<line x1="158.80" y1="215.00" x2="158.80" y2="322.30" stroke="#4a4a4a" stroke-width="1.1" />
<line x1="155.20" y1="215.00" x2="162.40" y2="215.00" stroke="#333" stroke-width="1.1" />
<line x1="155.20" y1="322.30" x2="162.40" y2="322.30" stroke="#333" stroke-width="1.1" />
<circle cx="159.80" cy="214.80" r="2.05" fill="#d2002c"/>
<circle cx="157.20" cy="216.50" r="2.05" fill="#d2002c"/>
<circle cx="157.20" cy="221.70" r="2.05" fill="#d2002c"/>
<circle cx="159.50" cy="223.30" r="2.05" fill="#d2002c"/>
<circle cx="152.00" cy="225.50" r="2.05" fill="#d2002c"/>
<circle cx="154.30" cy="226.10" r="2.05" fill="#d2002c"/>
<circle cx="156.90" cy="227.20" r="2.05" fill="#d2002c"/>
<circle cx="160.00" cy="226.90" r="2.05" fill="#d2002c"/>
<circle cx="164.30" cy="224.60" r="2.05" fill="#d2002c"/>
<circle cx="161.70" cy="229.10" r="2.05" fill="#d2002c"/>
<circle cx="157.20" cy="237.00" r="2.05" fill="#d2002c"/>
<circle cx="159.80" cy="236.30" r="2.05" fill="#d2002c"/>
<circle cx="154.60" cy="242.20" r="2.05" fill="#d2002c"/>
<circle cx="162.10" cy="241.10" r="2.05" fill="#d2002c"/>
<circle cx="159.80" cy="243.50" r="2.05" fill="#d2002c"/>
<circle cx="154.60" cy="246.50" r="2.05" fill="#d2002c"/>
<circle cx="162.10" cy="246.10" r="2.05" fill="#d2002c"/>
<circle cx="159.50" cy="247.40" r="2.05" fill="#d2002c"/>
<circle cx="152.00" cy="251.30" r="2.05" fill="#d2002c"/>
<circle cx="157.20" cy="250.70" r="2.05" fill="#d2002c"/>
<circle cx="162.40" cy="252.60" r="2.05" fill="#d2002c"/>
<circle cx="165.00" cy="252.60" r="2.05" fill="#d2002c"/>
<circle cx="154.60" cy="254.60" r="2.05" fill="#d2002c"/>
<circle cx="159.80" cy="255.20" r="2.05" fill="#d2002c"/>
<circle cx="162.40" cy="253.90" r="2.05" fill="#d2002c"/>
<circle cx="158.20" cy="260.40" r="2.05" fill="#d2002c"/>
<circle cx="157.20" cy="268.00" r="2.05" fill="#d2002c"/>
<circle cx="159.80" cy="268.00" r="2.05" fill="#d2002c"/>
<circle cx="158.50" cy="304.60" r="2.05" fill="#d2002c"/>
<circle cx="158.50" cy="322.30" r="2.05" fill="#d2002c"/>
<line x1="150.80" y1="242.00" x2="166.80" y2="242.00" stroke="#111" stroke-width="1.3" />
<line x1="183.00" y1="219.30" x2="183.00" y2="331.20" stroke="#4a4a4a" stroke-width="1.1" />
<line x1="179.40" y1="219.30" x2="186.60" y2="219.30" stroke="#333" stroke-width="1.1" />
<line x1="179.40" y1="331.20" x2="186.60" y2="331.20" stroke="#333" stroke-width="1.1" />
<circle cx="183.00" cy="219.30" r="2.05" fill="#0b4f94"/>
<circle cx="183.00" cy="229.50" r="2.05" fill="#0b4f94"/>
<circle cx="183.00" cy="235.00" r="2.05" fill="#0b4f94"/>
<circle cx="183.00" cy="242.80" r="2.05" fill="#0b4f94"/>
<circle cx="183.00" cy="248.40" r="2.05" fill="#0b4f94"/>
<circle cx="179.30" cy="252.80" r="2.05" fill="#0b4f94"/>
<circle cx="183.00" cy="256.30" r="2.05" fill="#0b4f94"/>
<circle cx="179.30" cy="261.70" r="2.05" fill="#0b4f94"/>
<circle cx="183.00" cy="264.30" r="2.05" fill="#0b4f94"/>
<circle cx="185.90" cy="262.40" r="2.05" fill="#0b4f94"/>
<circle cx="183.00" cy="268.90" r="2.05" fill="#0b4f94"/>
<circle cx="179.30" cy="272.20" r="2.05" fill="#0b4f94"/>
<circle cx="182.60" cy="273.50" r="2.05" fill="#0b4f94"/>
<circle cx="179.30" cy="281.00" r="2.05" fill="#0b4f94"/>
<circle cx="183.00" cy="279.70" r="2.05" fill="#0b4f94"/>
<circle cx="185.90" cy="281.30" r="2.05" fill="#0b4f94"/>
<circle cx="180.90" cy="286.80" r="2.05" fill="#0b4f94"/>
<circle cx="184.30" cy="285.50" r="2.05" fill="#0b4f94"/>
<circle cx="176.50" cy="303.40" r="2.05" fill="#0b4f94"/>
<circle cx="179.60" cy="301.10" r="2.05" fill="#0b4f94"/>
<circle cx="183.00" cy="300.40" r="2.05" fill="#0b4f94"/>
<circle cx="188.70" cy="299.40" r="2.05" fill="#0b4f94"/>
<circle cx="188.70" cy="304.30" r="2.05" fill="#0b4f94"/>
<circle cx="179.60" cy="307.00" r="2.05" fill="#0b4f94"/>
<circle cx="176.50" cy="310.20" r="2.05" fill="#0b4f94"/>
<circle cx="182.60" cy="310.90" r="2.05" fill="#0b4f94"/>
<circle cx="185.90" cy="310.20" r="2.05" fill="#0b4f94"/>
<circle cx="188.70" cy="310.20" r="2.05" fill="#0b4f94"/>
<circle cx="183.00" cy="315.00" r="2.05" fill="#0b4f94"/>
<circle cx="183.00" cy="331.20" r="2.05" fill="#0b4f94"/>
<line x1="175.00" y1="281.00" x2="191.00" y2="281.00" stroke="#111" stroke-width="1.3" />
<line x1="158.40" y1="208.10" x2="182.30" y2="208.10" stroke="#222" stroke-width="1.1" />
<circle cx="166.70" cy="204.10" r="1.05" fill="#111"/>
<circle cx="170.35" cy="204.10" r="1.05" fill="#111"/>
<circle cx="174.00" cy="204.10" r="1.05" fill="#111"/>
<line x1="247.50" y1="211.00" x2="247.50" y2="238.00" stroke="#111" stroke-width="1.3" />
<line x1="247.50" y1="241.60" x2="247.50" y2="335.80" stroke="#111" stroke-width="1.3" />
<line x1="244.50" y1="238.00" x2="250.70" y2="238.00" stroke="#111" stroke-width="1.2" />
<line x1="244.50" y1="241.80" x2="250.70" y2="241.80" stroke="#111" stroke-width="1.2" />
<line x1="244.50" y1="214.40" x2="247.50" y2="214.40" stroke="#222" stroke-width="1.0" />
<text x="241.70" y="216.90" font-size="8.2" text-anchor="end" fill="#222" >100</text>
<line x1="244.50" y1="221.90" x2="247.50" y2="221.90" stroke="#222" stroke-width="1.0" />
<text x="241.70" y="224.40" font-size="8.2" text-anchor="end" fill="#222" >80</text>
<line x1="244.50" y1="229.40" x2="247.50" y2="229.40" stroke="#222" stroke-width="1.0" />
<text x="241.70" y="231.90" font-size="8.2" text-anchor="end" fill="#222" >60</text>
<line x1="244.50" y1="236.50" x2="247.50" y2="236.50" stroke="#222" stroke-width="1.0" />
<text x="241.70" y="239.00" font-size="8.2" text-anchor="end" fill="#222" >40</text>
<text x="241.70" y="245.00" font-size="8.2" text-anchor="end" fill="#222" >40</text>
<line x1="244.50" y1="265.70" x2="247.50" y2="265.70" stroke="#222" stroke-width="1.0" />
<text x="241.70" y="268.20" font-size="8.2" text-anchor="end" fill="#222" >30</text>
<line x1="244.50" y1="288.90" x2="247.50" y2="288.90" stroke="#222" stroke-width="1.0" />
<text x="241.70" y="291.40" font-size="8.2" text-anchor="end" fill="#222" >20</text>
<line x1="244.50" y1="312.10" x2="247.50" y2="312.10" stroke="#222" stroke-width="1.0" />
<text x="241.70" y="314.60" font-size="8.2" text-anchor="end" fill="#222" >10</text>
<line x1="244.50" y1="335.30" x2="247.50" y2="335.30" stroke="#222" stroke-width="1.0" />
<text x="241.70" y="337.80" font-size="8.2" text-anchor="end" fill="#222" >0</text>
<line x1="245.70" y1="254.10" x2="247.50" y2="254.10" stroke="#222" stroke-width="1.0" />
<line x1="245.70" y1="277.30" x2="247.50" y2="277.30" stroke="#222" stroke-width="1.0" />
<line x1="245.70" y1="300.50" x2="247.50" y2="300.50" stroke="#222" stroke-width="1.0" />
<line x1="245.70" y1="323.70" x2="247.50" y2="323.70" stroke="#222" stroke-width="1.0" />
<line x1="246.90" y1="335.50" x2="303.80" y2="335.50" stroke="#111" stroke-width="1.3" />
<line x1="263.20" y1="335.50" x2="263.20" y2="338.70" stroke="#222" stroke-width="1.1" />
<line x1="287.30" y1="335.50" x2="287.30" y2="338.70" stroke="#222" stroke-width="1.1" />
<line x1="263.20" y1="242.30" x2="263.20" y2="327.50" stroke="#4a4a4a" stroke-width="1.1" />
<line x1="259.60" y1="242.30" x2="266.80" y2="242.30" stroke="#333" stroke-width="1.1" />
<line x1="259.60" y1="327.50" x2="266.80" y2="327.50" stroke="#333" stroke-width="1.1" />
<circle cx="263.20" cy="242.30" r="2.05" fill="#d2002c"/>
<circle cx="263.20" cy="252.30" r="2.05" fill="#d2002c"/>
<circle cx="263.20" cy="258.10" r="2.05" fill="#d2002c"/>
<circle cx="263.20" cy="273.80" r="2.05" fill="#d2002c"/>
<circle cx="263.20" cy="281.60" r="2.05" fill="#d2002c"/>
<circle cx="267.40" cy="294.60" r="2.05" fill="#d2002c"/>
<circle cx="259.10" cy="298.10" r="2.05" fill="#d2002c"/>
<circle cx="263.20" cy="302.40" r="2.05" fill="#d2002c"/>
<circle cx="259.10" cy="309.20" r="2.05" fill="#d2002c"/>
<circle cx="267.40" cy="309.20" r="2.05" fill="#d2002c"/>
<circle cx="263.10" cy="327.50" r="2.05" fill="#d2002c"/>
<line x1="255.20" y1="294.60" x2="271.20" y2="294.60" stroke="#111" stroke-width="1.3" />
<line x1="287.30" y1="290.40" x2="287.30" y2="333.00" stroke="#4a4a4a" stroke-width="1.1" />
<line x1="283.70" y1="290.40" x2="290.90" y2="290.40" stroke="#333" stroke-width="1.1" />
<line x1="283.70" y1="333.00" x2="290.90" y2="333.00" stroke="#333" stroke-width="1.1" />
<circle cx="287.30" cy="290.40" r="2.05" fill="#0b4f94"/>
<circle cx="281.30" cy="305.70" r="2.05" fill="#0b4f94"/>
<circle cx="287.30" cy="302.80" r="2.05" fill="#0b4f94"/>
<circle cx="293.40" cy="302.80" r="2.05" fill="#0b4f94"/>
<circle cx="287.30" cy="312.30" r="2.05" fill="#0b4f94"/>
<circle cx="281.30" cy="323.60" r="2.05" fill="#0b4f94"/>
<circle cx="287.30" cy="326.20" r="2.05" fill="#0b4f94"/>
<circle cx="293.40" cy="323.60" r="2.05" fill="#0b4f94"/>
<circle cx="284.20" cy="333.40" r="2.05" fill="#0b4f94"/>
<circle cx="290.30" cy="332.20" r="2.05" fill="#0b4f94"/>
<line x1="279.30" y1="317.50" x2="295.30" y2="317.50" stroke="#111" stroke-width="1.3" />
<line x1="263.20" y1="235.50" x2="287.30" y2="235.50" stroke="#222" stroke-width="1.1" />
<circle cx="271.60" cy="231.50" r="1.05" fill="#111"/>
<circle cx="275.25" cy="231.50" r="1.05" fill="#111"/>
<circle cx="278.90" cy="231.50" r="1.05" fill="#111"/>
<line x1="351.70" y1="211.00" x2="351.70" y2="336.00" stroke="#111" stroke-width="1.3" />
<line x1="348.70" y1="335.20" x2="351.70" y2="335.20" stroke="#222" stroke-width="1.0" />
<text x="345.90" y="337.70" font-size="8.2" text-anchor="end" fill="#222" >0</text>
<line x1="348.70" y1="311.04" x2="351.70" y2="311.04" stroke="#222" stroke-width="1.0" />
<text x="345.90" y="313.54" font-size="8.2" text-anchor="end" fill="#222" >20</text>
<line x1="348.70" y1="286.88" x2="351.70" y2="286.88" stroke="#222" stroke-width="1.0" />
<text x="345.90" y="289.38" font-size="8.2" text-anchor="end" fill="#222" >40</text>
<line x1="348.70" y1="262.72" x2="351.70" y2="262.72" stroke="#222" stroke-width="1.0" />
<text x="345.90" y="265.22" font-size="8.2" text-anchor="end" fill="#222" >60</text>
<line x1="348.70" y1="238.56" x2="351.70" y2="238.56" stroke="#222" stroke-width="1.0" />
<text x="345.90" y="241.06" font-size="8.2" text-anchor="end" fill="#222" >80</text>
<line x1="348.70" y1="214.40" x2="351.70" y2="214.40" stroke="#222" stroke-width="1.0" />
<text x="345.90" y="216.90" font-size="8.2" text-anchor="end" fill="#222" >100</text>
<line x1="349.90" y1="323.12" x2="351.70" y2="323.12" stroke="#222" stroke-width="1.0" />
<line x1="349.90" y1="298.96" x2="351.70" y2="298.96" stroke="#222" stroke-width="1.0" />
<line x1="349.90" y1="274.80" x2="351.70" y2="274.80" stroke="#222" stroke-width="1.0" />
<line x1="349.90" y1="250.64" x2="351.70" y2="250.64" stroke="#222" stroke-width="1.0" />
<line x1="349.90" y1="226.48" x2="351.70" y2="226.48" stroke="#222" stroke-width="1.0" />
<line x1="351.10" y1="335.40" x2="408.50" y2="335.40" stroke="#111" stroke-width="1.3" />
<line x1="368.00" y1="335.40" x2="368.00" y2="338.60" stroke="#222" stroke-width="1.1" />
<line x1="392.20" y1="335.40" x2="392.20" y2="338.60" stroke="#222" stroke-width="1.1" />
<line x1="368.00" y1="214.40" x2="368.00" y2="269.90" stroke="#4a4a4a" stroke-width="1.1" />
<line x1="364.40" y1="214.40" x2="371.60" y2="214.40" stroke="#333" stroke-width="1.1" />
<line x1="364.40" y1="269.90" x2="371.60" y2="269.90" stroke="#333" stroke-width="1.1" />
<circle cx="362.00" cy="215.30" r="2.05" fill="#d2002c"/>
<circle cx="374.00" cy="214.60" r="2.05" fill="#d2002c"/>
<circle cx="368.00" cy="217.70" r="2.05" fill="#d2002c"/>
<circle cx="368.00" cy="230.50" r="2.05" fill="#d2002c"/>
<circle cx="364.90" cy="237.90" r="2.05" fill="#d2002c"/>
<circle cx="370.90" cy="239.50" r="2.05" fill="#d2002c"/>
<circle cx="368.00" cy="248.50" r="2.05" fill="#d2002c"/>
<circle cx="368.00" cy="256.20" r="2.05" fill="#d2002c"/>
<circle cx="374.00" cy="260.50" r="2.05" fill="#d2002c"/>
<circle cx="368.00" cy="262.80" r="2.05" fill="#d2002c"/>
<circle cx="368.00" cy="269.90" r="2.05" fill="#d2002c"/>
<line x1="360.00" y1="239.10" x2="376.00" y2="239.10" stroke="#111" stroke-width="1.3" />
<line x1="392.20" y1="218.80" x2="392.20" y2="305.10" stroke="#4a4a4a" stroke-width="1.1" />
<line x1="388.60" y1="218.80" x2="395.80" y2="218.80" stroke="#333" stroke-width="1.1" />
<line x1="388.60" y1="305.10" x2="395.80" y2="305.10" stroke="#333" stroke-width="1.1" />
<circle cx="392.20" cy="218.80" r="2.05" fill="#0b4f94"/>
<circle cx="392.20" cy="229.40" r="2.05" fill="#0b4f94"/>
<circle cx="392.20" cy="236.00" r="2.05" fill="#0b4f94"/>
<circle cx="386.10" cy="281.00" r="2.05" fill="#0b4f94"/>
<circle cx="392.20" cy="281.30" r="2.05" fill="#0b4f94"/>
<circle cx="398.30" cy="280.20" r="2.05" fill="#0b4f94"/>
<circle cx="392.20" cy="290.40" r="2.05" fill="#0b4f94"/>
<circle cx="386.10" cy="298.80" r="2.05" fill="#0b4f94"/>
<circle cx="392.20" cy="301.20" r="2.05" fill="#0b4f94"/>
<circle cx="398.30" cy="301.20" r="2.05" fill="#0b4f94"/>
<circle cx="386.10" cy="305.10" r="2.05" fill="#0b4f94"/>
<line x1="384.20" y1="281.30" x2="400.20" y2="281.30" stroke="#111" stroke-width="1.3" />
<line x1="368.20" y1="207.50" x2="392.00" y2="207.50" stroke="#222" stroke-width="1.1" />
<circle cx="376.45" cy="203.50" r="1.05" fill="#111"/>
<circle cx="380.10" cy="203.50" r="1.05" fill="#111"/>
<circle cx="383.75" cy="203.50" r="1.05" fill="#111"/>
<line x1="456.70" y1="208.60" x2="456.70" y2="332.90" stroke="#111" stroke-width="1.3" />
<line x1="453.70" y1="332.30" x2="456.70" y2="332.30" stroke="#222" stroke-width="1.0" />
<text x="450.90" y="334.80" font-size="8.2" text-anchor="end" fill="#222" >0</text>
<line x1="453.70" y1="308.18" x2="456.70" y2="308.18" stroke="#222" stroke-width="1.0" />
<text x="450.90" y="310.68" font-size="8.2" text-anchor="end" fill="#222" >20</text>
<line x1="453.70" y1="284.06" x2="456.70" y2="284.06" stroke="#222" stroke-width="1.0" />
<text x="450.90" y="286.56" font-size="8.2" text-anchor="end" fill="#222" >40</text>
<line x1="453.70" y1="259.94" x2="456.70" y2="259.94" stroke="#222" stroke-width="1.0" />
<text x="450.90" y="262.44" font-size="8.2" text-anchor="end" fill="#222" >60</text>
<line x1="453.70" y1="235.82" x2="456.70" y2="235.82" stroke="#222" stroke-width="1.0" />
<text x="450.90" y="238.32" font-size="8.2" text-anchor="end" fill="#222" >80</text>
<line x1="453.70" y1="211.70" x2="456.70" y2="211.70" stroke="#222" stroke-width="1.0" />
<text x="450.90" y="214.20" font-size="8.2" text-anchor="end" fill="#222" >100</text>
<line x1="454.90" y1="320.24" x2="456.70" y2="320.24" stroke="#222" stroke-width="1.0" />
<line x1="454.90" y1="296.12" x2="456.70" y2="296.12" stroke="#222" stroke-width="1.0" />
<line x1="454.90" y1="272.00" x2="456.70" y2="272.00" stroke="#222" stroke-width="1.0" />
<line x1="454.90" y1="247.88" x2="456.70" y2="247.88" stroke="#222" stroke-width="1.0" />
<line x1="454.90" y1="223.76" x2="456.70" y2="223.76" stroke="#222" stroke-width="1.0" />
<line x1="456.10" y1="332.30" x2="513.70" y2="332.30" stroke="#111" stroke-width="1.3" />
<line x1="472.40" y1="332.30" x2="472.40" y2="335.50" stroke="#222" stroke-width="1.1" />
<line x1="496.80" y1="332.30" x2="496.80" y2="335.50" stroke="#222" stroke-width="1.1" />
<line x1="472.40" y1="211.70" x2="472.40" y2="263.50" stroke="#4a4a4a" stroke-width="1.1" />
<line x1="468.80" y1="211.70" x2="476.00" y2="211.70" stroke="#333" stroke-width="1.1" />
<line x1="468.80" y1="263.50" x2="476.00" y2="263.50" stroke="#333" stroke-width="1.1" />
<circle cx="466.70" cy="211.70" r="2.05" fill="#d2002c"/>
<circle cx="470.90" cy="214.60" r="2.05" fill="#d2002c"/>
<circle cx="474.80" cy="212.50" r="2.05" fill="#d2002c"/>
<circle cx="478.70" cy="211.70" r="2.05" fill="#d2002c"/>
<circle cx="470.40" cy="221.60" r="2.05" fill="#d2002c"/>
<circle cx="474.80" cy="220.40" r="2.05" fill="#d2002c"/>
<circle cx="466.70" cy="239.10" r="2.05" fill="#d2002c"/>
<circle cx="470.90" cy="242.30" r="2.05" fill="#d2002c"/>
<circle cx="474.80" cy="241.20" r="2.05" fill="#d2002c"/>
<circle cx="471.00" cy="263.50" r="2.05" fill="#d2002c"/>
<circle cx="474.80" cy="263.20" r="2.05" fill="#d2002c"/>
<line x1="464.40" y1="221.60" x2="480.40" y2="221.60" stroke="#111" stroke-width="1.3" />
<line x1="496.80" y1="211.70" x2="496.80" y2="300.80" stroke="#4a4a4a" stroke-width="1.1" />
<line x1="493.20" y1="211.70" x2="500.40" y2="211.70" stroke="#333" stroke-width="1.1" />
<line x1="493.20" y1="300.80" x2="500.40" y2="300.80" stroke="#333" stroke-width="1.1" />
<circle cx="496.80" cy="211.70" r="2.05" fill="#0b4f94"/>
<circle cx="492.80" cy="220.40" r="2.05" fill="#0b4f94"/>
<circle cx="499.80" cy="223.50" r="2.05" fill="#0b4f94"/>
<circle cx="496.80" cy="232.40" r="2.05" fill="#0b4f94"/>
<circle cx="492.80" cy="243.50" r="2.05" fill="#0b4f94"/>
<circle cx="501.10" cy="245.00" r="2.05" fill="#0b4f94"/>
<circle cx="496.80" cy="256.40" r="2.05" fill="#0b4f94"/>
<circle cx="496.80" cy="264.00" r="2.05" fill="#0b4f94"/>
<circle cx="496.80" cy="282.00" r="2.05" fill="#0b4f94"/>
<circle cx="496.80" cy="293.20" r="2.05" fill="#0b4f94"/>
<circle cx="496.80" cy="300.80" r="2.05" fill="#0b4f94"/>
<line x1="488.80" y1="245.00" x2="504.80" y2="245.00" stroke="#111" stroke-width="1.3" />
<line x1="473.20" y1="204.70" x2="496.70" y2="204.70" stroke="#222" stroke-width="1.1" />
<circle cx="481.30" cy="200.70" r="1.05" fill="#111"/>
<circle cx="484.95" cy="200.70" r="1.05" fill="#111"/>
<circle cx="488.60" cy="200.70" r="1.05" fill="#111"/>
<text transform="translate(16.30,273.10) rotate(-90) scale(0.88,1)" font-size="9.0" text-anchor="middle" fill="#111">% CD38<tspan font-size="5.58" dy="-3.78">high</tspan><tspan dy="3.78">&#8203;</tspan></text>
<text transform="translate(117.70,273.90) rotate(-90) scale(0.8,1)" font-size="9.0" text-anchor="middle" fill="#111">% HLA-DR<tspan font-size="6.48" dy="-3.78">+</tspan><tspan dy="3.78">&#8203;</tspan></text>
<text transform="translate(223.60,273.40) rotate(-90) scale(0.86,1)" font-size="9.0" text-anchor="middle" fill="#111">% CD25<tspan font-size="6.48" dy="-3.78">+</tspan><tspan dy="3.78">&#8203;</tspan></text>
<text transform="translate(327.80,273.40) rotate(-90) scale(0.86,1)" font-size="9.0" text-anchor="middle" fill="#111">% PD1<tspan font-size="6.48" dy="-3.78">+</tspan><tspan dy="3.78">&#8203;</tspan></text>
<text transform="translate(433.20,269.80) rotate(-90) scale(0.9,1)" font-size="9.0" text-anchor="middle" fill="#111">% CD95<tspan font-size="6.48" dy="-3.78">+</tspan><tspan dy="3.78">&#8203;</tspan></text>
<text transform="translate(63.10,346.40) rotate(-45) scale(0.9,1)" font-size="9.0" text-anchor="end" fill="#111">CD4<tspan font-size="5.58" dy="-3.78">dim</tspan><tspan dy="3.78">&#8203;</tspan>CD8<tspan font-size="5.58" dy="-3.78">+</tspan><tspan dy="3.78">&#8203;</tspan></text>
<text transform="translate(87.40,346.40) rotate(-45) scale(0.9,1)" font-size="9.0" text-anchor="end" fill="#111">CD4<tspan font-size="5.58" dy="-3.78">&#8722;</tspan><tspan dy="3.78">&#8203;</tspan>CD8<tspan font-size="5.58" dy="-3.78">+</tspan><tspan dy="3.78">&#8203;</tspan></text>
<text transform="translate(165.20,346.40) rotate(-45) scale(0.9,1)" font-size="9.0" text-anchor="end" fill="#111">CD4<tspan font-size="5.58" dy="-3.78">dim</tspan><tspan dy="3.78">&#8203;</tspan>CD8<tspan font-size="5.58" dy="-3.78">+</tspan><tspan dy="3.78">&#8203;</tspan></text>
<text transform="translate(189.40,346.40) rotate(-45) scale(0.9,1)" font-size="9.0" text-anchor="end" fill="#111">CD4<tspan font-size="5.58" dy="-3.78">&#8722;</tspan><tspan dy="3.78">&#8203;</tspan>CD8<tspan font-size="5.58" dy="-3.78">+</tspan><tspan dy="3.78">&#8203;</tspan></text>
<text transform="translate(269.60,346.40) rotate(-45) scale(0.9,1)" font-size="9.0" text-anchor="end" fill="#111">CD4<tspan font-size="5.58" dy="-3.78">dim</tspan><tspan dy="3.78">&#8203;</tspan>CD8<tspan font-size="5.58" dy="-3.78">+</tspan><tspan dy="3.78">&#8203;</tspan></text>
<text transform="translate(293.70,346.40) rotate(-45) scale(0.9,1)" font-size="9.0" text-anchor="end" fill="#111">CD4<tspan font-size="5.58" dy="-3.78">&#8722;</tspan><tspan dy="3.78">&#8203;</tspan>CD8<tspan font-size="5.58" dy="-3.78">+</tspan><tspan dy="3.78">&#8203;</tspan></text>
<text transform="translate(374.40,346.60) rotate(-45) scale(0.9,1)" font-size="9.0" text-anchor="end" fill="#111">CD4<tspan font-size="5.58" dy="-3.78">dim</tspan><tspan dy="3.78">&#8203;</tspan>CD8<tspan font-size="5.58" dy="-3.78">+</tspan><tspan dy="3.78">&#8203;</tspan></text>
<text transform="translate(398.60,346.60) rotate(-45) scale(0.9,1)" font-size="9.0" text-anchor="end" fill="#111">CD4<tspan font-size="5.58" dy="-3.78">&#8722;</tspan><tspan dy="3.78">&#8203;</tspan>CD8<tspan font-size="5.58" dy="-3.78">+</tspan><tspan dy="3.78">&#8203;</tspan></text>
<text transform="translate(478.80,343.50) rotate(-45) scale(0.9,1)" font-size="9.0" text-anchor="end" fill="#111">CD4<tspan font-size="5.58" dy="-3.78">dim</tspan><tspan dy="3.78">&#8203;</tspan>CD8<tspan font-size="5.58" dy="-3.78">+</tspan><tspan dy="3.78">&#8203;</tspan></text>
<text transform="translate(503.20,343.50) rotate(-45) scale(0.9,1)" font-size="9.0" text-anchor="end" fill="#111">CD4<tspan font-size="5.58" dy="-3.78">&#8722;</tspan><tspan dy="3.78">&#8203;</tspan>CD8<tspan font-size="5.58" dy="-3.78">+</tspan><tspan dy="3.78">&#8203;</tspan></text>
<rect x="0" y="0" width="520" height="1.1" fill="#111"/>
<rect x="0" y="0" width="1.1" height="383" fill="#111"/>
<rect x="518.7" y="0" width="1.3" height="383" fill="#111"/>
<rect x="0" y="381.6" width="520" height="1.4" fill="#111"/></g>
</svg></body></html>
